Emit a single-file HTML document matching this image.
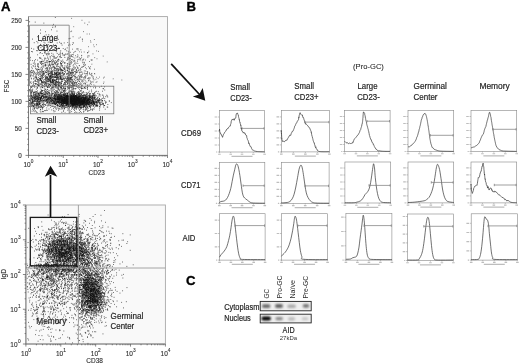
<!DOCTYPE html>
<html><head><meta charset="utf-8"><style>
html,body{margin:0;padding:0;background:#fff;width:520px;height:364px;overflow:hidden}
svg{display:block;filter:blur(0.3px)}
text{font-family:"Liberation Sans",sans-serif}
</style></head><body>
<svg width="520" height="364" viewBox="0 0 520 364">
<defs><filter id="sb" x="0" y="0" width="100%" height="100%"><feGaussianBlur stdDeviation="0.3"/></filter></defs>
<rect x="28.5" y="16.6" width="139.0" height="138.8" fill="#f9f9f9" stroke="#a8a8a8" stroke-width="0.9"/>
<g filter="url(#sb)">
<path stroke="#111" stroke-opacity="1.0" stroke-width="0.75" fill="none" d="M75.0 96.0h.75M78.6 96.1h.75M71.7 102.0h.75M64.3 108.5h.75M69.5 97.0h.75M63.1 103.1h.75M75.7 101.5h.75M91.1 97.8h.75M69.1 99.4h.75M67.6 99.5h.75M80.9 98.6h.75M79.3 107.2h.75M76.3 94.4h.75M63.8 101.3h.75M74.6 101.7h.75M83.3 99.1h.75M58.9 100.3h.75M69.5 103.2h.75M52.2 100.0h.75M59.5 101.2h.75M52.9 101.8h.75M72.2 93.8h.75M59.8 104.7h.75M78.3 108.3h.75M76.9 103.9h.75M72.8 103.8h.75M44.8 94.4h.75M68.5 99.9h.75M74.4 97.9h.75M76.4 98.7h.75M56.6 102.9h.75M69.3 97.7h.75M63.3 99.6h.75M65.3 93.8h.75M87.7 100.7h.75M65.3 100.4h.75M74.6 98.3h.75M85.6 98.8h.75M68.0 106.5h.75M73.7 96.5h.75M76.3 97.2h.75M75.8 98.0h.75M60.3 103.8h.75M75.9 107.6h.75M91.3 102.5h.75M56.4 97.3h.75M85.3 99.7h.75M76.4 104.2h.75M67.3 97.2h.75M99.0 106.6h.75M84.1 105.7h.75M60.6 100.1h.75M75.9 102.8h.75M81.9 103.4h.75M72.7 105.6h.75M83.2 97.5h.75M74.2 104.5h.75M83.0 99.8h.75M92.3 98.9h.75M66.9 100.5h.75M77.4 100.0h.75M69.4 97.1h.75M76.5 95.4h.75M60.8 96.8h.75M68.0 105.0h.75M72.6 107.0h.75M85.8 103.3h.75M88.7 105.2h.75M59.1 98.1h.75M65.5 99.9h.75M82.8 101.9h.75M51.1 95.8h.75M69.4 97.1h.75M73.8 100.9h.75M90.1 100.3h.75M83.3 97.5h.75M71.1 101.7h.75M70.6 99.5h.75M72.0 103.8h.75M93.3 101.5h.75M69.9 99.4h.75M71.4 100.8h.75M79.2 100.2h.75M73.6 98.3h.75M72.6 99.2h.75M61.6 102.4h.75M74.9 102.7h.75M69.7 104.6h.75M89.0 95.7h.75M82.8 99.7h.75M74.7 99.2h.75M83.0 101.6h.75M70.9 98.9h.75M87.6 99.5h.75M74.9 103.2h.75M82.0 101.5h.75M59.5 96.0h.75M79.2 105.2h.75M54.7 102.9h.75M50.6 97.5h.75M71.3 103.2h.75M64.2 97.6h.75M77.0 104.4h.75M101.9 101.2h.75M65.0 97.5h.75M67.5 99.0h.75M77.5 98.2h.75M80.9 101.5h.75M72.9 101.1h.75M72.5 100.6h.75M83.4 99.2h.75M81.2 88.8h.75M62.6 100.3h.75M74.0 94.3h.75M75.4 101.4h.75M62.3 103.7h.75M78.1 101.7h.75M64.7 98.8h.75M86.7 100.6h.75M77.3 100.3h.75M76.1 98.8h.75M67.9 98.3h.75M73.6 97.5h.75M51.0 103.3h.75M61.4 99.9h.75M79.4 104.0h.75M49.5 98.5h.75M85.2 101.3h.75M54.0 99.0h.75M84.1 102.6h.75M64.9 102.8h.75M84.3 101.9h.75M76.6 98.5h.75M56.6 97.1h.75M90.0 106.8h.75M92.3 100.5h.75M74.2 99.6h.75M71.7 105.3h.75M73.1 104.1h.75M63.3 101.8h.75M88.2 99.9h.75M68.5 108.0h.75M74.4 101.9h.75M65.5 101.9h.75M67.5 99.7h.75M59.7 95.2h.75M90.1 96.9h.75M73.2 101.9h.75M86.6 102.5h.75M75.2 99.8h.75M66.7 96.3h.75M71.1 95.6h.75M68.3 99.2h.75M75.1 95.8h.75M70.5 103.3h.75M71.4 104.2h.75M58.5 109.1h.75M65.3 103.0h.75M94.8 99.6h.75M66.9 97.3h.75M62.4 88.6h.75M79.0 98.8h.75M91.9 100.9h.75M57.6 102.9h.75M72.5 102.5h.75M67.4 102.2h.75M53.9 100.2h.75M83.8 103.2h.75M74.7 105.4h.75M75.9 97.1h.75M66.0 98.6h.75M80.5 96.3h.75M68.5 105.6h.75M73.3 104.8h.75M61.7 102.4h.75M60.4 95.9h.75M91.0 102.0h.75M68.9 99.5h.75M78.5 101.0h.75M74.6 100.0h.75M69.7 102.1h.75M68.9 99.0h.75M82.6 103.8h.75M71.4 101.2h.75M73.2 99.5h.75M75.3 100.2h.75M89.1 99.9h.75M83.2 103.7h.75M79.6 99.9h.75M68.2 101.2h.75M58.4 98.5h.75M86.4 96.3h.75M86.6 104.2h.75M73.3 97.0h.75M81.5 103.2h.75M84.4 102.5h.75M85.0 95.6h.75M86.1 98.0h.75M69.5 98.6h.75M93.2 98.8h.75M60.0 96.0h.75M85.3 103.6h.75M80.9 100.1h.75M85.5 102.4h.75M97.5 100.3h.75M92.8 102.5h.75M61.3 97.4h.75M54.7 99.5h.75M84.8 103.0h.75M62.8 100.1h.75M74.9 99.1h.75M85.1 97.5h.75M55.3 100.2h.75M49.7 100.5h.75M78.1 99.9h.75M75.5 98.1h.75M72.1 102.2h.75M75.5 108.8h.75M64.7 99.1h.75M56.8 100.8h.75M73.0 101.7h.75M63.3 91.5h.75M55.3 100.0h.75M81.1 98.6h.75M74.3 105.1h.75M79.9 100.0h.75M63.1 97.4h.75M67.1 99.5h.75M63.0 100.6h.75M64.4 98.2h.75M77.3 100.5h.75M65.6 95.7h.75M79.3 100.1h.75M79.1 103.4h.75M99.3 108.3h.75M58.3 102.1h.75M85.7 102.0h.75M73.9 104.5h.75M74.8 104.0h.75M57.6 105.2h.75M69.5 103.9h.75M83.9 100.7h.75M74.0 101.4h.75M76.0 101.2h.75M71.5 101.4h.75M88.9 102.0h.75M74.7 98.0h.75M48.6 92.3h.75M66.7 98.0h.75M51.4 92.7h.75M36.0 98.9h.75M68.6 100.3h.75M91.0 95.9h.75M75.6 102.9h.75M60.9 102.8h.75M63.7 100.4h.75M88.6 106.8h.75M76.9 106.9h.75M75.6 96.6h.75M74.4 104.0h.75M75.5 102.1h.75M84.7 102.5h.75M81.6 104.0h.75M77.6 98.4h.75M62.5 98.0h.75M81.1 98.2h.75M66.8 97.7h.75M88.1 100.9h.75M59.7 95.0h.75M73.3 97.1h.75M74.9 102.5h.75M59.1 99.6h.75M95.7 102.9h.75M92.5 95.2h.75M69.4 97.7h.75M84.3 99.2h.75M79.5 100.9h.75M43.6 97.1h.75M78.0 103.8h.75M74.3 100.4h.75M76.0 100.7h.75M62.1 100.0h.75M71.8 102.8h.75M72.9 98.9h.75M89.3 105.0h.75M79.0 102.3h.75M74.9 101.1h.75M93.3 101.7h.75M68.3 102.0h.75M70.3 103.7h.75M53.2 102.6h.75M93.8 102.8h.75M86.6 104.1h.75M86.0 101.5h.75M83.0 105.1h.75M76.3 100.6h.75M77.6 93.9h.75M72.0 104.9h.75M72.6 100.8h.75M75.7 96.8h.75M93.1 100.9h.75M81.7 98.0h.75M74.3 107.5h.75M68.0 101.9h.75M67.4 95.0h.75M94.2 103.4h.75M81.1 99.6h.75M75.8 107.0h.75M70.8 96.9h.75M61.7 92.5h.75M74.2 100.8h.75M85.5 100.0h.75M70.3 99.0h.75M72.3 93.4h.75M72.3 101.9h.75M76.3 106.2h.75M55.9 93.3h.75M72.2 104.3h.75M64.7 98.2h.75M85.6 108.9h.75M65.8 101.6h.75M81.9 100.3h.75M93.3 105.2h.75M71.2 102.1h.75M67.8 98.3h.75M77.3 103.1h.75M75.0 98.9h.75M63.1 94.1h.75M80.5 107.6h.75M99.2 100.7h.75M71.9 98.4h.75M72.6 101.6h.75M62.5 94.8h.75M78.8 96.3h.75M60.0 98.2h.75M61.7 98.2h.75M90.4 101.6h.75M64.1 103.8h.75M88.0 99.7h.75M93.3 103.1h.75M78.1 102.7h.75M81.6 97.4h.75M98.4 102.5h.75M72.6 97.4h.75M67.9 103.8h.75M58.8 101.3h.75M75.5 100.7h.75M92.7 97.1h.75M86.5 101.6h.75M63.7 97.5h.75M64.7 102.4h.75M68.9 99.9h.75M78.5 98.1h.75M72.5 103.5h.75M77.6 103.1h.75M78.6 98.8h.75M71.4 104.3h.75M74.5 99.6h.75M77.5 99.7h.75M74.0 101.0h.75M81.0 98.4h.75M97.5 100.3h.75M82.1 100.4h.75M75.7 105.7h.75M54.8 104.5h.75M79.7 100.0h.75M51.6 104.7h.75M58.1 99.6h.75M85.3 102.4h.75M83.5 103.9h.75M73.2 101.5h.75M54.5 107.5h.75M70.5 101.2h.75M66.9 96.2h.75M82.6 105.3h.75M102.1 100.6h.75M77.6 99.7h.75M65.6 90.3h.75M61.0 103.2h.75M74.3 103.3h.75M72.9 103.1h.75M61.2 103.1h.75M76.4 106.3h.75M61.2 99.8h.75M88.3 104.4h.75M87.8 98.8h.75M88.0 100.1h.75M69.3 103.8h.75M81.2 102.2h.75M73.4 96.1h.75M70.3 101.6h.75M70.9 99.8h.75M59.4 97.1h.75M57.7 101.2h.75M84.5 99.7h.75M72.7 95.3h.75M77.6 97.1h.75M87.0 107.0h.75M54.2 94.6h.75M65.6 100.9h.75M77.1 102.7h.75M79.7 102.9h.75M70.5 96.3h.75M87.4 100.2h.75M77.5 101.2h.75M60.4 102.5h.75M63.8 97.9h.75M84.7 97.2h.75M80.6 104.2h.75M52.2 103.1h.75M91.2 102.6h.75M82.2 98.9h.75M91.1 102.7h.75M70.4 100.7h.75M71.5 103.2h.75M61.5 95.8h.75M105.4 102.5h.75M72.9 100.0h.75M94.1 97.9h.75M67.2 100.9h.75M77.0 100.8h.75M54.9 98.2h.75M70.4 101.7h.75M86.8 96.5h.75M60.0 99.7h.75M87.9 102.7h.75M79.0 101.7h.75M62.5 103.5h.75M69.0 96.3h.75M69.5 95.3h.75M74.4 101.4h.75M68.6 101.8h.75M65.1 107.1h.75M71.3 102.5h.75M62.7 97.1h.75M59.5 102.5h.75M74.4 97.8h.75M85.6 96.2h.75M56.6 108.3h.75M75.0 101.7h.75M67.2 102.6h.75M63.3 101.9h.75M85.2 107.1h.75M68.8 101.2h.75M93.0 105.5h.75M65.6 96.7h.75M79.6 96.2h.75M72.3 105.2h.75M66.0 105.0h.75M82.1 102.6h.75M73.1 101.3h.75M82.2 101.5h.75M74.4 98.3h.75M62.0 105.0h.75M73.8 102.7h.75M75.6 102.3h.75M86.5 102.4h.75M64.1 103.5h.75M74.5 102.2h.75M54.3 102.0h.75M82.8 97.1h.75M62.0 101.6h.75M53.3 106.7h.75M74.3 98.9h.75M88.3 100.8h.75M56.7 102.6h.75M61.9 103.1h.75M66.1 102.2h.75M61.4 94.6h.75M79.6 102.5h.75M65.3 96.2h.75M66.3 97.4h.75M82.0 102.8h.75M65.9 99.2h.75M80.2 103.5h.75M63.3 110.4h.75M60.5 102.4h.75M53.0 101.9h.75M97.3 98.8h.75M71.2 98.3h.75M77.9 97.2h.75M74.6 98.8h.75M76.9 97.1h.75M75.6 98.5h.75M97.9 101.1h.75M62.5 96.7h.75M56.3 95.0h.75M62.9 95.5h.75M59.0 101.3h.75M84.0 101.2h.75M84.8 104.5h.75M63.5 103.5h.75M58.3 98.6h.75M70.7 102.6h.75M91.7 96.7h.75M41.2 106.4h.75M81.3 104.9h.75M62.1 99.2h.75M87.5 97.4h.75M62.1 101.2h.75M71.6 94.3h.75M56.9 97.1h.75M63.3 102.5h.75M91.6 101.7h.75M84.8 99.5h.75M70.2 103.5h.75M64.6 96.7h.75M52.3 100.4h.75M70.3 98.7h.75M74.6 97.8h.75M74.0 102.1h.75M73.9 97.3h.75M61.5 106.2h.75M74.2 98.6h.75M74.5 107.1h.75M90.5 97.8h.75M97.4 103.7h.75M73.4 96.6h.75M65.8 95.7h.75M74.2 101.1h.75M67.7 102.5h.75M66.1 95.9h.75M74.3 104.5h.75M62.5 97.3h.75M82.3 101.4h.75M73.8 101.8h.75M78.0 102.7h.75M72.8 94.6h.75M66.3 105.5h.75M63.6 101.9h.75M72.2 99.1h.75M68.4 96.9h.75M77.8 95.1h.75M74.9 96.1h.75M58.7 101.6h.75M75.8 99.5h.75M58.9 96.1h.75M67.6 98.5h.75M71.5 105.6h.75M50.1 98.3h.75M76.1 98.7h.75M76.8 105.1h.75M73.1 102.0h.75M69.9 100.5h.75M70.5 98.4h.75M63.3 94.9h.75M71.8 96.6h.75M68.4 98.7h.75M76.1 99.9h.75M60.6 101.1h.75M77.8 102.6h.75M76.7 101.4h.75M73.3 101.2h.75M69.7 97.0h.75M81.6 93.8h.75M55.0 97.9h.75M80.5 97.7h.75M77.9 98.6h.75M78.4 99.9h.75M79.6 96.7h.75M67.2 96.5h.75M71.9 100.1h.75M82.6 101.4h.75M80.2 98.7h.75M77.5 102.4h.75M56.8 99.0h.75M81.5 97.6h.75M89.0 101.4h.75M87.1 107.4h.75M77.8 98.5h.75M56.3 103.5h.75M86.3 105.7h.75M73.2 105.5h.75M44.6 96.4h.75M79.5 107.5h.75M57.1 100.1h.75M59.4 99.0h.75M67.4 99.5h.75M90.3 103.3h.75M70.5 100.5h.75M78.3 100.2h.75M96.0 105.9h.75M94.1 99.2h.75M73.8 97.1h.75M72.1 103.1h.75M59.9 102.2h.75M66.7 103.8h.75M80.1 97.3h.75M79.7 104.4h.75M76.3 102.3h.75M86.9 107.0h.75M65.7 96.0h.75M74.3 101.3h.75M83.8 100.1h.75M82.0 95.7h.75M87.9 98.9h.75M79.8 104.6h.75M71.3 98.9h.75M79.3 98.4h.75M63.0 102.9h.75M55.3 102.9h.75M82.0 104.2h.75M74.3 98.0h.75M78.7 100.6h.75M54.6 103.0h.75M70.6 98.2h.75M67.8 97.8h.75M64.6 102.8h.75M47.9 104.4h.75M71.0 96.6h.75M85.8 92.6h.75M79.6 96.0h.75M67.8 96.9h.75M74.8 100.1h.75M84.1 103.1h.75M41.9 98.5h.75M73.5 98.2h.75M81.5 101.4h.75M83.2 97.8h.75M95.4 101.5h.75M88.6 99.2h.75M78.8 109.6h.75M78.6 103.5h.75M84.4 98.3h.75M68.5 97.0h.75M74.5 99.1h.75M85.9 95.7h.75M98.5 99.4h.75M73.1 98.1h.75M74.4 103.5h.75M77.4 99.3h.75M91.1 98.8h.75M74.6 96.2h.75M92.6 97.6h.75M63.4 99.8h.75M72.8 99.8h.75M72.6 104.2h.75M84.4 99.0h.75M87.5 104.7h.75M56.9 100.5h.75M64.0 100.0h.75M79.0 94.2h.75M67.1 95.9h.75M56.7 102.1h.75M87.5 105.8h.75M80.9 101.6h.75M80.9 103.4h.75M69.3 99.0h.75M87.3 100.0h.75M72.1 98.3h.75M88.2 104.5h.75M64.1 101.2h.75M64.8 99.3h.75M77.5 99.6h.75M66.6 102.0h.75M83.1 102.1h.75M78.1 98.0h.75M63.9 105.7h.75M75.9 101.5h.75M70.8 100.4h.75M86.0 106.0h.75M67.4 103.6h.75M69.7 100.0h.75M89.5 103.1h.75M101.9 98.4h.75M99.0 99.7h.75M75.8 93.2h.75M77.6 104.8h.75M93.4 95.3h.75M73.5 102.8h.75M63.3 97.3h.75M76.4 97.4h.75M80.4 100.2h.75M65.1 101.0h.75M55.2 101.6h.75M57.8 105.6h.75M83.0 102.2h.75M65.9 103.1h.75M73.3 98.5h.75M77.6 103.1h.75M82.4 101.5h.75M71.0 98.9h.75M81.0 100.6h.75M64.3 99.9h.75M70.7 101.0h.75M62.7 101.3h.75M88.6 99.6h.75M74.7 98.1h.75M66.1 102.6h.75M70.8 94.8h.75M72.3 98.4h.75M83.4 106.1h.75M55.9 90.7h.75M62.6 97.7h.75M70.5 102.6h.75M105.4 96.7h.75M86.5 109.7h.75M73.7 92.0h.75M83.5 105.8h.75M99.7 107.0h.75M72.2 103.5h.75M70.6 99.6h.75M89.5 102.5h.75M80.9 97.9h.75M83.1 103.7h.75M68.9 96.6h.75M98.1 100.9h.75M95.5 104.9h.75M81.8 97.3h.75M83.2 99.8h.75M50.7 99.9h.75M82.7 96.6h.75M72.7 104.3h.75M80.2 102.0h.75M83.2 96.0h.75M70.9 100.2h.75M54.7 97.0h.75M79.4 98.7h.75M66.1 100.4h.75M71.0 98.1h.75M67.7 103.4h.75M70.9 98.1h.75M47.3 102.5h.75M89.6 101.2h.75M78.0 103.6h.75M88.3 99.5h.75M98.8 100.1h.75M75.3 96.8h.75M53.4 101.4h.75M64.3 103.2h.75M60.5 106.9h.75M69.0 104.6h.75M76.0 101.5h.75M51.0 98.7h.75M79.1 102.1h.75M56.9 99.6h.75M78.6 105.6h.75M73.7 103.6h.75M71.2 97.7h.75M74.1 98.3h.75M68.5 104.8h.75M67.7 101.2h.75M54.8 98.8h.75M74.6 104.5h.75M97.1 100.4h.75M98.8 100.9h.75M90.9 99.9h.75M83.5 94.5h.75M66.9 103.0h.75M92.3 97.5h.75M74.3 98.7h.75M74.2 98.1h.75M71.5 102.8h.75M76.1 100.4h.75M69.8 100.4h.75M74.0 95.0h.75M62.0 99.7h.75M70.5 95.5h.75M102.4 103.0h.75M74.2 101.8h.75M72.1 100.4h.75M81.4 107.7h.75M83.5 102.8h.75M61.6 101.9h.75M72.5 100.9h.75M86.0 100.5h.75M78.2 103.9h.75M76.5 104.3h.75M93.6 97.2h.75M66.9 103.7h.75M76.0 102.3h.75M68.8 103.5h.75M92.9 103.0h.75M51.6 95.3h.75M67.0 96.3h.75M68.7 106.3h.75M83.0 101.8h.75M82.3 96.3h.75M91.7 102.6h.75M56.1 98.5h.75M84.0 95.0h.75M71.5 92.9h.75M67.0 94.9h.75M81.5 101.8h.75M64.0 99.9h.75M50.1 98.5h.75M70.6 101.3h.75M57.0 101.7h.75M67.2 93.3h.75M79.5 99.8h.75M78.7 98.1h.75M94.0 97.5h.75M72.6 98.7h.75M56.6 99.3h.75M65.9 99.3h.75M64.0 95.2h.75M60.4 98.3h.75M80.2 107.5h.75M67.3 96.7h.75M51.3 93.8h.75M83.4 101.9h.75M73.7 102.5h.75M79.3 102.3h.75M76.3 97.0h.75M82.6 104.3h.75M75.5 98.0h.75M89.8 97.6h.75M80.1 98.8h.75M79.7 100.5h.75M79.9 103.2h.75M57.5 101.8h.75M73.0 100.4h.75M71.9 103.5h.75M77.5 101.0h.75M58.7 102.7h.75M94.6 96.9h.75M76.3 95.5h.75M60.5 102.4h.75M54.5 95.0h.75M71.6 99.4h.75M73.9 100.2h.75M66.4 98.6h.75M76.1 99.2h.75M67.3 104.8h.75M81.6 92.6h.75M66.3 103.1h.75M74.5 108.2h.75M86.7 101.3h.75M105.9 102.1h.75M62.9 102.4h.75M69.4 106.4h.75M64.9 96.2h.75M84.4 101.4h.75M61.2 99.3h.75M69.2 102.2h.75M74.6 101.1h.75M63.3 102.2h.75M63.5 98.6h.75M69.3 100.5h.75M49.8 97.1h.75M57.7 97.5h.75M70.0 99.9h.75M76.8 100.2h.75M72.8 96.6h.75M53.7 104.7h.75M69.4 99.9h.75M84.6 96.5h.75M81.7 104.6h.75M74.1 98.1h.75M64.4 101.7h.75M82.6 100.9h.75M68.1 101.1h.75M61.0 100.5h.75M65.4 98.2h.75M92.4 101.6h.75M77.6 107.4h.75M88.9 93.9h.75M69.2 100.5h.75M86.3 102.6h.75M67.8 96.8h.75M73.1 96.0h.75M104.8 109.2h.75M84.2 99.8h.75M69.0 107.2h.75M74.0 102.3h.75M78.9 101.0h.75M89.5 102.9h.75M69.1 102.4h.75M54.1 103.4h.75M71.6 101.9h.75M75.2 101.1h.75M76.3 101.2h.75M90.8 105.9h.75M78.8 103.5h.75M84.8 97.8h.75M61.8 97.8h.75M85.4 102.2h.75M100.2 99.8h.75M84.3 99.8h.75M78.0 97.6h.75M76.8 99.8h.75M96.4 103.1h.75M63.9 103.3h.75M73.7 100.6h.75M80.5 107.7h.75M83.9 100.8h.75M69.8 110.9h.75M78.7 104.1h.75M71.7 102.1h.75M76.4 99.0h.75M73.4 91.2h.75M61.3 99.4h.75M74.7 101.2h.75M85.5 107.5h.75M63.4 95.5h.75M72.1 106.7h.75M83.0 100.2h.75M62.2 102.3h.75M77.2 92.3h.75M62.3 100.4h.75M88.6 100.1h.75M102.8 104.2h.75M99.3 102.1h.75M72.4 96.7h.75M83.9 104.2h.75M76.5 103.0h.75M76.2 102.6h.75M93.6 104.9h.75M59.2 103.4h.75M87.7 101.2h.75M74.4 96.1h.75M91.9 96.9h.75M77.2 105.2h.75M66.9 102.5h.75M78.3 101.1h.75M83.8 99.6h.75M75.4 100.7h.75M80.9 101.0h.75M68.7 99.2h.75M49.4 97.0h.75M85.8 108.3h.75M83.4 101.8h.75M76.8 98.7h.75M75.8 96.3h.75M87.4 98.8h.75M69.5 102.7h.75M66.5 102.7h.75M72.7 99.8h.75M89.3 101.5h.75M58.4 98.8h.75M89.3 97.7h.75M67.3 104.5h.75M61.8 101.2h.75M90.1 109.5h.75M73.8 98.0h.75M59.4 99.4h.75M70.7 103.3h.75M86.2 100.3h.75M89.3 96.7h.75M69.9 97.2h.75M79.9 101.2h.75M83.6 102.2h.75M67.3 99.9h.75M79.3 104.1h.75M74.6 103.9h.75M68.6 101.3h.75M69.1 100.4h.75M75.8 99.8h.75M75.4 102.4h.75M68.2 103.3h.75M69.9 100.5h.75M88.4 102.8h.75M77.6 99.7h.75M85.6 96.5h.75M89.4 98.0h.75M82.1 103.5h.75M102.3 103.4h.75M65.1 105.4h.75M84.7 101.3h.75M71.2 103.3h.75M97.3 106.1h.75M95.4 104.9h.75M51.5 97.4h.75M63.4 99.4h.75M83.0 101.4h.75M84.5 97.8h.75M83.8 102.6h.75M74.1 103.9h.75M80.5 99.3h.75M82.8 107.5h.75M74.1 99.6h.75M87.3 100.5h.75M47.9 98.5h.75M82.6 98.6h.75M62.6 101.4h.75M86.5 101.2h.75M72.3 105.9h.75M64.3 102.1h.75M79.5 102.6h.75M64.1 99.3h.75M64.0 95.4h.75M56.2 99.4h.75M74.7 97.8h.75M81.0 104.0h.75M87.3 101.1h.75M73.3 106.0h.75M87.6 103.7h.75M75.2 103.4h.75M73.9 101.3h.75M81.9 101.6h.75M87.7 103.4h.75M70.9 103.4h.75M72.1 98.1h.75M73.1 102.1h.75M76.0 109.3h.75M64.2 99.8h.75M87.3 100.4h.75M70.2 98.1h.75M80.5 96.1h.75M65.1 104.0h.75M79.3 101.0h.75M79.7 101.8h.75M70.0 106.4h.75M99.3 110.1h.75M79.5 97.9h.75M96.3 105.1h.75M86.5 103.2h.75M67.1 101.5h.75M70.4 102.0h.75M80.2 100.8h.75M75.7 105.9h.75M75.6 102.7h.75M71.6 101.6h.75M53.3 103.6h.75M72.3 103.4h.75M48.4 100.8h.75M79.5 101.9h.75M66.3 106.0h.75M66.4 101.9h.75M72.4 100.2h.75M78.3 97.9h.75M57.8 98.6h.75M54.0 96.1h.75M62.2 100.3h.75M50.5 100.2h.75M63.4 93.3h.75M94.1 101.6h.75M62.3 102.1h.75M82.8 101.5h.75M58.5 96.6h.75M78.6 105.0h.75M71.2 98.1h.75M74.3 96.5h.75M81.8 97.4h.75M96.1 101.6h.75M77.3 104.0h.75M76.5 104.5h.75M63.3 100.7h.75M82.0 97.0h.75M72.0 98.3h.75M85.0 98.1h.75M74.5 100.0h.75M95.9 95.8h.75M51.2 99.8h.75M71.4 102.6h.75M85.6 100.6h.75M70.8 101.9h.75M65.5 97.0h.75M71.8 95.6h.75M58.4 97.7h.75M76.4 104.5h.75M104.3 105.5h.75M88.7 99.8h.75M61.7 103.9h.75M64.5 99.0h.75M70.1 105.3h.75M87.1 102.8h.75M65.1 98.6h.75M66.7 102.8h.75M85.6 98.6h.75M85.4 98.0h.75M70.5 95.6h.75M61.6 100.8h.75M56.4 99.5h.75M66.6 99.9h.75M48.2 97.9h.75M84.0 105.8h.75M67.4 98.8h.75M80.8 98.5h.75M97.4 105.8h.75M89.1 106.0h.75M61.2 101.0h.75M85.4 95.4h.75M88.9 99.3h.75M66.0 102.2h.75M63.6 100.1h.75M73.7 105.7h.75M55.8 95.1h.75M92.6 103.7h.75M46.1 97.1h.75M61.7 104.3h.75M71.8 100.2h.75M72.3 103.9h.75M77.0 98.6h.75M78.3 96.1h.75M72.4 96.8h.75M88.6 99.3h.75M49.3 95.9h.75M75.0 104.6h.75M66.4 104.6h.75M76.6 101.6h.75M77.6 97.3h.75M64.1 99.7h.75M67.3 98.0h.75M84.5 105.9h.75M79.2 101.9h.75M66.8 101.8h.75M99.5 100.5h.75M102.7 95.3h.75M57.5 97.2h.75M78.6 97.1h.75M105.1 103.3h.75M84.4 101.4h.75M77.7 98.1h.75M72.5 99.2h.75M68.5 105.4h.75M72.4 97.3h.75M68.4 97.2h.75M83.9 100.3h.75M70.2 98.1h.75M69.7 98.9h.75M60.6 101.6h.75M74.4 106.3h.75M64.3 94.2h.75M72.8 100.4h.75M87.5 101.4h.75M79.4 100.5h.75M81.1 100.3h.75M79.3 99.7h.75M75.7 103.9h.75M73.5 99.0h.75M71.3 100.0h.75M84.1 101.1h.75M62.0 100.3h.75M91.1 100.8h.75M75.4 103.9h.75M66.0 100.1h.75M69.1 100.9h.75M66.9 100.0h.75M76.9 97.4h.75M66.4 97.4h.75M88.7 97.8h.75M65.6 100.8h.75M47.7 96.9h.75M66.2 96.7h.75M50.9 100.2h.75M74.5 102.3h.75M87.7 95.4h.75M82.8 106.6h.75M58.9 99.9h.75M65.9 99.8h.75M96.3 105.2h.75M78.8 101.0h.75M75.0 98.6h.75M87.7 108.5h.75M104.4 98.5h.75M90.6 101.1h.75M76.7 103.5h.75M79.3 97.3h.75M82.4 100.6h.75M67.6 101.5h.75M62.3 107.9h.75M75.6 97.7h.75M63.6 99.9h.75M74.3 102.7h.75M76.2 100.9h.75M103.1 98.0h.75M64.8 101.4h.75M73.5 100.9h.75M73.0 102.0h.75M80.2 104.6h.75M87.6 104.6h.75M69.1 101.7h.75M65.1 101.1h.75M55.3 96.0h.75M63.9 99.6h.75M81.4 101.6h.75M75.5 99.3h.75M62.8 100.3h.75M70.5 97.7h.75M75.4 105.7h.75M81.0 108.0h.75M67.9 99.0h.75M72.0 101.8h.75M53.2 98.7h.75M61.2 104.1h.75M94.4 103.0h.75M48.7 99.5h.75M70.9 99.7h.75M77.6 101.1h.75M70.5 97.1h.75M65.3 102.3h.75M74.3 98.2h.75M74.9 102.4h.75M74.0 101.0h.75M52.5 103.1h.75M73.2 100.5h.75M64.7 103.5h.75M68.4 97.2h.75M77.7 102.7h.75M82.7 100.2h.75M85.8 101.8h.75M69.0 100.5h.75M86.1 104.2h.75M89.1 94.6h.75M88.6 102.3h.75M91.7 96.5h.75M73.3 104.5h.75M72.9 94.0h.75M84.9 97.8h.75M58.6 94.3h.75M77.5 106.1h.75M68.6 96.0h.75M70.6 100.8h.75M54.1 97.8h.75M64.3 94.1h.75M74.8 99.5h.75M85.7 103.3h.75M86.9 100.6h.75M74.0 103.7h.75M72.7 99.3h.75M65.0 100.1h.75M79.8 99.6h.75M72.0 101.6h.75M82.3 107.2h.75M96.0 102.8h.75M74.6 101.2h.75M57.0 97.7h.75M64.7 97.6h.75M57.5 104.6h.75M60.6 96.2h.75M90.7 98.4h.75M77.7 100.4h.75M56.8 98.3h.75M82.8 107.4h.75M90.1 93.5h.75M70.7 101.6h.75M66.9 102.5h.75M71.0 96.7h.75M78.4 98.6h.75M82.7 102.4h.75M89.2 106.7h.75M89.5 98.3h.75M89.2 96.1h.75M91.3 104.6h.75M82.9 106.0h.75M56.6 98.6h.75M73.4 93.2h.75M78.8 105.6h.75M70.4 99.7h.75M85.9 104.9h.75M70.7 100.2h.75M63.9 98.8h.75M92.3 100.0h.75M83.0 105.9h.75M77.6 105.5h.75M86.1 94.1h.75M87.8 98.1h.75M79.1 106.7h.75M45.5 97.9h.75M66.9 95.7h.75M69.5 100.3h.75M63.2 99.7h.75M77.4 100.4h.75M89.3 99.7h.75M69.2 99.3h.75M61.4 98.4h.75M99.3 102.9h.75M69.6 97.6h.75M60.2 98.9h.75M77.9 100.3h.75M80.1 105.2h.75M66.5 101.4h.75M84.5 100.7h.75M69.2 102.1h.75M63.9 101.4h.75M77.1 104.3h.75M84.2 102.7h.75M67.4 106.1h.75M79.0 105.2h.75M73.9 100.4h.75M108.9 100.9h.75M66.5 103.1h.75M91.6 103.1h.75M74.4 100.3h.75M73.5 95.7h.75M83.7 95.0h.75M85.7 102.3h.75M90.2 103.9h.75M78.9 103.4h.75M67.8 96.0h.75M68.5 103.7h.75M81.1 99.1h.75M82.0 102.2h.75M91.8 102.8h.75M80.0 98.2h.75M87.7 99.3h.75M93.2 94.7h.75M77.0 97.7h.75M57.2 93.8h.75M60.8 101.3h.75M57.7 99.9h.75M94.1 104.6h.75M64.8 101.3h.75M89.8 99.2h.75M82.0 102.1h.75M95.6 100.3h.75M87.0 103.2h.75M73.8 101.6h.75M72.6 97.2h.75M76.0 100.7h.75M77.1 100.9h.75M68.6 99.3h.75M74.6 103.5h.75M94.3 107.2h.75M54.6 98.4h.75M78.1 99.6h.75M64.1 92.6h.75M77.2 100.3h.75M85.1 99.7h.75M74.3 93.4h.75M84.3 102.0h.75M55.9 101.6h.75M88.3 98.8h.75M67.8 99.0h.75M82.5 97.8h.75M77.2 103.2h.75M44.0 94.0h.75M65.9 99.1h.75M77.6 107.2h.75M93.6 101.7h.75M78.4 102.3h.75M78.1 100.3h.75M58.0 95.9h.75M92.2 101.4h.75M96.7 103.0h.75M75.3 97.2h.75M72.4 101.6h.75M55.6 103.7h.75M85.6 104.7h.75M107.4 97.0h.75M83.6 97.8h.75M90.2 96.0h.75M81.5 104.5h.75M63.2 102.0h.75M91.0 103.7h.75M60.2 97.0h.75M72.5 96.6h.75M78.3 101.0h.75M85.6 101.5h.75M80.0 98.0h.75M79.6 101.3h.75M65.9 102.3h.75M59.5 100.6h.75M75.7 97.2h.75M66.5 93.2h.75M59.3 99.0h.75M59.8 100.4h.75M69.1 99.4h.75M52.8 98.1h.75M58.8 97.5h.75M55.4 102.0h.75M77.2 100.5h.75M79.9 101.3h.75M99.1 98.6h.75M57.0 97.7h.75M66.8 100.7h.75M86.0 97.8h.75M72.4 96.3h.75M71.1 99.3h.75M95.5 105.6h.75M70.9 101.0h.75M61.1 104.7h.75M59.2 99.4h.75M79.0 99.8h.75M78.7 96.2h.75M58.5 97.9h.75M63.2 104.7h.75M81.4 102.0h.75M81.9 103.4h.75M67.3 102.5h.75M82.5 100.9h.75M81.9 100.3h.75M53.6 99.9h.75M71.3 102.6h.75M80.0 102.4h.75M68.1 101.9h.75M49.3 99.8h.75M71.6 97.9h.75M84.0 100.2h.75M94.0 98.4h.75M48.7 102.6h.75M106.4 95.2h.75M61.5 99.2h.75M86.5 109.1h.75M89.8 100.2h.75M86.8 97.4h.75M76.8 100.6h.75M61.1 104.2h.75M82.5 100.4h.75M66.4 102.2h.75M44.7 99.4h.75M108.9 101.1h.75M83.5 111.4h.75M96.8 101.9h.75M64.1 98.3h.75M92.6 99.9h.75M94.1 102.8h.75M93.7 102.9h.75M74.7 103.1h.75M60.6 100.3h.75M72.9 95.8h.75M48.6 101.0h.75M54.6 98.6h.75M76.1 99.7h.75M63.1 95.1h.75M73.0 98.6h.75M73.7 98.1h.75M98.2 101.6h.75M90.6 96.6h.75M74.5 100.7h.75M89.5 101.7h.75M65.6 96.4h.75M71.0 98.3h.75M85.9 98.3h.75M60.1 102.9h.75M71.7 92.1h.75M59.1 98.7h.75M76.4 95.2h.75M94.6 100.2h.75M66.0 102.9h.75M77.7 98.7h.75M64.2 100.5h.75M61.2 97.1h.75M60.2 106.3h.75M92.5 104.5h.75M103.3 105.7h.75M80.8 96.5h.75M66.4 96.5h.75M83.5 104.6h.75M71.0 99.8h.75M84.6 100.2h.75M78.5 101.9h.75M78.4 96.6h.75M82.3 103.5h.75M68.0 100.3h.75M70.1 101.9h.75M54.3 97.4h.75M69.7 102.0h.75M57.9 97.4h.75M73.3 103.7h.75M63.5 103.8h.75M76.2 103.7h.75M80.4 102.6h.75M58.0 101.8h.75M65.2 91.2h.75M63.7 102.8h.75M84.0 100.1h.75M95.5 101.9h.75M85.2 100.2h.75M70.8 95.8h.75M92.6 99.7h.75M56.8 101.9h.75M93.0 106.2h.75M67.1 98.2h.75M41.6 95.9h.75M106.8 107.0h.75M93.9 98.6h.75M62.6 106.8h.75M77.0 100.9h.75M72.4 97.6h.75M76.2 103.9h.75M57.2 105.3h.75M66.8 95.5h.75M80.6 106.0h.75M77.7 99.8h.75M89.4 106.2h.75M76.0 99.4h.75M103.2 96.8h.75M66.4 101.8h.75M78.1 103.8h.75M52.0 106.4h.75M60.0 105.5h.75M90.9 103.7h.75M63.7 99.2h.75M81.4 99.2h.75M74.3 99.6h.75M62.5 97.2h.75M70.8 99.5h.75M68.8 91.9h.75M69.2 100.9h.75M84.0 101.0h.75M82.8 109.5h.75M68.1 102.8h.75M64.1 98.5h.75M78.4 102.6h.75M73.8 96.5h.75M87.3 99.2h.75M106.9 96.0h.75M85.1 105.8h.75M74.6 102.5h.75M72.9 96.6h.75M64.7 99.9h.75M64.1 103.2h.75M63.0 101.6h.75M70.3 101.6h.75M69.9 97.5h.75M83.9 98.9h.75M70.2 100.7h.75M72.6 103.5h.75M60.4 97.1h.75M94.7 97.9h.75M81.1 104.7h.75M96.5 98.6h.75M84.6 104.6h.75M92.9 102.3h.75M72.0 103.4h.75M83.6 106.8h.75M107.5 104.5h.75M60.3 102.4h.75M89.1 98.3h.75M95.4 99.3h.75M80.1 103.0h.75M84.2 106.1h.75M90.4 106.0h.75M67.0 107.8h.75M80.0 101.9h.75M64.3 100.7h.75M66.7 103.5h.75M67.4 100.3h.75M73.2 100.3h.75M76.8 97.2h.75M80.6 104.1h.75M57.6 96.2h.75M99.3 103.5h.75M89.2 96.6h.75M83.9 104.7h.75M70.6 97.0h.75M73.9 103.3h.75M81.7 95.7h.75M80.1 99.4h.75M54.3 103.5h.75M84.1 98.4h.75M110.9 102.6h.75M52.3 97.9h.75M87.2 93.6h.75M79.5 101.8h.75M73.6 102.0h.75M91.9 97.8h.75M60.4 101.8h.75M77.0 98.1h.75M93.0 98.2h.75M72.6 100.5h.75M69.8 98.1h.75M76.4 108.2h.75M69.5 95.2h.75M94.1 104.0h.75M63.8 103.3h.75M85.8 94.6h.75M59.6 94.1h.75M83.3 102.9h.75M73.7 98.9h.75M43.1 100.3h.75M74.9 104.4h.75M61.8 98.7h.75M69.5 96.8h.75M94.0 92.5h.75M61.2 100.6h.75M61.9 96.9h.75M92.8 102.5h.75M76.4 101.4h.75M94.0 97.0h.75M79.0 106.5h.75M64.1 103.6h.75M74.2 103.4h.75M90.2 97.4h.75M86.6 99.8h.75M75.0 98.8h.75M75.6 99.3h.75M73.6 96.8h.75M67.9 101.7h.75M98.8 102.5h.75M75.1 101.8h.75M61.0 98.2h.75M69.1 104.6h.75M84.0 101.7h.75M82.9 92.0h.75M73.3 98.4h.75M66.8 100.0h.75M75.3 103.8h.75M54.4 98.6h.75M58.9 99.0h.75M84.9 98.9h.75M69.1 102.5h.75M79.6 99.4h.75M90.0 99.4h.75M83.0 98.6h.75M75.3 102.4h.75M101.3 100.2h.75M83.2 95.5h.75M70.6 102.4h.75M84.0 98.7h.75M80.0 102.0h.75M64.4 101.3h.75M75.9 104.6h.75M73.0 103.9h.75M50.7 97.5h.75M72.9 99.9h.75M71.5 96.2h.75M69.6 105.9h.75M54.7 101.0h.75M70.6 105.0h.75M74.5 99.5h.75M76.3 93.9h.75M61.0 105.0h.75M82.8 101.3h.75M60.0 100.3h.75M72.2 100.6h.75M91.1 103.5h.75M66.5 101.9h.75M68.7 95.0h.75M88.2 104.8h.75M70.3 98.6h.75M71.3 98.9h.75M77.7 106.4h.75M87.9 104.3h.75M47.8 98.1h.75M64.8 94.0h.75M62.6 100.5h.75M61.6 101.7h.75M64.5 99.8h.75M64.7 96.0h.75M78.7 98.2h.75M64.1 95.9h.75M76.5 101.4h.75M79.9 103.6h.75M66.0 103.5h.75M76.6 98.3h.75M95.1 102.4h.75M79.0 102.6h.75M67.2 98.5h.75M74.2 100.1h.75M63.7 107.0h.75M78.3 101.4h.75M85.6 104.0h.75M64.9 98.7h.75M72.4 100.6h.75M88.6 95.6h.75M68.9 100.2h.75M77.3 104.6h.75M62.4 106.9h.75M65.0 104.0h.75M68.7 102.6h.75M101.1 102.1h.75M70.1 98.4h.75M68.6 99.8h.75M68.2 102.3h.75M73.0 97.9h.75M82.9 104.1h.75M77.3 97.5h.75M99.7 96.0h.75M77.6 97.4h.75M92.4 96.0h.75M78.3 96.2h.75M82.3 104.7h.75M57.7 99.1h.75M73.5 101.2h.75M74.2 104.4h.75M72.1 104.6h.75M49.2 97.6h.75M85.6 105.5h.75M70.4 101.6h.75M69.7 100.3h.75M71.9 101.9h.75M72.3 95.8h.75M79.9 98.3h.75M59.7 99.5h.75M63.8 102.1h.75M78.5 99.5h.75M76.7 100.3h.75M70.5 103.6h.75M68.1 104.9h.75M65.0 102.6h.75M74.3 104.8h.75M89.2 100.0h.75M62.3 99.0h.75M93.3 102.6h.75M85.1 100.1h.75M69.6 98.7h.75M84.4 106.5h.75M57.4 99.1h.75M54.2 96.4h.75M59.5 101.4h.75M70.1 106.4h.75M71.1 100.7h.75M68.8 104.4h.75M76.2 99.2h.75M49.4 97.7h.75M80.9 98.6h.75M58.0 99.3h.75M67.1 106.3h.75M70.0 96.5h.75M61.1 105.3h.75M58.5 96.4h.75M62.9 99.2h.75M74.9 103.4h.75M82.1 103.0h.75M81.8 101.9h.75M63.1 94.6h.75M65.5 101.3h.75M64.0 96.7h.75M80.4 109.3h.75M50.6 98.7h.75M89.9 102.0h.75M69.2 96.5h.75M65.6 98.5h.75M79.1 96.5h.75M87.4 104.5h.75M79.1 99.9h.75M87.6 103.1h.75M76.6 98.4h.75M89.8 99.7h.75M89.9 105.6h.75M73.8 97.3h.75M92.3 95.5h.75M77.0 102.0h.75M76.0 96.9h.75M63.9 98.6h.75M71.5 103.4h.75M84.3 98.4h.75M59.2 102.7h.75M82.8 98.7h.75M79.2 105.7h.75M78.3 105.1h.75M48.5 97.7h.75M73.8 99.8h.75M82.8 98.2h.75M65.8 100.8h.75M76.1 104.4h.75M46.5 94.4h.75M83.1 104.0h.75M67.1 95.8h.75M85.5 98.3h.75M52.9 93.6h.75M83.3 108.0h.75M72.2 100.7h.75M84.7 101.9h.75M63.9 97.8h.75M67.6 103.7h.75M101.9 95.0h.75M65.0 100.2h.75M66.5 107.5h.75M71.7 99.2h.75M62.7 100.0h.75M89.3 103.5h.75M95.7 99.0h.75M66.6 100.3h.75M54.3 102.7h.75M89.1 101.9h.75M88.3 102.5h.75M84.9 99.9h.75M88.9 102.3h.75M64.6 100.3h.75M73.0 105.3h.75M58.4 102.2h.75M58.0 98.9h.75M86.8 93.1h.75M66.9 102.6h.75M102.4 104.5h.75M75.9 97.6h.75M67.3 93.6h.75M84.6 97.3h.75M96.6 104.7h.75M80.8 97.4h.75M60.4 98.4h.75M79.5 101.5h.75M91.5 105.5h.75M69.1 100.2h.75M65.7 99.8h.75M87.2 99.4h.75M76.7 106.1h.75M61.8 103.5h.75M70.4 100.1h.75M65.9 95.5h.75M78.6 98.2h.75M76.3 102.6h.75M88.8 98.9h.75M83.5 104.0h.75M56.2 100.9h.75M79.9 101.8h.75M85.8 103.3h.75M80.5 102.5h.75M87.4 98.4h.75M68.4 99.2h.75M63.6 107.8h.75M86.2 97.2h.75M62.2 98.4h.75M49.1 102.8h.75M87.3 100.7h.75M66.3 97.5h.75M71.3 96.0h.75M58.2 101.5h.75M59.1 103.2h.75M61.1 104.5h.75M70.7 100.6h.75M79.4 104.3h.75M47.4 95.8h.75M84.0 101.6h.75M60.8 97.7h.75M62.2 100.5h.75M83.1 103.5h.75M74.1 104.1h.75M56.6 96.4h.75M97.1 105.9h.75M64.7 98.5h.75M78.0 97.4h.75M77.4 100.2h.75M91.9 96.6h.75M69.5 100.3h.75M87.1 102.2h.75M66.1 99.5h.75M88.5 103.0h.75M65.8 99.1h.75M70.7 100.4h.75M97.8 97.0h.75M78.8 100.9h.75M76.3 97.9h.75M101.9 100.5h.75M79.3 100.5h.75M65.2 100.7h.75M83.8 95.6h.75M60.8 94.7h.75M88.5 100.3h.75M89.5 102.9h.75M68.1 101.4h.75M67.5 103.2h.75M77.1 105.0h.75M75.2 102.2h.75M63.3 99.9h.75M81.8 97.5h.75M50.5 96.3h.75M69.8 98.8h.75M70.2 101.2h.75M71.7 101.2h.75M78.7 100.8h.75M60.3 99.4h.75M82.1 103.0h.75M72.8 101.2h.75M67.2 101.2h.75M58.6 100.8h.75M60.8 98.1h.75M79.3 97.4h.75M63.4 101.6h.75M75.8 102.0h.75M87.7 100.5h.75M87.4 99.8h.75M93.7 109.1h.75M71.4 97.9h.75M62.0 99.2h.75M87.2 102.1h.75M78.7 97.0h.75M88.5 101.7h.75M75.1 106.5h.75M89.3 104.4h.75M85.2 103.2h.75M83.6 103.0h.75M81.0 101.3h.75M79.8 104.0h.75M77.8 100.2h.75M77.7 99.3h.75M86.9 101.5h.75M68.9 103.3h.75M95.8 102.7h.75M73.7 102.8h.75M86.8 94.5h.75M73.9 104.5h.75M72.0 108.2h.75M99.4 106.2h.75M71.3 99.4h.75M59.7 97.0h.75M66.4 101.1h.75M71.2 97.2h.75M100.9 104.3h.75M77.5 99.0h.75M86.2 104.3h.75M63.0 104.5h.75M79.2 94.1h.75M83.1 102.0h.75M96.6 99.4h.75M66.6 95.5h.75M82.2 98.9h.75M78.6 100.1h.75M62.7 103.4h.75M74.8 95.6h.75M71.8 103.9h.75M47.1 105.9h.75M82.2 102.9h.75M81.5 102.7h.75M69.7 100.3h.75M58.9 95.9h.75M92.8 103.3h.75M78.2 102.0h.75M87.2 103.6h.75M91.9 109.9h.75M68.7 102.7h.75M84.7 102.5h.75M72.1 105.6h.75M74.2 96.1h.75M74.0 96.8h.75M75.0 99.4h.75M88.4 99.1h.75M76.5 103.0h.75M73.2 99.5h.75M71.7 106.2h.75M79.1 105.8h.75M64.3 102.6h.75M69.0 99.0h.75M74.4 102.6h.75M68.2 102.9h.75M73.6 97.0h.75M67.7 101.4h.75M99.0 104.1h.75M90.9 102.1h.75M80.4 106.1h.75M74.4 104.6h.75M101.3 99.2h.75M78.9 101.2h.75M74.0 97.8h.75M78.6 102.7h.75M78.7 97.9h.75M91.9 104.5h.75M74.8 101.9h.75M100.2 105.1h.75M64.4 99.6h.75M83.3 96.2h.75M63.0 105.8h.75M96.8 101.1h.75M71.0 104.9h.75M74.3 102.0h.75M86.1 103.4h.75M90.1 107.4h.75M61.7 101.1h.75M70.8 105.0h.75M58.3 94.9h.75M76.6 103.6h.75M73.8 99.7h.75M70.8 99.9h.75M66.8 100.2h.75M70.4 101.5h.75M66.0 105.6h.75M81.3 94.8h.75M93.2 101.7h.75M51.8 97.1h.75M73.6 104.4h.75M70.0 99.0h.75M80.9 102.4h.75M63.6 98.7h.75M73.2 102.7h.75M62.5 103.3h.75M83.4 99.7h.75M76.2 100.8h.75M73.1 95.8h.75M79.4 101.8h.75M72.0 103.3h.75M56.4 97.8h.75M82.1 104.7h.75M78.5 93.9h.75M73.2 94.4h.75M86.8 96.6h.75M89.6 99.7h.75M61.9 100.0h.75M65.6 99.9h.75M93.6 101.3h.75M92.0 103.8h.75M66.1 98.6h.75M60.8 95.7h.75M67.3 96.1h.75M69.0 107.3h.75M56.0 91.9h.75M75.4 100.0h.75M59.6 104.6h.75M60.5 101.5h.75M86.0 98.4h.75M66.8 100.2h.75M74.1 103.4h.75M82.5 105.0h.75M84.8 98.1h.75M71.0 102.9h.75M75.5 101.5h.75M65.1 103.7h.75M96.0 106.2h.75M82.8 99.9h.75M61.8 95.2h.75M75.0 101.9h.75M83.6 106.9h.75M80.8 103.2h.75M97.0 102.5h.75M91.5 109.3h.75M68.5 96.8h.75M73.9 103.5h.75M59.6 97.9h.75M78.0 100.9h.75M76.8 101.0h.75M107.4 107.2h.75M76.2 97.6h.75M49.9 97.6h.75M66.9 94.9h.75M76.3 102.3h.75M59.9 98.3h.75M64.6 101.5h.75M70.6 96.8h.75M79.1 99.6h.75M73.0 103.9h.75M64.3 99.5h.75M84.5 103.1h.75M68.5 102.0h.75M69.0 99.1h.75M58.4 94.6h.75M65.6 103.4h.75M82.8 101.6h.75M55.6 102.9h.75M74.1 93.9h.75M83.6 95.6h.75M70.5 93.3h.75M77.9 97.9h.75M61.6 103.4h.75M90.7 103.3h.75M88.2 101.1h.75M77.8 101.2h.75M53.9 102.1h.75M62.4 99.0h.75M86.7 102.5h.75M95.6 102.1h.75M78.6 93.6h.75M90.0 100.1h.75M67.7 104.7h.75M72.7 99.2h.75M75.0 100.1h.75M80.1 98.9h.75M56.7 98.1h.75M86.3 104.9h.75M90.9 100.5h.75M61.2 96.5h.75M58.7 89.5h.75M79.2 98.9h.75M67.1 93.7h.75M46.6 93.2h.75M84.7 103.7h.75M76.9 103.0h.75M69.3 94.0h.75M100.4 104.7h.75M76.7 102.2h.75M66.0 97.6h.75M76.2 103.1h.75M62.5 94.6h.75M65.9 96.2h.75M79.6 96.1h.75M68.3 96.6h.75M69.6 103.2h.75M95.0 97.2h.75M85.3 97.3h.75M84.6 97.9h.75M81.3 101.6h.75M80.8 99.8h.75M92.5 104.3h.75M74.8 98.2h.75M97.3 97.5h.75M63.6 98.4h.75M71.9 100.6h.75M58.5 96.7h.75M70.9 101.3h.75M81.2 106.9h.75M92.4 99.5h.75M67.0 100.3h.75M75.1 105.0h.75M70.7 98.2h.75M66.1 97.3h.75M60.7 96.2h.75M75.7 101.9h.75M54.2 101.2h.75M76.3 100.1h.75M75.3 100.7h.75M67.1 104.4h.75M62.9 102.8h.75M58.4 95.1h.75M97.5 101.6h.75M58.9 100.1h.75M93.7 103.8h.75M82.2 100.1h.75M70.6 98.2h.75M61.1 98.3h.75M87.5 95.3h.75M95.8 101.5h.75M63.8 98.0h.75M71.4 101.9h.75M87.6 97.7h.75M79.0 99.3h.75M99.0 98.5h.75M68.2 96.6h.75M81.5 103.1h.75M60.0 98.2h.75M100.2 103.2h.75M66.2 96.4h.75M48.5 99.5h.75M73.5 94.8h.75M73.3 98.8h.75M98.0 100.0h.75M70.9 102.2h.75M74.8 101.1h.75M82.1 100.2h.75M94.0 104.2h.75M74.2 101.1h.75M87.5 102.9h.75M81.2 103.3h.75M71.4 100.1h.75M75.9 99.5h.75M75.3 101.6h.75M64.0 98.5h.75M89.6 102.5h.75M58.4 103.3h.75M89.1 104.0h.75M86.5 99.8h.75M73.9 96.2h.75M65.8 99.8h.75M72.3 99.9h.75M80.7 104.4h.75M83.9 99.6h.75M78.4 99.9h.75M86.9 103.5h.75M68.3 98.5h.75M77.8 100.1h.75M56.2 105.2h.75M84.2 105.8h.75M76.8 102.6h.75M70.0 101.1h.75M88.9 97.9h.75M83.3 102.7h.75M41.2 98.9h.75M75.5 101.2h.75M57.5 97.9h.75M87.8 101.0h.75M104.9 101.3h.75M68.8 101.2h.75M75.9 105.2h.75M72.0 101.5h.75M79.2 95.2h.75M82.7 97.6h.75M90.4 96.0h.75M63.2 97.2h.75M93.9 103.2h.75M63.8 101.2h.75M78.3 98.6h.75M88.9 102.0h.75M83.6 98.4h.75M63.7 95.2h.75M66.6 95.4h.75M69.5 97.3h.75M74.4 105.1h.75M88.8 96.7h.75M59.5 103.8h.75M80.6 105.1h.75M82.3 100.2h.75M81.7 100.6h.75M80.6 98.7h.75M93.2 101.3h.75M80.9 102.9h.75M85.3 101.0h.75M81.8 104.1h.75M96.5 105.4h.75M52.2 100.4h.75M90.4 102.3h.75M71.9 100.1h.75M71.6 101.4h.75M63.4 96.2h.75M52.6 100.6h.75M70.4 100.9h.75M66.8 97.2h.75M80.9 107.8h.75M57.3 96.3h.75M92.2 98.4h.75M78.3 101.5h.75M72.0 93.9h.75M66.5 97.4h.75M65.6 94.9h.75M61.4 96.6h.75M68.5 99.7h.75M75.1 101.5h.75M72.9 104.0h.75M58.0 102.2h.75M71.8 104.2h.75M64.3 101.8h.75M76.9 99.0h.75M97.4 105.2h.75M82.5 99.2h.75M71.2 98.2h.75M55.5 104.5h.75M58.0 102.2h.75M54.8 100.1h.75M83.7 103.3h.75M65.8 102.9h.75M75.8 96.0h.75M67.5 99.7h.75M76.1 96.6h.75M91.8 101.7h.75M66.8 97.8h.75M70.9 104.7h.75M65.3 101.6h.75M85.5 98.3h.75M62.7 99.7h.75M61.4 95.7h.75"/>
<path stroke="#111" stroke-opacity="1.0" stroke-width="0.75" fill="none" d="M61.7 92.5h.75M70.8 100.2h.75M65.7 96.5h.75M55.0 104.5h.75M70.1 101.7h.75M66.5 104.2h.75M81.8 88.3h.75M37.9 102.1h.75M70.4 94.7h.75M49.3 93.2h.75M64.5 93.0h.75M68.3 106.4h.75M73.3 103.9h.75M50.6 93.8h.75M64.3 91.1h.75M40.0 98.6h.75M35.6 95.5h.75M71.0 109.3h.75M60.0 89.0h.75M31.8 86.6h.75M45.7 96.8h.75M61.3 98.6h.75M88.9 99.4h.75M79.8 103.4h.75M75.3 112.0h.75M59.2 95.0h.75M69.5 87.1h.75M68.0 100.1h.75M68.4 104.0h.75M56.8 96.8h.75M92.6 106.2h.75M87.5 98.7h.75M59.3 108.3h.75M43.3 100.7h.75M97.9 91.6h.75M51.0 94.4h.75M82.5 88.5h.75M95.3 87.2h.75M44.0 100.2h.75M66.2 104.2h.75M54.7 111.2h.75M70.2 98.1h.75M66.7 97.0h.75M96.0 91.3h.75M71.6 104.9h.75M60.8 101.0h.75M81.2 94.6h.75M56.1 103.0h.75M54.4 102.1h.75M101.2 86.3h.75M46.2 103.3h.75M52.1 99.4h.75M61.7 96.0h.75M41.9 95.8h.75M79.9 108.5h.75M46.8 110.4h.75M51.2 91.0h.75M54.2 94.2h.75M43.3 104.4h.75M41.6 90.6h.75M63.8 93.8h.75M104.1 86.8h.75M74.2 110.5h.75M74.4 105.4h.75M33.8 101.5h.75M60.5 99.9h.75M39.6 95.8h.75M74.8 95.9h.75M56.8 102.5h.75M61.6 93.9h.75M59.3 106.5h.75M50.4 95.3h.75M33.6 92.8h.75M71.4 106.9h.75M36.0 97.6h.75M39.7 102.1h.75M55.6 95.8h.75M48.2 83.9h.75M65.6 102.1h.75M79.1 89.7h.75M65.4 105.5h.75M64.5 88.4h.75M61.4 86.4h.75M76.4 100.5h.75M67.5 99.2h.75M44.1 90.6h.75M38.7 104.3h.75M61.0 89.0h.75M54.0 95.5h.75M71.4 93.4h.75M80.8 96.0h.75M59.6 94.4h.75M96.2 102.2h.75M76.6 103.0h.75M87.0 87.4h.75M62.8 90.9h.75M35.1 96.0h.75M40.7 94.7h.75M73.7 100.5h.75M78.2 85.9h.75M47.8 103.2h.75M56.1 103.3h.75M65.6 97.4h.75M29.4 89.5h.75M54.6 98.5h.75M90.1 95.0h.75M100.3 102.2h.75M59.0 97.9h.75M93.9 103.2h.75M51.5 95.7h.75M46.4 107.9h.75M78.2 91.9h.75M54.2 101.7h.75M103.1 88.7h.75M66.9 103.3h.75M64.3 90.6h.75M88.0 92.6h.75M54.4 95.6h.75M58.1 99.6h.75M77.6 96.0h.75M78.8 112.5h.75M50.1 98.6h.75M62.6 92.2h.75M68.0 104.5h.75M78.3 103.8h.75M62.9 106.4h.75M92.0 110.1h.75M56.6 92.4h.75M50.1 105.4h.75M52.6 105.9h.75M46.5 100.1h.75M79.1 79.0h.75M65.8 94.8h.75M46.3 110.1h.75M67.3 86.9h.75M55.9 100.4h.75M70.5 102.2h.75M73.6 109.1h.75M47.1 87.0h.75M77.4 98.8h.75M94.7 104.1h.75M53.3 90.0h.75M74.4 98.2h.75M33.0 110.8h.75M72.1 102.0h.75M61.8 81.5h.75M64.6 97.7h.75M50.5 101.0h.75M55.8 96.5h.75M75.6 98.1h.75M57.2 97.1h.75M31.3 92.2h.75M84.0 100.1h.75M71.9 96.4h.75M73.3 96.5h.75M64.3 97.9h.75M102.9 103.5h.75M62.4 100.0h.75M70.3 90.7h.75M50.6 101.6h.75M48.7 95.5h.75M60.5 106.0h.75M67.3 103.6h.75M47.6 92.1h.75M92.2 100.6h.75M41.9 111.4h.75M53.0 108.6h.75M65.4 98.1h.75M38.5 104.3h.75M71.4 94.1h.75M72.5 89.1h.75M55.8 102.1h.75M95.5 100.1h.75M62.6 101.8h.75M66.1 98.3h.75M43.8 100.6h.75M30.9 95.2h.75M49.7 101.6h.75M55.3 103.9h.75M52.9 98.1h.75M74.9 103.8h.75M40.7 93.4h.75M85.2 110.0h.75M50.9 100.1h.75M51.8 97.8h.75M41.2 90.3h.75M77.3 100.9h.75M53.7 103.6h.75M65.1 88.9h.75M82.2 101.7h.75M68.2 101.4h.75M71.0 91.2h.75M83.4 102.0h.75M57.6 88.8h.75M58.1 108.2h.75M74.0 99.4h.75M68.8 90.9h.75M56.7 107.2h.75M61.9 106.0h.75M52.0 94.3h.75M74.0 112.8h.75M77.9 92.0h.75M61.2 100.5h.75M95.0 106.2h.75M33.4 83.7h.75M56.9 105.0h.75M92.0 98.1h.75M53.5 98.4h.75M32.3 91.5h.75M86.3 100.7h.75M71.0 91.3h.75M39.6 92.2h.75M75.1 95.6h.75M42.7 90.5h.75M37.0 108.7h.75M58.4 89.9h.75M52.5 93.6h.75M41.3 96.4h.75M54.5 98.5h.75M43.0 103.7h.75M62.2 103.8h.75M60.7 96.5h.75M74.6 96.0h.75M52.9 98.7h.75M37.1 103.8h.75M37.3 103.0h.75M56.7 95.1h.75M88.9 85.1h.75M76.5 112.4h.75M49.6 104.7h.75M78.1 100.2h.75M40.2 100.7h.75M79.4 95.1h.75M54.2 92.0h.75M75.0 96.3h.75M72.4 97.1h.75M56.1 94.4h.75M67.1 89.0h.75M41.9 96.5h.75M59.8 102.2h.75M80.7 95.3h.75M73.8 85.0h.75M62.7 97.2h.75M42.9 97.7h.75M80.3 90.5h.75M31.3 87.3h.75M46.7 101.2h.75M67.6 93.2h.75M39.4 101.7h.75M89.0 95.8h.75M80.9 102.6h.75M50.9 96.3h.75M51.1 88.7h.75M37.4 97.9h.75M35.9 96.4h.75M69.2 102.8h.75M72.4 95.6h.75M67.5 95.9h.75M66.0 104.1h.75M51.1 106.1h.75M67.7 103.4h.75M34.6 105.2h.75M61.3 101.5h.75M87.8 103.5h.75M85.1 104.2h.75M52.8 101.1h.75M55.1 98.9h.75M86.1 99.4h.75M34.1 98.6h.75M53.5 97.0h.75M65.4 96.1h.75M83.2 98.3h.75M46.0 100.1h.75M72.8 91.1h.75M55.7 85.6h.75M104.1 100.4h.75M68.9 88.1h.75M58.7 100.2h.75M55.1 99.4h.75M80.3 106.0h.75M73.5 109.4h.75M41.6 100.9h.75M65.1 94.9h.75M37.0 90.9h.75M47.5 93.4h.75M37.8 98.8h.75M37.2 85.0h.75M48.8 99.0h.75M43.5 98.4h.75M70.7 102.7h.75M75.6 96.3h.75M56.9 99.2h.75M41.0 93.7h.75M75.7 95.5h.75M74.3 108.6h.75M73.1 99.6h.75M78.8 100.9h.75M57.3 92.1h.75M38.4 107.8h.75M52.0 93.5h.75M71.4 103.7h.75M47.3 99.2h.75M48.5 92.3h.75M36.0 105.2h.75M40.2 98.6h.75M76.4 99.7h.75M69.4 101.4h.75M40.2 98.4h.75M41.7 96.0h.75M51.0 101.5h.75M71.1 95.9h.75M40.1 98.9h.75M58.1 94.2h.75M38.5 94.1h.75M68.8 95.3h.75M77.4 98.6h.75M40.3 106.2h.75M47.2 87.5h.75M75.6 99.3h.75M54.1 84.1h.75M51.4 91.7h.75M70.6 95.2h.75M64.7 83.9h.75M81.3 86.4h.75M75.6 99.5h.75M50.8 99.0h.75M59.1 97.8h.75M60.1 93.3h.75M36.7 112.5h.75M43.6 97.5h.75M78.8 92.9h.75M32.5 109.4h.75M79.2 102.5h.75M66.4 96.1h.75M58.7 106.3h.75M71.0 99.5h.75M69.8 102.7h.75M83.1 100.0h.75M54.0 91.8h.75M57.1 104.8h.75M56.8 99.5h.75M95.2 91.9h.75M78.3 93.5h.75M44.5 104.7h.75M55.2 96.1h.75M48.5 98.8h.75M61.5 102.8h.75M65.1 99.3h.75M102.7 88.6h.75M79.8 104.6h.75M69.2 104.1h.75M48.6 109.0h.75M58.6 100.9h.75M52.3 103.6h.75M62.2 108.8h.75M79.5 96.6h.75M33.9 109.8h.75M85.0 109.8h.75M54.6 103.6h.75M88.4 110.5h.75M68.7 104.0h.75M83.6 92.8h.75M71.5 105.9h.75M80.9 100.6h.75M62.4 101.2h.75M46.3 99.5h.75M73.5 107.3h.75M74.2 102.1h.75M99.2 94.0h.75M57.8 103.2h.75M80.5 93.8h.75M38.8 95.7h.75M57.3 96.0h.75M99.6 94.6h.75M86.9 100.8h.75M45.5 105.1h.75M87.1 110.8h.75M82.8 106.3h.75M75.4 105.1h.75M68.3 105.9h.75M65.7 107.2h.75M45.7 96.1h.75M52.1 103.0h.75M74.7 100.6h.75M64.0 97.7h.75M94.8 95.5h.75M55.4 95.2h.75M55.4 90.5h.75M66.5 101.9h.75M68.4 98.4h.75M62.7 99.2h.75M46.6 100.7h.75M88.4 103.2h.75M49.5 94.7h.75M74.3 97.8h.75M56.3 88.0h.75M39.9 84.1h.75M87.0 85.9h.75M46.2 86.6h.75M69.3 101.6h.75M55.1 108.1h.75M75.1 95.5h.75M59.7 109.1h.75M53.4 110.5h.75M100.5 104.6h.75M58.7 102.5h.75M42.1 93.8h.75M48.1 101.9h.75M73.3 95.6h.75M71.7 90.1h.75M61.6 90.2h.75M74.0 95.0h.75M30.9 98.4h.75M55.5 94.2h.75M57.1 99.4h.75M46.4 97.0h.75M64.4 95.9h.75M49.6 90.7h.75M47.2 89.4h.75M94.1 93.7h.75M75.0 100.5h.75M83.3 112.1h.75M62.6 105.4h.75M79.1 110.4h.75M75.8 101.7h.75M83.6 98.0h.75M104.4 90.0h.75M57.7 98.6h.75M66.5 84.7h.75M60.9 96.7h.75M36.7 100.8h.75M62.2 106.0h.75M73.2 96.1h.75M51.5 89.7h.75M82.3 95.5h.75M85.0 96.1h.75M54.4 106.5h.75M87.5 111.5h.75M93.4 93.8h.75M70.3 96.3h.75M44.2 97.7h.75M88.4 96.4h.75M59.0 90.6h.75M55.1 99.3h.75M64.0 101.0h.75M52.3 101.2h.75M81.3 90.8h.75M76.0 97.9h.75M83.9 87.4h.75M72.4 104.6h.75M47.7 92.0h.75M59.1 96.9h.75M77.8 95.8h.75M54.7 94.9h.75M57.6 87.2h.75M51.4 109.9h.75M82.7 100.3h.75M75.5 100.4h.75M61.5 112.3h.75M57.9 98.0h.75M69.7 102.3h.75M77.0 98.8h.75M75.7 106.4h.75M56.6 102.0h.75M69.8 100.7h.75M77.2 97.0h.75M75.8 100.5h.75M46.0 85.2h.75M48.0 97.9h.75M57.9 96.0h.75M65.2 96.8h.75M78.6 85.9h.75M73.1 103.5h.75M59.7 93.2h.75M62.4 97.2h.75M93.7 95.4h.75M51.0 87.9h.75M67.5 95.8h.75M90.2 86.7h.75M68.2 92.6h.75M68.7 98.7h.75M55.0 99.1h.75M60.0 97.8h.75M80.9 112.6h.75M70.5 101.5h.75M57.2 90.8h.75M78.1 94.7h.75M69.8 94.4h.75M63.9 97.6h.75M67.4 94.8h.75M66.6 93.2h.75M55.9 109.4h.75M53.7 99.0h.75M62.5 96.5h.75M44.8 97.1h.75M39.3 97.3h.75M85.4 107.8h.75M57.7 101.8h.75M61.6 106.0h.75M59.6 78.5h.75M62.4 100.8h.75M62.4 105.6h.75M63.2 111.6h.75M47.5 98.9h.75M78.8 87.6h.75M49.5 102.6h.75M80.6 94.8h.75M42.9 94.7h.75M79.9 105.6h.75M59.3 106.5h.75M49.9 103.4h.75M68.8 91.9h.75M63.4 91.1h.75M53.9 89.3h.75M50.3 107.3h.75M71.7 101.6h.75M77.8 104.5h.75M46.6 99.3h.75M91.0 98.3h.75M51.3 99.9h.75M89.7 104.7h.75M60.4 96.2h.75M50.3 98.7h.75M48.5 100.7h.75M42.3 109.0h.75M86.3 101.6h.75M60.5 99.0h.75M94.2 95.5h.75M58.4 89.0h.75M77.2 99.2h.75M55.4 97.1h.75M57.7 99.3h.75M90.2 103.6h.75M57.3 101.6h.75M82.9 100.6h.75M61.9 103.1h.75M48.5 100.0h.75M71.1 98.6h.75M51.2 101.8h.75M84.1 87.6h.75M79.3 106.9h.75M63.1 90.4h.75M73.0 104.2h.75M72.2 98.9h.75M57.0 106.0h.75M78.1 99.0h.75M57.9 92.7h.75M73.1 105.8h.75M44.9 100.0h.75M63.8 99.6h.75M69.5 99.3h.75M47.8 105.3h.75M54.5 104.1h.75M52.4 100.3h.75M75.2 88.7h.75M49.1 96.2h.75M70.0 99.5h.75M89.5 110.5h.75M68.5 101.3h.75M33.1 98.2h.75M64.4 106.6h.75M80.8 98.1h.75M57.0 98.7h.75M82.1 99.9h.75M73.2 89.1h.75M69.7 105.1h.75M57.4 101.6h.75M52.9 97.0h.75M57.5 91.4h.75M63.3 100.2h.75M71.6 108.0h.75M69.7 94.7h.75M56.8 92.0h.75M63.4 101.6h.75M69.2 88.5h.75M32.9 84.4h.75M48.4 96.0h.75M47.8 94.4h.75M58.5 97.1h.75M57.3 95.3h.75M57.6 101.0h.75M46.5 97.4h.75M74.3 95.0h.75M67.2 95.9h.75M32.7 103.0h.75M62.5 105.1h.75M42.0 104.8h.75M92.9 103.4h.75M54.1 77.4h.75M55.2 92.4h.75M63.8 96.8h.75M58.7 100.2h.75M61.2 88.4h.75M90.1 108.1h.75M66.4 100.9h.75M77.3 94.8h.75M82.6 99.9h.75M44.8 96.6h.75M92.7 93.9h.75M74.7 102.2h.75M79.5 95.9h.75M46.8 89.7h.75M77.0 94.8h.75M69.8 98.1h.75M52.7 91.9h.75M103.4 107.1h.75M72.5 91.8h.75M58.0 110.3h.75M65.8 104.7h.75M78.7 92.8h.75M82.7 99.7h.75M72.8 106.6h.75M84.3 97.7h.75M88.8 91.2h.75M40.1 99.6h.75M53.6 111.8h.75M45.4 89.2h.75M64.1 102.5h.75M88.3 99.0h.75M74.1 98.2h.75M43.5 96.4h.75M57.1 96.9h.75M80.9 105.7h.75M52.8 102.8h.75M60.6 92.5h.75M67.8 109.1h.75M29.6 90.5h.75M76.4 103.3h.75M68.5 100.1h.75M72.6 106.7h.75M44.7 101.3h.75M48.5 105.8h.75M51.6 98.8h.75M66.9 105.3h.75M63.6 101.2h.75M64.7 112.9h.75M94.6 94.4h.75M85.9 106.7h.75M49.4 102.0h.75M50.6 100.1h.75M93.2 95.3h.75M56.7 101.9h.75M87.2 89.4h.75M91.1 90.1h.75M52.6 103.6h.75M57.5 88.9h.75M63.9 108.3h.75M46.8 97.2h.75M44.8 100.6h.75M55.1 99.5h.75M77.7 101.7h.75M54.3 97.2h.75M58.6 96.6h.75M54.0 98.2h.75M37.8 105.8h.75M89.1 106.4h.75M50.6 101.4h.75M72.4 97.7h.75M37.2 88.1h.75M73.2 103.2h.75M84.9 104.5h.75M46.9 96.4h.75M66.1 104.2h.75M42.4 107.4h.75M71.5 99.6h.75M63.9 105.9h.75M66.2 101.0h.75M86.9 87.7h.75M70.8 95.9h.75M86.6 96.3h.75M73.8 102.4h.75M40.8 93.4h.75M67.1 96.1h.75M71.2 92.7h.75M36.3 98.7h.75M86.4 99.5h.75M63.6 105.3h.75M69.0 104.2h.75M46.2 100.1h.75M63.7 100.6h.75M67.7 99.7h.75M56.5 99.7h.75M63.8 109.1h.75M86.9 97.9h.75M42.3 101.0h.75M45.1 91.9h.75M47.3 101.3h.75M72.1 104.6h.75M45.9 96.1h.75M67.5 86.6h.75M45.1 96.7h.75M102.1 91.2h.75M72.1 103.2h.75M97.5 93.5h.75M44.1 110.6h.75M74.3 99.9h.75M45.1 93.8h.75M72.7 95.7h.75M74.5 91.9h.75M33.6 101.5h.75M41.9 108.7h.75M41.3 97.6h.75M35.2 105.0h.75M49.1 92.9h.75M45.0 101.0h.75M64.0 89.9h.75M72.1 107.0h.75M38.6 106.6h.75M52.2 86.8h.75M62.4 89.7h.75M58.1 92.7h.75M49.6 105.3h.75M76.8 96.2h.75M77.5 97.9h.75M74.5 103.6h.75M58.5 99.8h.75M98.0 100.5h.75M93.5 96.9h.75M55.0 106.3h.75M60.0 93.9h.75M83.6 109.9h.75M47.8 96.8h.75M69.4 93.8h.75M63.0 103.2h.75M49.5 101.9h.75M58.0 86.1h.75M33.9 100.4h.75M52.4 90.2h.75M103.2 104.1h.75M89.3 93.4h.75M84.3 101.3h.75M67.6 96.5h.75M80.1 111.5h.75M85.1 98.4h.75M80.4 91.3h.75M78.7 91.8h.75M45.7 93.1h.75M69.8 99.8h.75M52.5 98.9h.75M40.9 105.3h.75M41.6 100.0h.75M69.8 99.8h.75M81.1 101.1h.75M37.5 98.1h.75M93.5 100.8h.75M88.5 104.0h.75M55.2 104.0h.75M53.7 95.4h.75M60.8 87.4h.75M79.7 93.7h.75M55.2 100.8h.75M42.1 82.7h.75M68.2 95.8h.75M64.6 95.2h.75M82.9 91.6h.75M67.5 110.3h.75M76.1 107.9h.75M70.9 97.2h.75M75.1 107.5h.75M64.6 107.3h.75M47.1 91.5h.75M60.7 92.8h.75M84.7 97.2h.75M91.3 91.8h.75M69.6 99.4h.75M48.5 90.3h.75M48.9 98.8h.75M58.6 105.9h.75M87.0 100.3h.75M68.0 97.1h.75M61.0 108.9h.75M48.2 93.0h.75M77.9 105.1h.75M67.2 96.9h.75M61.1 100.3h.75M63.9 99.0h.75M92.4 99.7h.75M59.1 98.5h.75M92.4 93.8h.75M84.4 95.1h.75M62.9 101.7h.75M77.9 98.1h.75M59.8 91.3h.75M47.1 94.2h.75M57.2 94.3h.75M45.7 98.4h.75M71.2 100.0h.75M62.3 99.4h.75M72.2 94.5h.75M76.9 98.9h.75M67.6 80.0h.75M29.6 98.4h.75M65.0 88.0h.75M46.2 92.6h.75M63.9 90.9h.75M86.6 102.8h.75M31.3 90.9h.75M65.4 100.5h.75M60.6 95.5h.75M73.7 88.5h.75M62.6 101.7h.75M52.8 101.2h.75M49.0 103.7h.75M54.9 100.4h.75M29.6 100.5h.75M45.2 97.9h.75M55.4 99.3h.75M55.1 96.4h.75M60.6 92.8h.75M43.2 111.6h.75M71.7 86.5h.75M53.3 100.3h.75M37.5 101.5h.75M47.3 99.6h.75M55.1 92.3h.75M77.3 97.3h.75M70.7 95.6h.75M55.9 91.6h.75M62.4 98.3h.75M65.9 95.9h.75M98.7 95.0h.75M50.9 103.0h.75M70.4 91.7h.75M75.1 101.4h.75M44.8 94.6h.75M65.4 101.3h.75M64.9 99.0h.75M53.5 100.1h.75M72.2 92.1h.75M80.5 93.5h.75M82.3 92.9h.75M58.5 99.6h.75M65.4 103.3h.75M104.3 105.5h.75M42.1 95.2h.75M66.0 99.0h.75M78.0 88.0h.75M64.7 84.1h.75M73.8 92.8h.75M65.1 94.1h.75M75.6 88.4h.75M85.1 86.9h.75M58.0 101.9h.75M65.6 93.2h.75M61.0 87.5h.75M61.6 99.5h.75M41.6 96.3h.75M75.4 102.8h.75M92.6 93.5h.75M92.7 108.7h.75M85.0 88.4h.75M44.6 89.9h.75M89.4 97.5h.75M49.1 93.4h.75M61.0 107.5h.75M95.2 88.0h.75M42.7 93.6h.75M77.1 99.9h.75M67.1 102.0h.75M59.3 104.8h.75M46.2 100.6h.75M69.6 112.6h.75M53.7 95.2h.75M80.8 99.4h.75M84.0 103.9h.75M37.2 96.3h.75M52.9 96.4h.75M56.3 95.3h.75M40.7 94.1h.75M41.9 91.0h.75M63.6 94.7h.75M58.3 88.2h.75M32.3 100.7h.75M52.3 87.9h.75M71.3 111.6h.75M40.3 109.3h.75M45.4 105.4h.75M90.6 96.9h.75M85.7 94.4h.75M32.8 106.2h.75M37.7 99.4h.75M68.8 101.8h.75M40.6 93.6h.75M57.4 105.1h.75M53.9 93.0h.75M72.1 98.9h.75M39.9 101.4h.75M80.2 95.3h.75M59.2 95.3h.75M31.3 103.3h.75M70.9 97.7h.75M74.7 106.2h.75M57.6 82.5h.75M56.1 101.9h.75M69.9 101.5h.75M83.8 88.2h.75M64.7 89.8h.75M71.6 103.9h.75M61.1 91.3h.75M55.1 94.0h.75"/>
<path stroke="#111" stroke-opacity="1.0" stroke-width="0.75" fill="none" d="M39.5 95.8h.75M33.5 95.0h.75M38.8 103.0h.75M30.0 95.7h.75M37.6 94.7h.75M42.7 95.7h.75M37.8 99.7h.75M39.9 87.8h.75M36.0 99.3h.75M29.8 98.1h.75M44.7 104.6h.75M47.8 85.9h.75M31.6 106.6h.75M45.8 93.4h.75M35.4 99.1h.75M36.3 93.4h.75M37.8 96.7h.75M39.2 104.1h.75M42.5 104.0h.75M29.8 96.1h.75M38.8 102.1h.75M40.4 97.3h.75M33.9 100.0h.75M29.6 100.2h.75M29.5 102.8h.75M40.5 96.0h.75M40.8 98.6h.75M30.3 100.6h.75M43.7 95.0h.75M36.7 96.8h.75M30.4 103.5h.75M36.4 106.0h.75M34.4 87.4h.75M45.0 110.6h.75M50.3 98.2h.75M34.4 92.6h.75M42.3 100.1h.75M42.4 111.7h.75M32.3 102.1h.75M30.0 92.6h.75M46.1 96.8h.75M33.3 106.6h.75M35.5 91.7h.75M33.8 98.4h.75M34.8 97.7h.75M31.7 111.2h.75M40.5 97.7h.75M43.8 106.5h.75M33.2 95.6h.75M36.0 104.8h.75M31.5 89.9h.75M43.6 102.8h.75M50.7 102.8h.75M38.1 96.0h.75M40.7 100.8h.75M31.1 96.1h.75M45.5 95.7h.75M40.5 97.8h.75M41.2 91.2h.75M35.3 99.7h.75M31.8 98.9h.75M38.3 93.7h.75M31.9 104.0h.75M40.9 106.6h.75M31.4 91.9h.75M29.1 106.3h.75M37.3 99.0h.75M30.4 96.1h.75M39.7 99.3h.75M33.9 106.9h.75M42.6 102.3h.75M33.1 97.1h.75M31.4 95.7h.75M40.3 109.5h.75M55.4 93.5h.75M37.8 95.2h.75M38.7 101.5h.75M31.3 102.3h.75M36.1 91.6h.75M33.7 105.8h.75M41.5 101.0h.75M46.2 102.2h.75M34.6 96.6h.75M34.0 97.2h.75M38.6 101.8h.75M42.8 96.6h.75M38.8 93.3h.75M30.8 99.3h.75M37.9 104.2h.75M41.9 93.7h.75M31.0 105.1h.75M38.9 94.6h.75M38.0 99.4h.75M41.9 99.1h.75M36.2 102.8h.75M31.5 102.9h.75M32.8 92.2h.75M29.5 104.9h.75M32.0 99.9h.75M32.5 101.6h.75M42.9 101.1h.75M35.4 92.7h.75M31.9 105.2h.75M45.3 94.9h.75M37.4 103.3h.75M33.3 106.6h.75M40.9 91.8h.75M36.1 101.5h.75M32.6 97.8h.75M45.6 97.7h.75M40.3 99.5h.75M46.9 93.6h.75M43.2 94.1h.75M40.7 102.9h.75M36.5 103.9h.75M40.3 91.4h.75M36.2 111.9h.75M40.1 105.3h.75M35.6 101.3h.75M31.2 93.7h.75M29.2 96.1h.75M40.2 100.6h.75M44.1 94.1h.75M33.8 108.0h.75M38.6 100.1h.75M44.7 101.4h.75M30.3 93.7h.75M33.5 94.4h.75M43.3 100.8h.75M37.4 97.9h.75M32.7 97.7h.75M34.6 100.5h.75M42.2 107.4h.75M33.8 98.2h.75M33.0 93.8h.75M39.9 99.2h.75M36.1 96.3h.75M39.6 99.6h.75M30.7 97.4h.75M30.4 101.5h.75M37.3 100.7h.75M35.1 94.9h.75M34.2 98.1h.75M37.1 104.4h.75M37.2 105.2h.75M29.8 104.3h.75M31.4 104.0h.75M38.6 97.5h.75M43.0 97.3h.75M44.5 104.3h.75M30.3 93.0h.75M42.8 99.0h.75M40.7 89.3h.75M35.6 97.3h.75M38.9 95.5h.75M41.1 92.8h.75M47.3 102.5h.75M39.6 97.3h.75M34.9 97.9h.75M34.4 95.3h.75M43.2 107.0h.75M41.1 96.6h.75M29.2 100.4h.75M34.0 92.3h.75M37.3 96.8h.75M41.4 97.7h.75M35.3 96.2h.75M36.8 100.1h.75M38.0 107.7h.75M47.4 98.6h.75M36.0 98.6h.75M33.5 97.2h.75M32.6 108.0h.75M32.4 102.3h.75M42.8 95.5h.75M37.6 98.5h.75M38.8 100.5h.75M36.9 100.0h.75M34.9 94.7h.75M30.8 95.1h.75M30.8 102.1h.75M38.6 101.0h.75M36.6 88.0h.75M46.3 99.8h.75M30.9 106.2h.75M32.7 95.8h.75M29.2 100.6h.75M44.7 91.5h.75M40.8 93.3h.75M45.1 92.6h.75M34.9 97.6h.75M40.5 112.1h.75M33.3 92.5h.75M36.9 100.6h.75M35.9 108.3h.75M30.9 92.5h.75M41.9 90.7h.75M38.1 97.6h.75M32.5 101.4h.75M32.5 101.3h.75M34.6 91.3h.75M49.4 94.9h.75M31.3 98.6h.75M38.5 103.9h.75M32.3 101.9h.75M41.0 97.1h.75M38.7 93.8h.75M34.3 104.1h.75M43.5 98.4h.75M34.3 108.1h.75M39.9 92.8h.75M32.7 96.4h.75M38.6 96.8h.75M37.9 94.6h.75M32.1 96.4h.75M33.5 99.0h.75M37.7 96.9h.75M32.0 102.9h.75M38.1 98.9h.75M34.5 99.3h.75M34.9 101.0h.75M32.0 100.2h.75M30.5 99.2h.75M38.4 99.7h.75M32.7 102.4h.75M39.3 95.0h.75M42.9 105.5h.75M36.8 107.8h.75M31.2 96.7h.75M41.7 90.8h.75M34.2 97.0h.75M30.7 100.2h.75M35.3 103.8h.75M39.1 98.4h.75M37.5 97.7h.75M40.0 107.5h.75M30.6 95.7h.75M34.1 105.1h.75M34.2 104.2h.75M35.7 92.2h.75M34.3 96.3h.75M44.8 89.4h.75M45.9 90.9h.75M46.7 101.6h.75M41.1 97.2h.75M32.8 100.8h.75M42.0 93.6h.75M34.6 97.6h.75M39.8 97.9h.75M30.1 91.0h.75M32.1 90.4h.75M38.9 101.7h.75M47.3 100.1h.75M35.7 94.3h.75M50.4 98.8h.75M53.6 102.9h.75M35.7 94.6h.75M29.8 102.7h.75M35.0 110.8h.75M32.5 99.7h.75M35.5 107.2h.75M42.1 85.4h.75M41.9 107.1h.75M37.6 99.3h.75M35.9 89.2h.75M36.7 103.5h.75M36.7 105.0h.75M39.6 105.9h.75M35.9 105.8h.75M39.1 99.2h.75M41.0 96.9h.75M47.1 99.2h.75M37.1 101.5h.75M44.6 99.6h.75M33.8 104.1h.75M34.5 111.7h.75M39.8 111.0h.75M38.4 93.1h.75M43.9 96.3h.75M39.9 92.3h.75M36.7 93.1h.75M37.1 93.7h.75M40.3 97.9h.75M29.3 103.7h.75M32.0 97.4h.75M38.9 97.4h.75M34.4 101.8h.75M37.5 104.5h.75M32.8 93.9h.75M36.1 95.9h.75M40.1 103.7h.75M35.3 93.7h.75M37.6 106.6h.75M40.0 93.0h.75M32.5 105.7h.75M41.2 100.4h.75M43.9 94.6h.75M38.5 93.3h.75M44.5 97.7h.75M31.9 99.2h.75M41.8 95.5h.75M37.7 102.4h.75M29.6 91.8h.75M35.4 99.3h.75M32.5 99.3h.75M32.4 89.2h.75M36.5 101.0h.75M42.8 92.5h.75M33.9 85.8h.75M36.7 96.0h.75M36.6 104.2h.75M43.3 96.7h.75M41.1 107.3h.75M39.0 107.1h.75M32.5 105.3h.75M29.7 106.5h.75M35.3 101.2h.75M42.0 104.6h.75M30.0 100.6h.75M47.5 98.0h.75M38.7 103.0h.75M37.0 92.3h.75M29.2 99.9h.75M36.2 103.3h.75M34.9 98.7h.75M33.0 103.6h.75M39.2 103.4h.75M45.6 91.3h.75M32.1 97.7h.75M41.6 102.0h.75M36.5 104.3h.75M35.7 107.0h.75M50.0 88.9h.75M31.5 103.2h.75M33.9 108.5h.75M34.4 94.3h.75M60.5 97.3h.75M38.2 93.6h.75M47.5 103.8h.75M44.3 92.1h.75M33.1 105.8h.75M39.0 104.4h.75M46.7 102.0h.75M37.0 87.5h.75M37.3 95.7h.75M39.2 103.4h.75M30.7 98.0h.75M38.1 98.8h.75M39.4 104.2h.75M30.0 100.9h.75M33.8 100.8h.75M35.1 96.9h.75M34.9 99.4h.75M40.4 98.6h.75M36.6 103.3h.75M37.0 98.4h.75M29.1 90.1h.75M38.0 105.9h.75M37.6 105.5h.75"/>
<path stroke="#111" stroke-opacity="1.0" stroke-width="0.75" fill="none" d="M56.4 79.1h.75M62.9 74.2h.75M68.3 77.8h.75M51.1 60.7h.75M56.4 78.0h.75M54.3 62.5h.75M57.5 69.8h.75M42.1 50.4h.75M54.3 68.2h.75M53.6 57.4h.75M49.1 65.0h.75M54.1 74.8h.75M42.8 61.1h.75M67.5 83.7h.75M59.5 72.9h.75M71.5 72.5h.75M48.4 61.9h.75M45.9 85.4h.75M58.1 75.0h.75M41.7 66.8h.75M57.6 64.0h.75M49.8 80.1h.75M52.9 84.6h.75M57.8 70.3h.75M56.1 85.2h.75M71.4 74.0h.75M61.0 75.4h.75M44.9 72.4h.75M63.9 55.7h.75M44.5 62.3h.75M56.4 69.2h.75M45.2 65.7h.75M48.8 76.2h.75M66.7 70.4h.75M51.0 71.4h.75M50.3 79.8h.75M51.0 73.1h.75M53.1 44.8h.75M67.8 75.4h.75M45.8 72.6h.75M45.3 82.7h.75M60.6 82.1h.75M42.3 84.2h.75M52.6 81.3h.75M65.2 54.1h.75M55.7 74.3h.75M51.6 87.6h.75M49.7 56.8h.75M48.0 80.2h.75M50.7 83.0h.75M56.8 53.4h.75M66.1 73.8h.75M63.8 42.9h.75M50.9 72.0h.75M49.5 80.9h.75M61.5 80.8h.75M40.4 73.9h.75M51.9 80.1h.75M52.9 67.3h.75M46.3 76.4h.75M47.2 45.5h.75M58.5 79.8h.75M41.7 70.3h.75M47.9 44.7h.75M50.1 65.1h.75M56.3 50.4h.75M44.0 52.0h.75M64.7 76.3h.75M53.0 79.0h.75M53.4 88.0h.75M52.5 74.6h.75M49.9 75.9h.75M47.3 71.0h.75M65.1 49.1h.75M57.2 76.8h.75M54.6 77.6h.75M63.8 68.4h.75M49.5 76.6h.75M60.8 79.1h.75M55.7 81.5h.75M48.0 74.9h.75M61.8 70.6h.75M42.9 82.8h.75M60.9 79.7h.75M48.0 74.1h.75M58.9 82.4h.75M67.0 63.9h.75M60.2 63.1h.75M50.4 77.8h.75M55.2 26.1h.75M52.3 61.7h.75M45.6 68.3h.75M46.1 70.5h.75M55.7 58.1h.75M59.9 52.2h.75M40.6 69.6h.75M54.8 27.0h.75M59.6 74.2h.75M56.3 79.7h.75M46.9 81.9h.75M64.0 78.9h.75M45.1 76.6h.75M60.7 78.1h.75M68.7 79.9h.75M38.2 67.4h.75M57.4 84.2h.75M57.9 84.7h.75M57.2 74.9h.75M48.9 78.1h.75M52.7 82.2h.75M43.6 42.2h.75M56.4 77.4h.75M59.7 70.7h.75M49.7 84.4h.75M51.3 78.1h.75M55.2 62.7h.75M55.7 72.3h.75M54.4 67.4h.75M55.8 80.1h.75M44.3 88.1h.75M32.4 85.5h.75M60.4 50.8h.75M67.1 68.2h.75M43.4 67.1h.75M49.6 79.9h.75M57.7 77.9h.75M63.2 78.4h.75M60.6 83.8h.75M65.9 66.1h.75M54.7 80.9h.75M58.6 86.2h.75M58.6 74.3h.75M51.6 75.9h.75M65.2 80.7h.75M60.4 72.1h.75M63.3 67.9h.75M51.9 59.6h.75M63.8 80.0h.75M46.4 80.9h.75M58.5 66.4h.75M33.4 74.1h.75M46.8 78.6h.75M61.3 64.1h.75M51.4 55.6h.75M56.6 66.4h.75M41.7 82.8h.75M68.0 88.4h.75M60.1 63.1h.75M54.9 77.5h.75M58.6 75.8h.75M57.9 39.4h.75M66.9 63.7h.75M56.9 72.7h.75M42.9 74.7h.75M53.0 86.0h.75M65.8 67.7h.75M59.9 76.4h.75M51.7 70.5h.75M60.2 55.0h.75M56.1 81.4h.75M60.2 68.9h.75M42.0 87.5h.75M47.7 86.7h.75M60.7 70.4h.75M53.3 64.5h.75M58.1 80.9h.75M71.4 59.5h.75M52.6 75.1h.75M57.2 60.2h.75M50.5 81.5h.75M50.0 82.3h.75M54.5 58.2h.75M43.1 55.6h.75M37.7 82.5h.75M66.5 54.2h.75M54.3 70.2h.75M64.5 83.1h.75M56.2 81.9h.75M56.4 75.6h.75M60.7 77.0h.75M61.1 63.7h.75M45.2 77.6h.75M65.2 86.1h.75M47.1 62.8h.75M56.8 42.9h.75M76.4 86.6h.75M55.8 62.2h.75M69.0 86.0h.75M52.3 67.0h.75M60.3 78.6h.75M55.6 84.1h.75M58.6 74.0h.75M48.1 81.1h.75M47.5 49.5h.75M57.9 76.8h.75M42.2 71.4h.75M48.2 74.5h.75M60.5 64.2h.75M50.1 81.0h.75M47.8 42.2h.75M46.0 72.4h.75M56.4 72.2h.75M52.1 74.1h.75M56.4 72.6h.75M53.6 77.6h.75M70.5 78.8h.75M51.5 77.9h.75M38.9 71.4h.75M56.1 61.4h.75M55.2 70.8h.75M56.5 76.5h.75M41.8 69.4h.75M64.6 62.6h.75M54.9 68.2h.75M54.8 48.3h.75M42.0 74.1h.75M59.1 73.9h.75M54.6 79.9h.75M66.4 81.4h.75M51.7 71.8h.75M44.9 77.9h.75M56.2 66.1h.75M47.6 76.8h.75M58.6 73.4h.75M46.2 44.5h.75M54.1 63.5h.75M53.3 60.7h.75M54.9 80.9h.75M50.9 82.2h.75M48.5 78.7h.75M54.7 58.0h.75M50.4 82.6h.75M56.4 73.6h.75M52.9 50.6h.75M36.6 78.1h.75M54.7 74.3h.75M66.6 67.0h.75M57.7 85.5h.75M60.1 56.3h.75M58.9 77.2h.75M51.3 77.3h.75M44.2 86.3h.75M61.8 81.2h.75M63.9 88.3h.75M59.8 57.6h.75M58.7 54.4h.75M58.4 81.7h.75M54.9 60.6h.75M57.4 68.9h.75M55.3 82.1h.75M57.9 83.0h.75M47.4 86.3h.75M50.0 85.5h.75M59.8 68.0h.75M52.4 40.2h.75M35.3 68.6h.75M56.2 86.8h.75M36.4 78.7h.75M70.9 76.0h.75M61.1 85.2h.75M60.7 82.4h.75M49.7 71.0h.75M45.9 78.2h.75M53.4 81.4h.75M55.4 86.5h.75M48.9 63.7h.75M56.5 70.4h.75M60.8 43.6h.75M60.1 84.9h.75M46.7 67.3h.75M37.5 66.5h.75M55.2 73.7h.75M49.8 81.5h.75M58.9 79.2h.75M68.6 74.7h.75M68.6 87.2h.75M57.6 66.7h.75M64.3 74.2h.75M68.6 78.4h.75M55.6 73.8h.75M57.5 73.8h.75M62.2 70.0h.75M55.0 73.1h.75M51.2 82.1h.75M49.1 80.7h.75M55.3 74.0h.75M50.2 75.8h.75M61.8 53.5h.75M52.6 80.7h.75M67.2 78.8h.75M65.1 78.1h.75M45.2 85.2h.75M64.1 73.7h.75M52.0 82.9h.75M66.4 79.3h.75M59.5 82.3h.75M54.9 76.9h.75M60.8 73.6h.75M50.8 76.2h.75M58.0 72.0h.75M58.5 83.9h.75M54.2 79.7h.75M58.5 48.0h.75M47.2 79.6h.75M59.9 69.5h.75M45.5 62.5h.75M60.4 86.8h.75M59.2 73.6h.75M61.1 79.0h.75M50.9 73.7h.75M80.0 76.0h.75M53.6 69.4h.75M56.6 84.2h.75M49.3 85.0h.75M67.0 70.8h.75M51.6 73.8h.75M63.5 87.8h.75M47.8 52.0h.75M58.0 77.6h.75M52.5 76.6h.75M63.0 86.3h.75M53.1 74.6h.75M48.5 71.3h.75M59.2 67.8h.75M45.9 83.5h.75M61.7 65.9h.75M40.4 63.5h.75M61.7 45.1h.75M52.3 76.8h.75M48.2 72.9h.75M57.5 87.7h.75M60.7 86.7h.75M50.9 76.9h.75M54.2 74.2h.75M62.0 77.0h.75M61.7 79.5h.75M55.2 68.3h.75M49.4 67.7h.75M48.0 78.8h.75M50.8 74.9h.75M61.1 70.3h.75M60.3 73.1h.75M58.1 85.6h.75M66.8 78.8h.75M53.2 79.9h.75M52.6 56.5h.75M52.6 82.6h.75M71.0 77.3h.75M39.1 78.4h.75M58.0 79.4h.75M59.3 86.1h.75M56.2 48.4h.75M74.5 76.6h.75M65.1 70.1h.75M61.9 72.5h.75M48.5 79.5h.75M59.7 76.7h.75M52.8 59.0h.75M56.1 85.3h.75M57.4 76.4h.75M51.9 72.8h.75M60.8 79.2h.75M68.8 79.3h.75M64.1 69.0h.75M57.5 77.7h.75M40.3 44.4h.75M64.5 68.7h.75M64.4 54.9h.75M54.3 67.8h.75M52.0 82.9h.75M61.1 77.0h.75M49.4 75.7h.75M62.2 75.7h.75M47.2 69.0h.75M48.5 70.2h.75M56.0 75.2h.75M44.2 84.8h.75M55.9 51.7h.75M60.1 79.1h.75M45.4 80.3h.75M63.3 87.7h.75M51.4 68.0h.75M60.3 62.9h.75M57.6 63.4h.75M52.3 87.8h.75M51.7 61.1h.75M42.3 78.9h.75M50.4 78.5h.75M49.8 81.7h.75M69.0 69.4h.75M64.0 62.9h.75M45.0 75.5h.75M62.3 78.9h.75M57.7 60.9h.75M52.9 76.8h.75M59.6 73.4h.75M62.2 79.6h.75M51.4 72.3h.75M53.8 70.4h.75M57.3 82.1h.75M48.1 85.2h.75M57.4 77.6h.75M55.3 85.0h.75M50.5 77.1h.75M49.3 62.2h.75M58.4 78.4h.75M62.9 88.3h.75M58.6 83.2h.75M49.2 73.5h.75M61.9 73.8h.75M57.3 82.2h.75M60.7 69.5h.75M65.2 82.0h.75M48.8 53.6h.75M54.9 64.6h.75M51.2 29.8h.75M49.0 69.1h.75M71.9 73.1h.75M63.4 84.5h.75M41.9 74.9h.75M59.4 84.1h.75M51.6 62.4h.75M65.1 81.9h.75M56.6 31.1h.75M54.6 76.7h.75M57.1 36.0h.75M59.0 85.8h.75M56.2 79.7h.75M54.2 84.9h.75M54.9 84.2h.75M60.0 75.6h.75M47.0 86.8h.75M56.0 68.3h.75M55.0 76.7h.75M52.1 80.5h.75M61.8 79.2h.75M45.7 80.0h.75M53.1 24.4h.75M49.2 77.9h.75M60.3 77.2h.75M52.3 79.8h.75M56.4 62.6h.75M59.0 72.7h.75M43.3 73.7h.75M59.6 86.9h.75M50.1 76.7h.75M54.0 61.8h.75M55.1 82.6h.75M62.4 60.1h.75M61.9 72.3h.75M70.0 72.5h.75M57.4 68.4h.75M52.2 80.2h.75M52.0 77.1h.75M61.2 61.4h.75M68.7 55.2h.75M58.7 59.9h.75M51.4 53.3h.75M58.2 59.3h.75M58.0 86.0h.75M56.3 69.9h.75M50.1 85.9h.75M35.8 83.5h.75M51.7 84.7h.75M64.4 82.5h.75M57.7 74.4h.75M38.5 83.0h.75M56.0 73.4h.75M41.3 61.5h.75M71.8 71.0h.75M57.5 86.9h.75M46.4 77.9h.75M62.3 67.3h.75M49.8 78.5h.75M60.5 70.9h.75M56.2 82.7h.75M46.6 78.4h.75M61.3 65.9h.75M45.4 84.1h.75M66.6 76.3h.75M56.5 77.3h.75M47.8 79.4h.75M41.6 71.4h.75M68.8 58.5h.75M67.5 78.0h.75M46.0 81.2h.75M69.1 78.2h.75M57.3 56.8h.75M54.2 82.7h.75M55.3 83.7h.75M53.9 80.6h.75M67.4 67.2h.75M57.2 75.7h.75M41.4 67.6h.75M72.6 84.2h.75M63.0 77.9h.75M47.4 83.7h.75M53.2 83.4h.75M48.8 71.9h.75M56.4 77.8h.75M59.1 42.2h.75M57.9 59.6h.75M51.3 75.3h.75M49.6 78.1h.75M62.7 85.6h.75M55.2 86.6h.75M73.9 61.0h.75M49.6 80.8h.75M62.3 73.0h.75M56.4 74.8h.75M50.0 66.8h.75M66.8 47.9h.75M57.0 65.0h.75M48.9 77.2h.75M53.5 56.0h.75M64.1 69.6h.75M46.3 77.0h.75M66.9 73.8h.75M61.4 63.6h.75M53.8 56.5h.75M66.8 80.8h.75M69.9 78.5h.75M60.8 85.3h.75M57.4 64.3h.75M70.7 77.6h.75M67.9 51.4h.75M48.6 54.7h.75M54.4 73.3h.75M54.3 72.6h.75M52.7 81.7h.75M44.1 81.5h.75M63.2 75.0h.75M56.7 77.8h.75M56.8 48.9h.75M67.2 81.1h.75M51.5 67.9h.75M55.5 77.4h.75M58.2 74.2h.75M52.6 70.8h.75M55.1 84.1h.75M62.1 65.9h.75M55.9 57.7h.75M66.6 60.4h.75M50.0 77.1h.75M57.6 82.4h.75M44.6 64.1h.75M55.1 80.1h.75M50.4 72.9h.75M66.9 86.8h.75M61.9 85.8h.75M60.1 77.3h.75M70.7 77.6h.75M67.5 83.3h.75M61.7 86.6h.75M50.5 71.6h.75M44.4 86.4h.75M55.8 81.7h.75M53.2 66.5h.75M50.8 76.0h.75M53.7 71.7h.75M42.8 74.2h.75M67.9 73.8h.75M46.9 77.4h.75M50.6 83.3h.75M60.6 60.9h.75M43.0 73.6h.75M63.4 74.3h.75M53.5 83.5h.75M47.4 60.7h.75M52.2 73.2h.75M41.2 84.8h.75M67.1 80.6h.75M56.4 79.2h.75M50.1 85.6h.75M48.7 80.0h.75M60.6 65.3h.75M68.1 57.3h.75M45.8 72.1h.75M51.4 74.2h.75M41.9 77.0h.75M61.4 81.7h.75M57.3 79.1h.75M74.1 71.5h.75M55.0 85.4h.75M52.5 77.7h.75M50.3 74.2h.75M62.9 73.0h.75M42.9 85.7h.75M62.0 53.2h.75M58.0 69.0h.75M51.9 82.6h.75M48.7 79.6h.75M64.5 65.9h.75M71.0 63.1h.75M52.4 81.8h.75M60.3 83.2h.75M70.0 58.1h.75M51.0 69.7h.75M54.0 76.2h.75M46.2 79.9h.75M54.8 77.0h.75M55.3 83.1h.75M52.6 63.2h.75M50.0 73.2h.75M43.2 71.7h.75M45.2 31.7h.75M48.1 71.1h.75M61.2 83.6h.75M51.9 80.7h.75M49.1 61.5h.75M61.3 57.5h.75M60.5 73.0h.75M49.9 78.4h.75M50.9 64.0h.75M61.3 83.5h.75M58.9 82.8h.75M49.2 76.9h.75M57.9 70.3h.75M55.8 73.4h.75M65.0 72.2h.75M49.0 84.6h.75M63.1 79.1h.75M59.5 76.2h.75M47.8 79.0h.75M64.5 80.6h.75M63.4 68.8h.75M45.3 78.3h.75M72.1 82.5h.75M46.7 61.1h.75M48.6 74.2h.75M53.4 86.3h.75M62.2 70.5h.75M60.7 43.2h.75M55.2 63.5h.75M67.1 59.4h.75M59.3 56.6h.75M67.3 70.6h.75M78.9 81.3h.75M57.6 61.4h.75M35.1 84.2h.75M52.3 74.3h.75M47.2 68.0h.75M56.8 71.9h.75M56.8 78.9h.75M46.0 84.1h.75M46.6 44.5h.75M53.8 66.3h.75M54.4 80.5h.75M34.7 83.6h.75M63.9 73.8h.75M56.3 74.3h.75M55.9 73.3h.75M58.4 54.8h.75M47.6 81.5h.75M55.6 70.1h.75M64.5 86.1h.75M64.8 77.8h.75M59.8 53.6h.75M53.7 84.7h.75M49.3 64.9h.75M66.8 78.9h.75M60.3 77.0h.75M52.5 80.2h.75M38.1 69.4h.75M48.8 68.3h.75M40.1 62.8h.75M66.3 78.7h.75M57.6 81.5h.75M49.9 58.9h.75M53.7 80.6h.75M77.5 68.4h.75M66.1 81.1h.75M44.9 68.8h.75M54.9 17.5h.75M45.8 65.1h.75M41.7 81.4h.75M57.4 74.5h.75M76.0 72.4h.75M69.0 75.8h.75M56.4 64.8h.75M52.9 64.9h.75M57.7 72.2h.75M64.6 49.6h.75M43.8 82.4h.75M40.4 80.6h.75M71.7 87.8h.75M58.3 72.9h.75M69.4 78.0h.75M58.0 70.2h.75M68.3 81.6h.75M50.9 82.3h.75M60.2 74.5h.75M69.0 80.8h.75M64.5 71.5h.75M52.1 71.7h.75M63.5 76.0h.75M50.4 65.7h.75M44.0 73.8h.75M60.4 78.7h.75M67.7 82.6h.75M63.1 70.6h.75M45.4 81.7h.75M63.3 61.9h.75M61.7 71.0h.75M52.1 79.8h.75M35.1 83.6h.75M64.5 84.4h.75M63.5 55.0h.75M60.2 87.6h.75M41.4 81.8h.75M43.5 23.1h.75M64.5 63.2h.75M62.8 48.5h.75M60.2 68.0h.75M53.9 73.4h.75M59.3 69.3h.75M51.4 84.7h.75M53.4 81.5h.75M48.7 83.2h.75M58.2 84.1h.75M52.5 25.8h.75M64.0 82.4h.75M62.1 62.1h.75M49.1 87.2h.75M71.5 87.6h.75M46.5 74.4h.75M59.8 66.9h.75M65.2 84.2h.75M66.8 77.5h.75M37.3 54.8h.75M64.5 57.5h.75M66.3 82.5h.75M68.2 45.2h.75M37.2 50.7h.75M50.3 61.5h.75M55.2 85.6h.75M52.2 81.4h.75M67.4 69.8h.75M50.2 75.8h.75M66.4 74.2h.75M60.8 69.2h.75M43.7 72.2h.75M47.6 65.0h.75M52.0 49.7h.75M56.8 72.0h.75M64.4 78.4h.75M54.4 74.9h.75M63.7 84.1h.75M42.6 73.4h.75M30.1 57.4h.75M53.1 87.3h.75M59.9 86.9h.75M52.9 61.2h.75M47.4 80.8h.75M59.6 76.0h.75M72.4 69.4h.75M55.1 45.2h.75M49.8 61.6h.75M48.8 61.3h.75M72.7 65.8h.75M55.7 82.1h.75M61.2 69.4h.75M66.4 50.8h.75M65.2 88.5h.75M48.2 87.3h.75M64.1 67.4h.75M63.2 84.2h.75M60.2 77.9h.75M64.6 71.4h.75M51.2 47.1h.75M55.4 75.1h.75M51.5 72.2h.75M62.4 54.9h.75M50.4 81.3h.75M59.3 85.2h.75M46.7 55.1h.75M55.0 87.7h.75"/>
<path stroke="#111" stroke-opacity="1.0" stroke-width="0.75" fill="none" d="M41.7 59.8h.75M30.6 81.9h.75M44.9 83.3h.75M44.9 83.1h.75M40.6 80.3h.75M45.2 64.3h.75M39.8 68.1h.75M43.4 44.7h.75M52.2 64.9h.75M47.1 53.7h.75M34.8 74.0h.75M33.8 77.1h.75M37.8 79.5h.75M37.8 83.2h.75M40.0 33.2h.75M35.2 81.0h.75M44.0 52.8h.75M39.7 76.5h.75M42.0 63.5h.75M39.5 62.0h.75M43.8 47.4h.75M31.1 78.8h.75M50.5 68.6h.75M41.9 76.4h.75M42.6 61.7h.75M43.8 50.3h.75M47.1 81.0h.75M44.6 57.9h.75M41.2 75.8h.75M38.2 85.3h.75M41.0 64.6h.75M37.3 69.1h.75M37.3 79.9h.75M56.3 75.9h.75M39.9 58.1h.75M48.0 81.6h.75M46.2 82.4h.75M48.2 53.9h.75M30.7 74.9h.75M32.8 82.3h.75M43.9 50.7h.75M37.5 65.9h.75M51.5 79.0h.75M41.1 72.8h.75M40.9 70.8h.75M42.6 82.1h.75M37.6 80.8h.75M40.4 44.9h.75M34.8 66.9h.75M39.3 69.8h.75M36.2 69.7h.75M41.4 75.2h.75M29.7 71.5h.75M29.1 54.8h.75M42.8 75.5h.75M41.2 61.7h.75M32.8 86.0h.75M38.0 72.5h.75M32.2 60.6h.75M53.9 68.1h.75M51.6 64.2h.75M33.8 42.7h.75M42.5 87.7h.75M37.8 69.4h.75M36.9 70.2h.75M46.2 68.9h.75M45.3 82.3h.75M37.6 47.9h.75M33.2 81.9h.75M54.1 72.4h.75M49.4 61.6h.75M40.6 58.3h.75M37.5 42.8h.75M41.7 82.0h.75M40.2 79.4h.75M48.0 59.3h.75M32.9 63.2h.75M39.8 72.7h.75M34.1 72.4h.75M48.8 73.6h.75M52.2 74.8h.75M39.0 85.3h.75M43.4 49.1h.75M49.5 84.5h.75M37.5 65.1h.75M33.1 78.9h.75M46.9 50.6h.75M43.2 80.1h.75M38.2 80.0h.75M49.9 57.0h.75M41.3 82.0h.75M42.1 77.2h.75M39.2 73.0h.75M52.8 54.2h.75M39.5 58.0h.75M38.2 77.6h.75M42.7 65.0h.75M41.4 64.1h.75M29.8 60.3h.75M40.5 78.1h.75M37.3 36.7h.75M49.5 79.6h.75M56.4 83.9h.75M31.8 75.8h.75M32.9 70.5h.75M35.0 81.0h.75M34.8 73.2h.75M40.0 79.0h.75M47.3 71.1h.75M30.5 75.0h.75M47.4 79.0h.75M48.9 64.8h.75M40.6 78.2h.75M47.3 57.1h.75M46.8 77.8h.75M41.0 80.3h.75M44.4 58.7h.75M41.9 68.5h.75M35.8 69.0h.75M53.0 82.6h.75M39.6 78.6h.75M31.9 68.3h.75M36.4 79.1h.75M39.8 79.3h.75M47.3 72.9h.75M30.8 83.5h.75M47.6 58.3h.75M54.3 84.4h.75M42.3 75.2h.75M31.6 70.3h.75M33.7 78.8h.75M37.3 73.3h.75M30.7 86.3h.75M30.9 78.2h.75M37.8 63.9h.75M38.4 69.6h.75M43.9 76.2h.75M31.3 67.1h.75M52.8 76.7h.75M47.1 77.2h.75M45.9 60.9h.75M35.1 77.0h.75M51.8 79.8h.75M37.3 60.1h.75M52.4 27.5h.75M47.2 86.9h.75M33.4 49.1h.75M36.5 41.5h.75M52.8 79.7h.75M46.7 84.0h.75M38.6 81.8h.75M41.1 62.8h.75M41.1 80.5h.75M34.3 85.9h.75M38.3 85.7h.75M35.0 66.0h.75M36.7 72.5h.75M42.9 72.4h.75M33.0 75.9h.75M44.8 53.1h.75M40.4 76.1h.75M45.0 71.8h.75M45.9 54.0h.75M48.4 65.4h.75M44.1 84.3h.75M44.6 43.0h.75M38.4 81.0h.75M43.7 83.3h.75M33.4 66.2h.75M37.9 84.7h.75M44.9 78.9h.75M39.3 57.7h.75M42.8 66.1h.75M32.3 72.4h.75M49.3 50.8h.75M35.6 78.0h.75M42.4 82.1h.75M39.5 53.1h.75M46.2 47.1h.75M37.0 71.3h.75M32.7 65.7h.75M37.5 74.2h.75M31.3 87.2h.75M43.4 63.5h.75M49.8 76.5h.75M30.6 73.2h.75M41.8 53.5h.75M48.3 66.7h.75M41.8 72.4h.75M41.9 87.3h.75M43.2 77.5h.75M43.7 45.0h.75M51.2 35.6h.75M44.0 60.0h.75M31.0 70.6h.75M36.3 75.0h.75M41.1 86.9h.75M34.0 81.0h.75M37.8 66.6h.75M36.0 76.8h.75M34.7 64.0h.75M44.5 65.7h.75M36.9 46.9h.75M32.0 51.8h.75M34.6 64.0h.75M39.9 61.6h.75M54.5 49.2h.75M41.5 61.6h.75M50.1 80.0h.75M43.1 71.4h.75M42.3 38.5h.75M33.7 71.7h.75M30.1 82.3h.75M32.1 39.1h.75M52.2 85.7h.75M35.3 76.0h.75M47.8 74.1h.75M44.3 36.1h.75M38.9 84.0h.75M36.0 74.1h.75M38.3 75.4h.75M44.9 65.9h.75M35.6 77.4h.75M37.4 79.5h.75M49.9 72.7h.75M37.0 81.3h.75M43.0 81.8h.75M30.9 72.6h.75M35.2 59.6h.75M30.4 71.1h.75M40.7 80.2h.75M35.3 80.0h.75M45.2 79.3h.75M46.8 77.6h.75M40.0 30.0h.75M37.0 64.0h.75M41.5 76.0h.75M40.0 84.1h.75M31.1 51.5h.75M47.2 69.2h.75M41.2 41.1h.75M45.2 51.8h.75M30.0 75.7h.75M45.8 62.6h.75M54.5 87.0h.75M44.0 73.9h.75M29.4 72.9h.75M39.9 74.8h.75M39.2 80.6h.75M41.2 77.9h.75M38.0 85.4h.75M43.1 49.5h.75M36.3 84.2h.75M41.2 81.3h.75M34.8 22.1h.75M40.3 78.4h.75M46.6 50.4h.75M36.2 50.6h.75M44.3 79.6h.75M33.4 73.9h.75M37.0 84.6h.75M37.9 64.0h.75M48.4 34.8h.75M34.2 60.7h.75M48.2 85.1h.75M29.3 21.8h.75M38.5 74.0h.75M46.1 54.1h.75M44.5 70.8h.75M32.5 72.8h.75M31.0 48.4h.75M45.8 34.9h.75M30.7 64.3h.75M43.7 48.9h.75M35.9 81.5h.75M39.5 74.3h.75M56.0 75.4h.75M50.6 80.3h.75M45.5 58.7h.75M29.9 76.7h.75M41.9 78.7h.75M40.0 71.5h.75M38.9 79.0h.75M49.0 86.8h.75M41.8 85.9h.75M40.5 47.6h.75M34.3 62.1h.75M51.8 64.4h.75M30.6 72.4h.75M39.8 79.9h.75M40.1 52.5h.75M29.5 58.9h.75M32.7 71.5h.75M45.2 64.9h.75M46.3 67.9h.75M43.8 82.3h.75M41.3 82.3h.75M41.1 83.8h.75M35.9 77.5h.75M47.9 75.6h.75"/>
<path stroke="#333" stroke-opacity="1" stroke-width="0.75" fill="none" d="M70.3 55.9h.75M93.6 79.9h.75M69.5 79.7h.75M87.5 84.9h.75M80.9 75.7h.75M87.6 56.9h.75M67.4 57.3h.75M73.4 81.7h.75M87.7 86.1h.75M99.2 77.1h.75M74.9 76.9h.75M70.6 78.0h.75M88.7 22.1h.75M68.3 73.3h.75M71.5 70.5h.75M76.2 72.3h.75M89.2 79.0h.75M78.6 78.3h.75M72.2 49.2h.75M68.5 78.1h.75M75.6 72.7h.75M82.0 62.7h.75M86.0 68.8h.75M79.9 37.2h.75M70.2 63.0h.75M76.1 86.3h.75M121.5 80.0h.75M79.1 84.8h.75M80.5 49.7h.75M92.8 78.9h.75M81.1 85.6h.75M70.1 77.3h.75M77.1 77.8h.75M80.0 72.2h.75M77.3 67.9h.75M89.0 61.5h.75M73.1 81.4h.75M75.1 55.7h.75M89.3 73.4h.75M94.6 86.0h.75M83.4 66.2h.75M82.1 81.1h.75M74.5 83.3h.75M71.6 88.9h.75M76.3 85.1h.75M102.8 56.1h.75M81.9 39.1h.75M93.1 76.9h.75M78.4 70.1h.75M77.2 87.4h.75M69.3 75.0h.75M70.2 81.9h.75M75.9 84.1h.75M69.5 79.8h.75M68.9 84.5h.75M86.5 82.2h.75M71.1 75.1h.75M75.9 63.2h.75M73.5 83.8h.75M72.3 54.5h.75M68.8 64.3h.75M81.5 67.1h.75M79.7 87.4h.75M77.3 56.8h.75M70.9 72.0h.75M70.4 78.9h.75M83.4 83.3h.75M82.3 73.2h.75M96.0 77.3h.75M77.2 67.0h.75M73.2 67.2h.75M68.4 59.3h.75M103.9 77.1h.75M88.4 51.2h.75M75.8 83.7h.75M80.9 74.8h.75M69.1 81.5h.75M81.1 81.2h.75M75.4 77.9h.75M76.8 49.1h.75M73.3 88.3h.75M90.1 83.2h.75M89.7 80.7h.75M75.3 74.6h.75M84.1 62.4h.75M68.9 66.6h.75M82.8 79.6h.75M71.1 82.1h.75M81.2 83.9h.75M68.2 53.0h.75M70.7 56.5h.75M67.1 83.1h.75M69.7 45.0h.75M74.9 64.1h.75M86.2 73.6h.75M91.8 75.4h.75M72.2 72.8h.75M92.6 53.9h.75M99.1 87.3h.75M106.8 61.9h.75M75.3 67.5h.75M87.0 73.9h.75M90.0 81.8h.75M71.1 73.2h.75M92.9 82.0h.75M83.4 77.9h.75M72.8 86.7h.75M72.2 76.0h.75M86.9 88.7h.75M91.2 75.8h.75M82.3 85.3h.75M74.8 78.3h.75M85.5 76.6h.75M81.5 67.5h.75M91.7 81.7h.75M93.5 84.9h.75M69.2 79.2h.75M69.4 65.1h.75M70.4 64.3h.75M96.6 58.8h.75M74.5 60.8h.75M84.6 64.7h.75M71.9 85.3h.75M68.6 38.8h.75M94.1 69.2h.75M80.8 79.7h.75M77.1 84.6h.75M73.0 75.6h.75M70.8 85.5h.75M68.9 78.7h.75M83.8 63.4h.75M76.1 69.8h.75M70.0 62.0h.75M71.6 89.8h.75M68.0 68.5h.75M77.4 54.7h.75M70.1 73.7h.75M85.0 71.0h.75M76.6 80.1h.75M87.1 72.4h.75M67.0 65.4h.75M84.6 82.7h.75M73.8 74.4h.75M75.4 73.5h.75M71.4 80.0h.75M70.0 81.8h.75M68.9 38.5h.75M72.1 74.6h.75M91.2 84.3h.75M89.2 72.9h.75M76.0 69.8h.75M78.8 65.5h.75M87.4 57.1h.75M74.1 75.4h.75M88.8 55.9h.75M83.4 59.1h.75M91.5 64.2h.75M68.3 76.8h.75M96.1 44.7h.75M78.5 79.6h.75M70.7 77.7h.75M81.0 77.0h.75M69.5 72.5h.75M94.4 57.6h.75M76.0 70.2h.75M69.5 79.0h.75M70.3 60.3h.75M88.0 80.8h.75M68.1 79.3h.75M75.9 71.9h.75M80.1 68.4h.75M67.3 77.9h.75M82.9 81.1h.75M74.8 82.6h.75M81.4 77.6h.75M80.9 76.2h.75M68.5 79.3h.75M67.2 76.5h.75M97.7 78.6h.75M83.9 70.9h.75M70.5 31.6h.75M92.0 77.0h.75M70.7 85.7h.75M76.1 65.9h.75M83.8 52.0h.75M84.7 78.2h.75M79.6 74.6h.75M78.9 57.7h.75M68.2 79.0h.75M103.1 78.0h.75M67.6 87.4h.75M79.1 81.5h.75M73.7 60.1h.75M93.3 44.9h.75M90.1 40.8h.75M81.8 80.3h.75M72.2 84.3h.75M76.4 77.8h.75M75.3 80.9h.75M95.5 79.2h.75M75.3 72.0h.75M85.0 84.8h.75M95.7 82.4h.75M70.7 68.9h.75M89.0 68.5h.75M68.9 68.7h.75M73.5 85.7h.75M72.8 72.3h.75M80.0 59.0h.75M84.8 77.4h.75M69.3 83.6h.75M70.9 79.2h.75M81.3 57.7h.75M85.2 60.0h.75M79.7 83.4h.75M103.6 82.0h.75M68.7 71.6h.75M81.4 55.4h.75M70.1 52.3h.75M74.7 89.0h.75M84.1 76.8h.75M72.3 80.2h.75M67.3 73.1h.75M67.4 42.5h.75M75.3 71.6h.75M91.4 82.3h.75M88.0 46.7h.75M78.9 59.1h.75M72.8 70.5h.75M85.1 64.8h.75M72.0 77.2h.75M86.7 71.6h.75M75.3 85.0h.75M81.0 55.8h.75M71.3 70.5h.75M85.3 80.9h.75M98.0 51.4h.75M67.4 53.9h.75M77.6 56.0h.75M71.9 72.5h.75M79.0 65.7h.75M103.2 83.4h.75M72.0 79.4h.75M71.8 83.3h.75M74.3 63.7h.75M77.3 79.4h.75M79.5 72.2h.75M83.5 77.8h.75M68.6 72.0h.75M69.7 80.6h.75M71.6 80.9h.75M69.6 84.0h.75M84.6 73.7h.75M89.2 67.7h.75M73.2 85.9h.75M79.8 60.0h.75M77.8 50.1h.75M81.8 82.1h.75M70.8 77.8h.75M71.9 83.3h.75M74.5 58.1h.75M73.0 43.0h.75M68.2 71.7h.75M81.4 88.0h.75M75.3 51.4h.75M69.3 87.3h.75M73.2 69.4h.75M71.7 71.1h.75M72.4 76.6h.75M87.2 78.6h.75M73.1 82.3h.75M70.8 79.4h.75M71.0 61.4h.75M78.8 69.8h.75M88.2 78.7h.75M74.1 82.9h.75M78.2 83.6h.75M79.8 79.6h.75M82.9 66.5h.75M72.3 68.4h.75M77.0 72.3h.75M68.0 79.5h.75M74.7 80.8h.75M79.6 76.2h.75M90.2 66.7h.75M72.3 85.9h.75M80.2 84.6h.75M86.9 73.7h.75M68.1 85.5h.75M74.7 62.3h.75M91.9 60.0h.75M71.5 79.4h.75M68.6 66.9h.75M73.4 84.1h.75M70.2 84.9h.75M85.5 73.8h.75M79.3 51.8h.75M81.9 60.9h.75M71.3 18.4h.75M71.5 69.6h.75M71.6 72.7h.75M89.9 83.8h.75M72.8 73.3h.75M79.2 77.4h.75M67.4 68.4h.75M73.5 85.5h.75M68.1 78.2h.75M70.8 87.3h.75M72.2 59.9h.75M93.2 87.7h.75M78.6 38.1h.75M72.8 57.2h.75M77.4 79.6h.75M68.7 72.1h.75M69.8 38.3h.75M81.0 88.6h.75M74.9 68.7h.75M77.6 48.6h.75M88.2 66.7h.75M75.8 70.3h.75M74.3 76.8h.75M74.9 82.5h.75M81.9 76.9h.75M71.0 75.3h.75M73.8 68.0h.75M80.3 70.1h.75M83.0 64.6h.75M68.2 75.2h.75M91.5 73.4h.75M94.4 73.9h.75M78.1 80.1h.75M88.3 80.3h.75M74.7 86.0h.75M81.6 85.0h.75M70.8 85.8h.75M68.4 72.8h.75M69.8 87.4h.75M70.2 73.7h.75M69.4 86.2h.75M72.5 83.7h.75M73.0 75.7h.75M77.6 76.4h.75M73.9 66.9h.75M78.9 72.3h.75M72.4 81.1h.75M88.0 77.8h.75M69.9 66.3h.75M86.8 75.3h.75M83.4 62.3h.75M76.3 82.8h.75M74.3 82.5h.75M74.4 85.5h.75M68.7 63.2h.75M96.3 50.9h.75M68.5 80.1h.75M71.6 81.2h.75M74.5 85.0h.75M90.9 60.4h.75M79.6 78.6h.75M73.3 72.9h.75M89.6 74.5h.75M72.6 86.7h.75M73.1 87.8h.75M73.0 52.8h.75M80.4 58.6h.75M77.1 61.7h.75M70.5 77.6h.75M79.9 82.8h.75M69.8 75.4h.75M71.2 83.6h.75M81.4 71.9h.75M75.9 77.3h.75M84.4 79.9h.75M81.4 72.2h.75M68.9 78.3h.75M83.6 83.9h.75M67.4 82.8h.75M84.7 76.6h.75M112.8 78.8h.75M84.4 65.6h.75M83.9 73.1h.75M87.3 71.8h.75M76.6 85.7h.75M70.3 78.0h.75M71.9 85.9h.75M78.6 81.0h.75M73.8 69.1h.75M69.9 81.5h.75M74.3 79.5h.75M70.4 73.5h.75M69.8 79.8h.75M77.3 60.1h.75M67.8 80.6h.75M89.9 78.0h.75M87.7 55.5h.75M91.0 73.8h.75M67.7 77.2h.75M72.2 44.5h.75M73.2 72.3h.75M71.1 55.4h.75M85.1 67.7h.75M82.4 66.8h.75M67.6 54.1h.75M69.5 68.8h.75M73.6 79.0h.75M74.9 76.4h.75M85.4 75.5h.75M76.6 57.2h.75M73.3 61.2h.75M70.5 72.2h.75M69.6 74.5h.75M69.7 72.4h.75M69.5 58.7h.75M72.6 42.7h.75M69.3 71.4h.75M74.1 83.3h.75M86.6 85.1h.75M78.5 83.5h.75M90.5 42.2h.75M72.9 85.1h.75M76.7 79.1h.75M69.6 73.7h.75M70.8 82.5h.75M94.1 73.5h.75M89.9 68.9h.75M77.2 71.1h.75M77.7 59.5h.75M82.2 41.1h.75M68.4 88.0h.75M93.9 39.5h.75M90.8 59.6h.75M77.2 81.5h.75M70.9 56.4h.75M78.0 70.7h.75M85.1 83.5h.75M69.7 79.4h.75M69.4 85.6h.75M73.3 64.7h.75M70.9 77.5h.75M87.1 52.9h.75M79.9 77.1h.75M85.3 77.9h.75M84.7 83.6h.75M69.3 44.1h.75M88.9 77.8h.75M73.2 54.8h.75M81.1 52.1h.75M80.5 69.6h.75M79.2 73.0h.75M92.9 78.3h.75M81.8 74.5h.75M67.8 67.4h.75M77.5 63.5h.75M70.7 54.6h.75M71.6 62.4h.75M67.3 73.8h.75M76.3 82.7h.75M96.6 81.7h.75M68.9 77.6h.75M69.2 64.5h.75M82.7 60.0h.75M67.5 80.7h.75M69.5 78.9h.75M80.5 87.9h.75M81.1 88.0h.75M77.7 67.8h.75M81.6 20.3h.75M76.5 82.5h.75M69.2 82.7h.75M67.2 84.1h.75M90.6 74.7h.75M68.5 86.8h.75M71.3 31.1h.75M79.3 76.7h.75M69.2 56.3h.75M72.1 83.9h.75M78.4 75.5h.75M67.4 58.5h.75M69.1 88.8h.75"/>
<path stroke="#333" stroke-opacity="1" stroke-width="0.75" fill="none" d="M74.3 51.9h.75M72.7 36.7h.75M84.4 23.1h.75M83.2 31.6h.75M93.8 46.7h.75M86.7 34.0h.75M82.6 59.5h.75M89.1 34.0h.75M76.4 48.9h.75M73.4 26.7h.75M82.1 39.3h.75M87.6 52.5h.75M72.0 56.6h.75M87.3 24.7h.75M87.1 52.6h.75"/>
</g>
<g fill="none" stroke="#787878" stroke-width="0.8">
<path d="M29.5 86.2V25.2H69.2V86.2"/>
<rect x="30.5" y="86.2" width="83.3" height="27.6"/>
<path d="M69.2 86.2V113.8"/>
</g>
<path d="M28.5 16.6V155.4H167.5" fill="none" stroke="#707070" stroke-width="0.8"/>
<path d="M25.50 155.40H28.5M27.30 150.00H28.5M27.30 144.60H28.5M27.30 139.20H28.5M27.30 133.80H28.5M25.50 128.40H28.5M27.30 123.00H28.5M27.30 117.60H28.5M27.30 112.20H28.5M27.30 106.80H28.5M25.50 101.40H28.5M27.30 96.00H28.5M27.30 90.60H28.5M27.30 85.20H28.5M27.30 79.80H28.5M25.50 74.40H28.5M27.30 69.00H28.5M27.30 63.60H28.5M27.30 58.20H28.5M27.30 52.80H28.5M25.50 47.40H28.5M27.30 42.00H28.5M27.30 36.60H28.5M27.30 31.20H28.5M27.30 25.80H28.5M25.50 20.40H28.5M28.50 155.4v2.6M38.96 155.4v1.3M45.08 155.4v1.3M49.42 155.4v1.3M52.79 155.4v1.3M55.54 155.4v1.3M57.87 155.4v1.3M59.88 155.4v1.3M61.66 155.4v1.3M63.25 155.4v2.6M73.71 155.4v1.3M79.83 155.4v1.3M84.17 155.4v1.3M87.54 155.4v1.3M90.29 155.4v1.3M92.62 155.4v1.3M94.63 155.4v1.3M96.41 155.4v1.3M98.00 155.4v2.6M108.46 155.4v1.3M114.58 155.4v1.3M118.92 155.4v1.3M122.29 155.4v1.3M125.04 155.4v1.3M127.37 155.4v1.3M129.38 155.4v1.3M131.16 155.4v1.3M132.75 155.4v2.6M143.21 155.4v1.3M149.33 155.4v1.3M153.67 155.4v1.3M157.04 155.4v1.3M159.79 155.4v1.3M162.12 155.4v1.3M164.13 155.4v1.3M165.91 155.4v1.3M167.50 155.4v2.6" stroke="#555" stroke-width="0.7" fill="none"/>
<text x="21.8" y="23.00" font-size="6.3" fill="#2e2e2e" stroke="#2e2e2e" stroke-width="0.12" text-anchor="end">250</text>
<text x="21.8" y="49.90" font-size="6.3" fill="#2e2e2e" stroke="#2e2e2e" stroke-width="0.12" text-anchor="end">200</text>
<text x="21.8" y="76.80" font-size="6.3" fill="#2e2e2e" stroke="#2e2e2e" stroke-width="0.12" text-anchor="end">150</text>
<text x="21.8" y="103.70" font-size="6.3" fill="#2e2e2e" stroke="#2e2e2e" stroke-width="0.12" text-anchor="end">100</text>
<text x="21.8" y="130.60" font-size="6.3" fill="#2e2e2e" stroke="#2e2e2e" stroke-width="0.12" text-anchor="end">50</text>
<text x="21.8" y="157.50" font-size="6.3" fill="#2e2e2e" stroke="#2e2e2e" stroke-width="0.12" text-anchor="end">0</text>
<text x="23.40" y="166.9" font-size="6.5" fill="#2e2e2e" stroke="#2e2e2e" stroke-width="0.12">10</text>
<text x="30.80" y="163.4" font-size="4.8" fill="#2e2e2e" stroke="#2e2e2e" stroke-width="0.1">0</text>
<text x="58.15" y="166.9" font-size="6.5" fill="#2e2e2e" stroke="#2e2e2e" stroke-width="0.12">10</text>
<text x="65.55" y="163.4" font-size="4.8" fill="#2e2e2e" stroke="#2e2e2e" stroke-width="0.1">1</text>
<text x="92.90" y="166.9" font-size="6.5" fill="#2e2e2e" stroke="#2e2e2e" stroke-width="0.12">10</text>
<text x="100.30" y="163.4" font-size="4.8" fill="#2e2e2e" stroke="#2e2e2e" stroke-width="0.1">2</text>
<text x="127.65" y="166.9" font-size="6.5" fill="#2e2e2e" stroke="#2e2e2e" stroke-width="0.12">10</text>
<text x="135.05" y="163.4" font-size="4.8" fill="#2e2e2e" stroke="#2e2e2e" stroke-width="0.1">3</text>
<text x="162.40" y="166.9" font-size="6.5" fill="#2e2e2e" stroke="#2e2e2e" stroke-width="0.12">10</text>
<text x="169.80" y="163.4" font-size="4.8" fill="#2e2e2e" stroke="#2e2e2e" stroke-width="0.1">4</text>
<text x="88.6" y="174.8" font-size="6.3" fill="#2e2e2e" stroke="#2e2e2e" stroke-width="0.12" textLength="16.2" lengthAdjust="spacingAndGlyphs">CD23</text>
<text transform="translate(8.6 92.4) rotate(-90)" font-size="6.4" fill="#2e2e2e" stroke="#2e2e2e" stroke-width="0.12" textLength="12.6" lengthAdjust="spacingAndGlyphs">FSC</text>
<text x="37.60" y="40.70" font-size="8.4" font-weight="normal" fill="#222" stroke="#222" stroke-width="0.18" textLength="20.40" lengthAdjust="spacingAndGlyphs">Large</text>
<text x="37.40" y="51.10" font-size="8.4" font-weight="normal" fill="#222" stroke="#222" stroke-width="0.18" textLength="22.60" lengthAdjust="spacingAndGlyphs">CD23-</text>
<text x="36.40" y="123.20" font-size="8.4" font-weight="normal" fill="#222" stroke="#222" stroke-width="0.18" textLength="19.80" lengthAdjust="spacingAndGlyphs">Small</text>
<text x="36.40" y="133.50" font-size="8.4" font-weight="normal" fill="#222" stroke="#222" stroke-width="0.18" textLength="22.40" lengthAdjust="spacingAndGlyphs">CD23-</text>
<text x="83.40" y="122.90" font-size="8.4" font-weight="normal" fill="#222" stroke="#222" stroke-width="0.18" textLength="20.00" lengthAdjust="spacingAndGlyphs">Small</text>
<text x="83.40" y="133.40" font-size="8.4" font-weight="normal" fill="#222" stroke="#222" stroke-width="0.18" textLength="24.60" lengthAdjust="spacingAndGlyphs">CD23+</text>
<rect x="25.9" y="205.0" width="139.5" height="139.0" fill="#f9f9f9" stroke="#a8a8a8" stroke-width="0.9"/>
<g filter="url(#sb)">
<path stroke="#111" stroke-opacity="1.0" stroke-width="0.75" fill="none" d="M46.5 277.7h.75M57.7 243.9h.75M53.1 254.8h.75M53.8 249.0h.75M65.9 248.9h.75M48.2 248.6h.75M72.8 251.0h.75M37.0 258.2h.75M87.5 243.7h.75M46.3 255.8h.75M67.0 244.7h.75M70.5 256.0h.75M60.7 254.1h.75M68.7 244.0h.75M59.6 252.5h.75M42.0 244.4h.75M64.4 243.4h.75M73.0 261.9h.75M54.9 234.4h.75M42.6 256.3h.75M54.3 257.7h.75M64.2 245.7h.75M64.0 261.2h.75M72.6 259.5h.75M66.7 239.2h.75M66.2 256.0h.75M39.4 255.5h.75M84.6 244.4h.75M61.3 256.5h.75M70.0 258.1h.75M57.1 244.5h.75M59.1 232.8h.75M61.4 254.9h.75M77.6 244.3h.75M77.0 235.3h.75M67.4 247.6h.75M82.0 229.2h.75M56.6 248.0h.75M66.3 265.0h.75M55.9 224.9h.75M74.7 255.4h.75M61.2 242.6h.75M71.3 247.4h.75M79.3 242.8h.75M38.6 257.0h.75M84.1 251.1h.75M64.2 244.0h.75M57.4 239.1h.75M40.3 247.2h.75M57.6 261.8h.75M36.2 240.0h.75M61.8 255.0h.75M59.0 254.3h.75M80.4 232.7h.75M57.3 261.4h.75M72.4 250.8h.75M73.4 271.8h.75M83.0 267.2h.75M58.2 248.9h.75M69.0 249.7h.75M44.6 241.9h.75M49.0 238.5h.75M57.9 258.5h.75M60.6 248.8h.75M47.8 247.4h.75M56.5 249.6h.75M68.4 257.5h.75M56.0 259.9h.75M59.2 251.2h.75M51.3 249.4h.75M75.8 252.1h.75M80.0 270.4h.75M63.1 231.9h.75M59.7 240.4h.75M78.8 255.6h.75M66.1 252.5h.75M53.7 262.6h.75M46.4 263.4h.75M54.6 269.6h.75M84.5 243.8h.75M54.5 256.9h.75M92.0 249.0h.75M60.9 260.2h.75M58.6 252.9h.75M75.2 259.4h.75M58.3 244.3h.75M65.0 252.7h.75M49.7 246.4h.75M47.5 248.8h.75M53.0 247.0h.75M63.3 241.6h.75M53.8 261.6h.75M39.8 254.0h.75M66.1 261.4h.75M59.2 242.0h.75M57.9 233.0h.75M54.4 245.2h.75M36.7 249.8h.75M78.1 258.6h.75M55.8 261.1h.75M66.6 262.6h.75M76.0 265.5h.75M73.1 258.0h.75M63.1 252.3h.75M61.1 244.1h.75M64.3 257.6h.75M70.7 246.6h.75M67.2 243.7h.75M56.2 256.7h.75M65.8 253.3h.75M65.0 259.2h.75M68.5 244.6h.75M63.2 262.2h.75M75.7 254.6h.75M63.2 249.7h.75M70.6 244.2h.75M61.5 241.2h.75M54.8 238.5h.75M50.8 264.3h.75M59.3 238.0h.75M66.8 257.1h.75M74.6 248.9h.75M60.0 245.9h.75M55.4 246.8h.75M55.5 250.3h.75M74.9 259.7h.75M62.1 256.5h.75M55.6 251.2h.75M69.0 238.5h.75M46.8 234.6h.75M62.2 268.7h.75M60.5 241.8h.75M59.5 236.6h.75M48.6 261.7h.75M71.6 237.3h.75M79.1 258.2h.75M46.7 259.9h.75M62.3 253.6h.75M67.9 260.2h.75M85.3 238.3h.75M56.5 239.8h.75M50.8 249.4h.75M60.9 251.2h.75M82.7 250.4h.75M61.7 255.6h.75M63.8 244.3h.75M80.1 231.3h.75M38.0 255.0h.75M37.7 249.1h.75M70.8 258.8h.75M69.3 270.6h.75M46.1 252.0h.75M66.6 256.6h.75M61.4 242.9h.75M63.3 259.7h.75M52.3 254.4h.75M56.1 253.5h.75M51.6 259.7h.75M61.5 240.7h.75M58.5 256.5h.75M79.1 255.5h.75M67.8 266.0h.75M44.1 234.4h.75M65.5 250.4h.75M76.4 271.7h.75M64.0 247.4h.75M72.7 247.1h.75M60.6 267.8h.75M68.6 274.6h.75M50.9 252.3h.75M69.5 244.5h.75M46.2 245.7h.75M74.9 247.5h.75M44.7 243.3h.75M38.2 243.7h.75M66.7 252.8h.75M59.1 251.6h.75M62.2 255.6h.75M65.6 251.4h.75M60.7 239.9h.75M51.5 258.1h.75M63.3 253.5h.75M64.7 245.8h.75M66.3 248.7h.75M82.4 254.2h.75M53.1 251.9h.75M61.7 250.0h.75M67.0 258.3h.75M56.2 261.1h.75M48.1 248.3h.75M54.9 251.0h.75M72.5 240.8h.75M58.1 249.6h.75M67.6 255.6h.75M53.1 259.2h.75M65.8 252.7h.75M53.7 250.4h.75M51.9 244.5h.75M62.2 253.2h.75M61.6 241.0h.75M76.9 252.4h.75M43.5 251.4h.75M66.5 242.7h.75M78.4 254.2h.75M75.7 249.2h.75M56.9 256.8h.75M53.7 246.7h.75M55.7 255.7h.75M64.2 265.7h.75M63.0 252.8h.75M64.8 258.5h.75M67.4 245.2h.75M49.5 247.9h.75M48.9 233.6h.75M47.8 249.8h.75M46.5 240.6h.75M59.9 252.2h.75M64.4 232.0h.75M88.3 243.1h.75M66.7 251.9h.75M61.2 254.8h.75M76.3 235.7h.75M53.1 247.3h.75M64.7 275.0h.75M71.5 258.5h.75M69.5 252.6h.75M65.3 225.5h.75M57.2 242.6h.75M47.6 256.0h.75M59.3 253.3h.75M54.6 255.4h.75M68.4 260.1h.75M59.5 252.1h.75M67.0 259.1h.75M43.7 234.5h.75M71.5 274.4h.75M51.8 248.4h.75M44.2 245.1h.75M46.2 265.1h.75M54.2 256.8h.75M73.1 260.2h.75M68.7 245.4h.75M48.4 253.8h.75M61.9 257.7h.75M59.9 240.5h.75M44.1 249.1h.75M50.3 248.9h.75M39.1 248.4h.75M51.6 244.6h.75M32.5 239.4h.75M52.4 255.1h.75M50.9 253.4h.75M52.4 261.9h.75M52.1 250.5h.75M73.4 244.9h.75M57.3 237.6h.75M63.6 251.9h.75M69.1 248.2h.75M70.7 269.8h.75M68.3 272.4h.75M55.0 265.8h.75M49.2 242.7h.75M52.6 238.1h.75M55.9 248.9h.75M61.1 242.8h.75M60.1 264.3h.75M72.8 252.2h.75M59.9 247.3h.75M80.3 251.0h.75M72.1 262.8h.75M55.8 242.3h.75M70.2 255.6h.75M30.1 238.8h.75M75.8 249.2h.75M65.4 244.9h.75M65.3 254.0h.75M42.9 252.5h.75M88.1 262.2h.75M58.3 257.5h.75M59.5 245.5h.75M73.1 238.8h.75M58.9 243.5h.75M51.9 247.1h.75M68.1 248.9h.75M50.1 244.0h.75M69.0 261.1h.75M62.5 259.8h.75M73.1 248.6h.75M48.0 246.5h.75M74.4 248.9h.75M64.2 250.7h.75M82.2 250.9h.75M54.0 236.0h.75M80.9 247.1h.75M68.6 233.6h.75M69.5 251.4h.75M53.2 257.3h.75M67.0 241.2h.75M68.2 252.6h.75M52.1 245.4h.75M48.6 244.6h.75M52.7 269.3h.75M76.7 259.3h.75M62.7 255.6h.75M71.1 247.0h.75M64.1 254.9h.75M62.2 249.3h.75M63.4 255.3h.75M56.6 242.7h.75M74.1 250.4h.75M62.9 247.4h.75M63.4 237.9h.75M46.1 266.8h.75M64.3 258.6h.75M53.7 243.7h.75M55.6 237.4h.75M72.1 244.3h.75M49.3 243.3h.75M58.9 245.4h.75M67.7 237.0h.75M73.4 243.3h.75M55.4 251.6h.75M64.4 254.9h.75M64.1 232.6h.75M48.9 251.0h.75M38.0 241.8h.75M40.3 241.3h.75M67.4 248.1h.75M62.1 244.6h.75M46.6 257.5h.75M54.1 257.6h.75M56.7 248.2h.75M57.2 245.0h.75M60.7 267.7h.75M84.7 268.4h.75M52.6 254.6h.75M62.5 249.6h.75M52.7 260.4h.75M54.2 264.6h.75M51.5 246.1h.75M58.5 267.9h.75M55.1 249.5h.75M64.7 261.2h.75M63.3 246.2h.75M51.4 251.7h.75M81.6 246.8h.75M48.4 251.3h.75M64.8 260.5h.75M84.3 242.6h.75M53.3 248.2h.75M75.2 256.1h.75M76.2 246.7h.75M64.6 270.1h.75M41.2 237.3h.75M76.2 274.8h.75M62.0 244.9h.75M55.1 260.1h.75M74.7 266.2h.75M53.2 256.0h.75M72.4 237.8h.75M55.1 247.9h.75M66.7 251.7h.75M49.4 256.3h.75M56.7 260.2h.75M51.2 261.6h.75M53.4 264.9h.75M63.0 242.1h.75M59.2 260.3h.75M63.0 234.7h.75M74.7 252.4h.75M59.8 241.0h.75M41.0 234.3h.75M57.9 259.7h.75M61.8 250.7h.75M71.9 260.3h.75M72.1 236.1h.75M71.2 239.6h.75M58.6 250.1h.75M67.9 244.8h.75M45.5 251.7h.75M74.9 245.2h.75M65.7 247.8h.75M66.4 240.3h.75M56.9 263.1h.75M61.6 248.0h.75M53.8 239.9h.75M67.1 257.4h.75M46.7 255.6h.75M71.4 253.1h.75M66.8 253.1h.75M82.7 247.3h.75M60.6 249.8h.75M60.0 230.2h.75M63.1 236.3h.75M61.4 239.4h.75M59.8 253.7h.75M49.2 262.5h.75M49.1 249.5h.75M54.9 248.5h.75M57.9 261.6h.75M48.3 247.6h.75M48.5 257.2h.75M58.0 255.1h.75M68.9 238.5h.75M58.9 254.0h.75M68.3 252.9h.75M71.4 240.2h.75M69.2 241.2h.75M56.5 239.0h.75M56.7 264.0h.75M41.0 270.9h.75M53.7 257.7h.75M66.0 265.8h.75M49.3 238.3h.75M75.5 264.3h.75M76.4 269.6h.75M57.0 266.3h.75M70.9 242.1h.75M45.8 261.3h.75M49.8 249.9h.75M57.0 261.2h.75M61.1 245.0h.75M59.0 251.1h.75M51.8 245.6h.75M82.1 255.5h.75M64.1 250.1h.75M64.1 261.5h.75M68.3 258.8h.75M62.9 255.0h.75M58.5 250.7h.75M55.0 248.2h.75M43.4 251.1h.75M77.0 258.1h.75M51.1 252.3h.75M43.2 253.8h.75M52.3 250.7h.75M43.8 250.3h.75M82.4 244.7h.75M64.9 233.3h.75M76.1 256.4h.75M76.6 256.3h.75M67.1 241.8h.75M67.1 269.1h.75M53.3 240.0h.75M60.1 260.5h.75M54.5 253.4h.75M61.5 254.0h.75M53.5 261.8h.75M74.6 259.8h.75M69.2 251.3h.75M59.9 241.0h.75M43.1 239.5h.75M68.3 252.8h.75M70.5 266.0h.75M60.3 259.4h.75M47.5 250.7h.75M65.6 254.2h.75M72.3 257.5h.75M40.5 267.3h.75M67.1 243.8h.75M41.5 257.9h.75M61.8 253.7h.75M79.7 243.8h.75M62.0 241.4h.75M66.1 263.1h.75M57.6 254.2h.75M60.9 249.1h.75M86.2 252.0h.75M75.3 260.3h.75M57.6 251.9h.75M56.9 266.3h.75M61.2 248.6h.75M84.5 243.6h.75M63.2 250.0h.75M72.9 242.2h.75M57.1 247.7h.75M47.4 262.7h.75M75.2 267.2h.75M60.2 257.0h.75M52.6 252.9h.75M53.6 242.4h.75M53.8 241.5h.75M54.5 254.6h.75M44.5 252.6h.75M73.9 245.5h.75M65.1 246.8h.75M71.4 265.8h.75M57.3 260.4h.75M64.7 251.6h.75M62.8 253.2h.75M73.6 263.2h.75M69.7 254.5h.75M64.8 253.3h.75M54.1 236.1h.75M48.2 235.1h.75M52.5 232.9h.75M54.2 229.7h.75M55.2 250.9h.75M47.8 254.2h.75M78.7 242.8h.75M63.9 255.2h.75M39.5 255.2h.75M49.3 250.3h.75M46.7 237.1h.75M63.5 264.7h.75M72.4 264.1h.75M50.5 245.6h.75M67.6 269.5h.75M58.1 251.5h.75M73.3 243.6h.75M75.6 247.2h.75M64.3 233.4h.75M68.7 247.7h.75M61.0 235.9h.75M57.0 261.8h.75M48.6 254.1h.75M64.5 237.9h.75M60.3 256.5h.75M56.9 234.8h.75M60.2 252.5h.75M59.0 255.6h.75M49.9 251.7h.75M55.4 240.4h.75M73.2 250.0h.75M58.5 249.3h.75M75.9 251.6h.75M48.7 265.2h.75M46.6 267.1h.75M62.4 266.0h.75M69.3 245.0h.75M54.0 243.9h.75M67.7 251.2h.75M70.9 255.2h.75M72.4 231.5h.75M59.8 245.2h.75M60.5 268.0h.75M43.4 239.2h.75M61.2 244.0h.75M64.0 244.3h.75M76.0 255.7h.75M47.5 250.4h.75M52.0 248.0h.75M50.3 236.6h.75M70.6 256.8h.75M34.1 251.0h.75M49.5 244.7h.75M82.9 251.3h.75M68.0 258.5h.75M46.9 237.0h.75M60.4 236.3h.75M70.0 241.3h.75M66.9 242.7h.75M58.6 222.0h.75M52.6 245.3h.75M69.8 261.6h.75M60.9 247.9h.75M69.6 260.7h.75M65.2 223.7h.75M56.0 249.9h.75M76.3 264.2h.75M55.7 266.0h.75M65.6 246.3h.75M54.3 243.2h.75M58.6 254.7h.75M58.4 239.4h.75M54.0 247.5h.75M63.5 235.1h.75M74.9 251.8h.75M80.7 251.1h.75M76.2 266.5h.75M59.2 254.4h.75M76.5 244.7h.75M65.4 250.1h.75M80.1 238.7h.75M47.7 251.3h.75M76.7 249.0h.75M54.7 255.0h.75M73.3 259.9h.75M56.1 232.0h.75M70.7 254.1h.75M58.0 258.0h.75M41.1 239.6h.75M50.7 269.1h.75M58.4 244.1h.75M61.3 274.4h.75M37.3 258.5h.75M48.3 260.2h.75M53.3 253.6h.75M58.8 260.6h.75M63.3 241.1h.75M52.3 243.3h.75M44.9 232.3h.75M64.2 256.2h.75M57.5 244.2h.75M70.4 258.2h.75M55.4 256.7h.75M67.8 238.2h.75M51.6 257.7h.75M63.8 253.5h.75M62.0 252.9h.75M65.8 255.4h.75M51.1 250.7h.75M59.7 251.1h.75M52.0 261.0h.75M59.3 241.5h.75M67.6 239.6h.75M92.6 243.8h.75M61.4 260.9h.75M68.6 247.9h.75M62.2 269.2h.75M73.0 221.6h.75M65.9 244.2h.75M72.1 246.8h.75M64.8 253.6h.75M86.4 263.7h.75M75.6 249.2h.75M43.0 241.3h.75M64.2 259.0h.75M61.8 265.8h.75M37.7 226.7h.75M51.9 256.5h.75M56.2 253.8h.75M53.3 243.1h.75M62.4 246.5h.75M42.1 253.8h.75M68.9 251.3h.75M69.2 248.6h.75M64.8 239.9h.75M57.6 253.7h.75M61.1 244.7h.75M56.1 251.8h.75M73.1 245.4h.75M66.4 252.9h.75M82.1 258.1h.75M57.2 253.2h.75M76.4 257.3h.75M55.0 237.8h.75M59.3 255.4h.75M50.0 253.8h.75M66.6 245.0h.75M60.4 249.4h.75M67.6 224.3h.75M76.8 251.7h.75M60.5 247.1h.75M65.1 229.4h.75M70.5 255.8h.75M60.4 244.9h.75M55.3 253.6h.75M64.8 248.7h.75M66.4 255.6h.75M69.3 251.8h.75M69.8 248.2h.75M54.0 255.7h.75M65.8 258.9h.75M74.0 229.4h.75M56.2 251.2h.75M64.9 245.3h.75M54.5 240.4h.75M62.8 263.4h.75M79.4 260.1h.75M62.9 241.1h.75M50.9 240.3h.75M64.7 258.7h.75M63.3 245.0h.75M72.8 247.8h.75M46.6 232.2h.75M51.4 249.7h.75M60.3 261.7h.75M44.7 246.6h.75M73.0 249.8h.75M39.8 267.5h.75M52.3 259.3h.75M45.5 264.5h.75M54.2 256.9h.75M69.5 262.4h.75M67.4 235.1h.75M70.8 243.1h.75M67.4 235.2h.75M39.7 272.1h.75M64.3 252.7h.75M41.6 249.7h.75M55.8 243.8h.75M56.9 241.3h.75M55.4 224.3h.75M66.3 272.3h.75M52.6 250.1h.75M79.3 251.5h.75M67.4 237.6h.75M73.5 250.4h.75M69.1 254.5h.75M70.5 250.2h.75M60.6 256.8h.75M81.8 242.9h.75M50.0 254.0h.75M65.9 259.4h.75M61.1 256.3h.75M58.7 254.6h.75M64.4 249.9h.75M53.2 241.5h.75M70.2 256.2h.75M69.4 247.2h.75M62.1 241.9h.75M68.9 258.2h.75M50.2 235.6h.75M42.1 245.6h.75M55.0 258.3h.75M58.6 259.9h.75M87.3 247.4h.75M58.7 251.5h.75M72.0 256.1h.75M70.0 250.3h.75M83.3 243.6h.75M62.3 255.0h.75M68.0 252.5h.75M59.1 251.9h.75M52.0 261.5h.75M50.5 253.8h.75M52.8 246.6h.75M76.1 252.5h.75M64.1 269.4h.75M59.5 244.1h.75M61.3 248.4h.75M55.2 243.3h.75M60.7 254.3h.75M60.7 238.9h.75M68.0 255.2h.75M70.7 258.1h.75M43.9 243.6h.75M63.5 242.9h.75M75.6 236.8h.75M50.4 251.3h.75M58.5 240.3h.75M62.9 245.0h.75M72.7 246.9h.75M67.4 244.4h.75M58.8 258.9h.75M66.4 266.1h.75M72.0 230.7h.75M65.2 243.2h.75M80.6 253.3h.75M65.6 240.9h.75M50.1 245.8h.75M52.9 252.9h.75M59.7 264.2h.75M58.9 262.1h.75M67.6 248.2h.75M64.8 252.2h.75M79.1 247.5h.75M69.6 249.3h.75M76.7 239.8h.75M53.1 234.1h.75M56.6 247.4h.75M68.3 260.2h.75M62.1 258.2h.75M67.7 233.2h.75M63.8 249.1h.75M54.6 245.0h.75M79.0 253.7h.75M73.1 240.5h.75M44.8 259.6h.75M54.7 249.0h.75M61.4 256.4h.75M68.3 259.3h.75M60.4 232.5h.75M46.8 248.9h.75M69.9 265.3h.75M59.0 251.1h.75M73.8 260.9h.75M64.4 255.0h.75M71.7 246.2h.75M70.0 253.6h.75M70.5 260.9h.75M55.8 263.2h.75M72.0 264.7h.75M63.3 240.4h.75M48.1 258.8h.75M57.1 237.9h.75M57.7 249.7h.75M66.1 249.0h.75M68.4 256.9h.75M49.5 253.9h.75M68.8 262.8h.75M60.5 245.1h.75M50.1 259.0h.75M70.0 254.7h.75M53.2 251.0h.75M48.7 239.6h.75M69.2 256.4h.75M70.7 254.0h.75M54.3 258.4h.75M72.3 250.6h.75M71.8 248.5h.75M55.8 254.7h.75M82.2 255.4h.75M60.6 257.5h.75M63.6 268.9h.75M36.2 245.1h.75M67.9 270.0h.75M54.8 222.9h.75M65.9 260.1h.75M43.3 243.2h.75M73.4 270.0h.75M76.5 242.5h.75M81.1 261.0h.75M30.3 241.6h.75M67.4 240.2h.75M64.9 258.6h.75M29.6 259.2h.75M53.6 244.3h.75M60.4 273.8h.75M76.2 247.9h.75M52.6 265.8h.75M63.5 241.4h.75M60.7 241.8h.75M65.2 251.8h.75M57.2 241.4h.75M70.7 255.3h.75M71.6 230.6h.75M47.1 252.7h.75M73.1 245.6h.75M53.6 241.9h.75M58.5 253.0h.75M73.2 248.9h.75M62.4 246.7h.75M67.4 258.6h.75M69.7 253.8h.75M67.7 254.6h.75M55.8 263.6h.75M51.5 250.3h.75M68.6 258.9h.75M69.4 247.0h.75M65.2 256.7h.75M59.5 256.0h.75M70.5 245.8h.75M61.2 236.6h.75M47.1 238.9h.75M64.4 242.1h.75M66.8 256.2h.75M69.6 249.7h.75M52.2 248.2h.75M53.7 255.5h.75M65.0 257.9h.75M56.9 264.2h.75M60.8 245.3h.75M71.4 256.2h.75M65.7 257.7h.75M80.7 242.0h.75M64.6 252.2h.75M79.5 242.3h.75M72.8 248.8h.75M88.3 255.0h.75M61.8 234.9h.75M60.8 242.7h.75M75.3 243.3h.75M56.3 251.9h.75M56.9 244.0h.75M64.3 254.5h.75M65.7 242.9h.75M47.1 246.1h.75M64.4 256.7h.75M58.5 254.0h.75M61.5 252.4h.75M63.7 250.6h.75M59.8 260.5h.75M73.1 264.0h.75M66.9 247.5h.75M59.9 244.1h.75M62.7 241.1h.75M72.8 267.4h.75M70.1 242.5h.75M75.2 238.5h.75M60.5 253.5h.75M63.4 260.9h.75M83.0 239.3h.75M61.6 249.8h.75M79.5 237.4h.75M70.8 244.4h.75M57.5 266.4h.75M47.4 252.6h.75M68.7 248.5h.75M54.7 251.7h.75M54.6 253.6h.75M44.0 250.0h.75M74.4 239.8h.75M63.1 239.8h.75M62.3 270.0h.75M66.2 243.8h.75M64.6 262.3h.75M63.1 244.2h.75M67.5 263.3h.75M59.2 257.6h.75M35.2 249.0h.75M69.8 270.0h.75M66.5 242.2h.75M62.3 248.8h.75M78.7 242.9h.75M47.5 243.7h.75M31.9 247.6h.75M77.6 242.0h.75M66.4 247.9h.75M45.0 265.9h.75M57.8 234.6h.75M68.6 239.1h.75M49.4 242.0h.75M67.9 246.6h.75M84.2 260.5h.75M76.6 257.8h.75M61.8 255.5h.75M65.5 252.9h.75M52.2 273.6h.75M63.5 240.3h.75M58.6 240.1h.75M51.7 250.8h.75M48.1 252.9h.75M82.2 248.7h.75M63.0 243.0h.75M51.4 238.6h.75M57.7 248.4h.75M77.6 244.3h.75M79.0 246.4h.75M55.7 240.8h.75M64.1 263.6h.75M71.4 255.2h.75M58.5 268.5h.75M49.8 246.1h.75M51.9 251.5h.75M62.2 248.6h.75M54.0 251.2h.75M48.6 248.6h.75M59.6 249.4h.75M71.8 232.4h.75M69.2 248.4h.75M59.7 257.5h.75M82.0 232.6h.75M53.9 247.7h.75M61.3 256.4h.75M47.8 262.9h.75M70.2 250.2h.75M60.8 255.3h.75M44.5 267.5h.75M53.4 263.2h.75M80.8 246.7h.75M69.6 245.3h.75M63.2 260.6h.75M71.1 253.1h.75M45.4 245.9h.75M53.4 248.8h.75M48.2 254.0h.75M53.4 249.1h.75M58.1 248.6h.75M67.6 248.8h.75M72.5 236.9h.75M72.2 267.4h.75M90.0 262.5h.75M56.9 265.3h.75M61.8 249.7h.75M67.3 252.2h.75M53.4 256.4h.75M59.0 258.7h.75M66.3 233.7h.75M52.8 254.3h.75M66.9 241.6h.75M74.8 250.3h.75M50.4 244.7h.75M38.2 267.1h.75M62.9 256.1h.75M51.1 250.7h.75M63.8 264.1h.75M57.3 250.3h.75M65.1 244.2h.75M73.8 249.2h.75M70.5 247.5h.75M58.2 251.4h.75M49.8 258.9h.75M36.0 249.9h.75M39.3 250.4h.75M53.6 260.5h.75M62.9 253.7h.75M54.8 259.9h.75M55.6 252.3h.75M45.2 238.7h.75M44.6 240.4h.75M43.8 235.4h.75M68.2 261.7h.75M41.1 254.9h.75M68.7 246.5h.75M52.2 241.7h.75M67.2 254.4h.75M64.0 249.7h.75M69.4 254.0h.75M73.9 243.0h.75M53.3 240.5h.75M51.3 265.8h.75M56.8 242.0h.75M53.3 250.8h.75M68.2 263.6h.75M60.1 233.7h.75M61.3 257.6h.75M65.6 251.6h.75M56.3 249.6h.75M72.6 253.5h.75M42.0 239.8h.75M63.6 230.1h.75M66.3 268.8h.75M53.1 248.3h.75M53.9 259.4h.75M70.5 261.4h.75M57.8 253.7h.75M41.0 255.3h.75M47.0 257.7h.75M71.6 265.8h.75M51.9 255.6h.75M74.7 262.9h.75M75.3 248.3h.75M58.9 247.0h.75M66.7 251.8h.75M52.4 254.8h.75M56.8 256.1h.75M53.7 269.3h.75M67.2 258.9h.75M47.6 251.6h.75M59.6 269.7h.75M61.5 254.1h.75M66.4 254.4h.75M38.8 255.6h.75M42.3 247.9h.75M51.8 240.8h.75M58.6 252.3h.75M62.4 248.1h.75M62.9 242.9h.75M82.0 252.1h.75M67.8 249.2h.75M67.1 245.5h.75M55.8 234.3h.75M69.1 249.4h.75M68.1 267.5h.75M67.9 259.4h.75M59.7 261.2h.75M67.4 250.8h.75M76.8 260.9h.75M52.6 244.7h.75M38.3 246.7h.75M69.4 255.9h.75M68.5 237.6h.75M58.5 251.6h.75M56.2 253.8h.75M89.6 266.9h.75M56.0 244.5h.75M48.1 255.0h.75M55.9 244.9h.75M66.1 245.9h.75M54.5 225.7h.75M56.8 242.2h.75M64.0 261.8h.75M56.4 255.9h.75M62.2 252.5h.75M60.4 274.2h.75M49.8 256.1h.75M61.6 239.4h.75M48.7 249.1h.75M70.6 250.5h.75M51.1 266.1h.75M58.3 242.6h.75M41.9 255.0h.75M56.2 260.2h.75M47.8 243.4h.75M76.4 251.9h.75M59.5 232.2h.75M66.2 252.0h.75M42.6 230.3h.75M47.9 247.4h.75M59.0 267.2h.75M46.7 254.9h.75M72.7 251.5h.75M56.6 252.5h.75M62.3 271.3h.75M63.9 256.2h.75M59.2 260.8h.75M68.8 246.9h.75M53.8 247.0h.75M64.6 241.2h.75M73.2 249.4h.75M63.0 244.5h.75M62.1 260.3h.75M57.3 257.1h.75M61.4 249.9h.75M67.8 245.9h.75M58.2 223.9h.75M43.3 245.5h.75M62.4 253.9h.75M59.2 257.3h.75M65.6 222.1h.75M61.2 228.5h.75M77.1 252.5h.75M48.3 241.4h.75M50.7 249.0h.75M67.5 246.6h.75M50.1 256.6h.75M64.1 233.6h.75M60.6 245.7h.75M40.4 259.9h.75M67.6 253.0h.75M74.9 243.3h.75M62.9 255.3h.75M46.2 253.7h.75M68.9 242.7h.75M50.0 257.5h.75M59.5 257.4h.75M65.0 249.8h.75M52.7 259.9h.75M43.2 240.1h.75M59.2 258.2h.75M60.3 249.2h.75M51.9 242.2h.75M52.6 245.5h.75M68.3 262.0h.75M59.8 245.8h.75M55.8 247.8h.75M54.5 244.9h.75M62.4 243.6h.75M61.6 260.1h.75M58.9 271.8h.75M46.4 263.6h.75M56.8 255.8h.75M54.2 258.2h.75M61.3 247.8h.75M72.5 246.4h.75M70.4 240.0h.75M67.3 264.6h.75M61.8 247.9h.75M57.3 244.3h.75M64.1 245.1h.75M55.8 252.8h.75M57.2 245.9h.75M52.0 251.2h.75M60.1 252.6h.75M59.9 263.6h.75M79.5 239.4h.75M66.3 253.8h.75M56.8 244.5h.75M68.6 247.0h.75M55.8 266.3h.75M71.0 256.9h.75M68.6 247.4h.75M90.2 255.7h.75M49.6 250.9h.75M59.9 261.5h.75M59.5 246.5h.75M63.7 255.7h.75M67.9 249.1h.75M50.7 251.2h.75M53.2 249.6h.75M63.7 245.3h.75M70.5 252.1h.75M49.2 260.3h.75M44.8 245.4h.75M72.3 247.4h.75M69.2 254.5h.75M71.7 244.0h.75M50.8 259.2h.75M58.6 257.7h.75M62.9 229.6h.75M65.1 244.9h.75M59.4 241.0h.75M60.1 258.8h.75M70.9 259.9h.75M56.2 239.9h.75M55.1 244.7h.75M56.3 250.3h.75M55.5 247.6h.75M62.0 257.8h.75M58.5 260.3h.75M56.2 256.6h.75M75.0 261.3h.75M63.7 259.9h.75M57.2 250.4h.75M73.4 247.0h.75M55.1 244.2h.75M60.6 258.8h.75M59.7 259.4h.75M54.8 260.6h.75M56.8 248.0h.75M61.5 247.4h.75M46.2 253.6h.75M56.7 262.8h.75M63.2 254.5h.75M63.4 253.2h.75M63.6 243.4h.75M84.2 255.3h.75M67.3 256.2h.75M59.2 242.2h.75M59.4 267.6h.75M60.6 242.5h.75M65.0 259.8h.75M57.7 249.2h.75M75.8 252.6h.75M49.5 243.8h.75M67.0 245.8h.75M65.7 257.7h.75M49.2 249.3h.75M66.9 247.9h.75M66.2 259.4h.75M54.2 257.8h.75M83.8 252.7h.75M67.7 253.3h.75M57.3 267.2h.75M55.8 249.6h.75M53.2 254.8h.75M63.2 255.1h.75M61.2 238.0h.75M46.5 233.0h.75M50.2 252.3h.75M53.5 259.3h.75M56.6 253.0h.75M57.0 246.1h.75M53.9 245.0h.75M67.0 258.7h.75M70.1 248.4h.75M61.4 236.1h.75M38.7 257.5h.75M59.0 253.4h.75M66.2 254.7h.75M59.8 260.9h.75M63.3 263.5h.75M61.6 256.4h.75M45.7 249.5h.75M35.3 231.3h.75M66.8 253.9h.75M55.4 249.7h.75M64.7 263.5h.75M57.6 263.1h.75M58.9 255.6h.75M74.3 263.9h.75M48.6 250.4h.75M60.5 250.7h.75M49.7 243.2h.75M61.3 248.2h.75M65.3 253.1h.75M67.1 261.0h.75M62.1 244.3h.75M46.8 258.6h.75M63.0 273.0h.75M69.5 238.6h.75M70.5 248.7h.75M81.9 251.3h.75M66.2 260.5h.75M50.4 269.7h.75M55.4 262.7h.75M61.4 250.8h.75M71.0 243.2h.75M49.2 250.6h.75M69.7 250.8h.75M67.1 253.4h.75M51.9 242.8h.75M66.7 265.4h.75M53.0 244.4h.75M60.6 257.5h.75M57.6 253.1h.75M63.0 240.9h.75M48.8 251.7h.75M65.8 251.3h.75M39.0 249.4h.75M56.5 258.7h.75M55.0 246.7h.75M76.3 274.9h.75M65.9 261.7h.75M55.7 242.5h.75M51.7 227.8h.75M60.9 262.9h.75M54.3 253.5h.75M82.9 251.9h.75M32.9 242.0h.75M61.2 237.6h.75M36.1 233.6h.75M70.9 275.2h.75M52.6 266.1h.75M76.6 245.9h.75M55.2 268.7h.75M71.4 233.7h.75M62.6 257.6h.75M72.4 257.7h.75M60.8 243.0h.75M31.0 246.8h.75M53.4 241.3h.75M45.1 251.5h.75M70.0 263.4h.75M66.0 260.4h.75M60.7 255.0h.75M65.1 261.6h.75M62.6 234.3h.75M54.9 270.1h.75M80.1 250.6h.75M63.0 238.7h.75M58.7 247.5h.75M46.0 244.9h.75M54.4 251.9h.75M60.7 254.0h.75M58.8 229.1h.75M55.9 262.9h.75M60.1 267.3h.75M49.4 241.3h.75M60.7 265.0h.75M45.2 262.9h.75M52.0 260.6h.75M53.2 266.4h.75M69.3 237.9h.75M65.5 257.9h.75M61.4 241.5h.75M49.1 273.4h.75M56.6 241.9h.75M68.6 239.5h.75M73.1 261.6h.75M45.9 256.9h.75M56.3 251.3h.75M61.7 252.3h.75M64.1 256.8h.75M60.7 267.4h.75M67.3 244.3h.75M46.2 245.7h.75M76.2 245.6h.75M49.2 250.3h.75M61.2 251.1h.75M65.8 238.9h.75M72.3 253.9h.75M69.7 239.1h.75M69.4 248.1h.75M73.4 248.7h.75M59.1 248.7h.75M68.2 265.1h.75M76.1 266.5h.75M53.1 261.2h.75M46.7 266.0h.75M50.6 248.3h.75M74.8 264.4h.75M73.1 250.5h.75M57.1 253.2h.75M63.2 253.6h.75M65.5 238.3h.75M71.2 245.2h.75M41.9 249.5h.75M55.1 254.5h.75M58.1 249.8h.75M63.9 242.9h.75M61.5 240.0h.75M57.6 251.1h.75M63.6 239.8h.75M35.0 239.8h.75M91.5 250.0h.75M69.0 252.7h.75M69.6 243.1h.75M54.2 234.1h.75M64.9 253.7h.75M81.4 258.8h.75M79.0 247.1h.75M61.5 247.4h.75M48.4 228.9h.75M62.4 259.6h.75M57.8 240.6h.75M69.3 257.8h.75M48.0 245.4h.75M58.9 249.7h.75M63.5 249.2h.75M56.1 233.9h.75M71.4 277.1h.75M49.4 236.2h.75M48.4 252.0h.75M57.3 243.3h.75M69.1 248.8h.75M57.8 264.1h.75M54.9 233.3h.75M68.9 249.6h.75M63.1 255.7h.75M55.5 252.1h.75M62.1 254.8h.75M58.4 243.9h.75M66.9 235.4h.75M62.3 238.5h.75M52.8 247.1h.75M56.0 258.1h.75M56.7 251.8h.75M64.5 266.2h.75M64.6 252.0h.75M52.5 252.8h.75M58.9 252.9h.75M63.9 234.6h.75M71.9 256.5h.75M63.3 240.5h.75M80.4 247.4h.75M61.1 273.3h.75M68.2 239.3h.75M57.5 252.1h.75M50.8 253.8h.75M61.9 252.2h.75M65.7 251.0h.75M64.1 245.7h.75M62.3 269.9h.75M57.5 231.9h.75M52.6 241.3h.75M57.8 265.1h.75M65.5 256.2h.75M70.4 243.7h.75M27.7 242.5h.75M66.9 248.6h.75M71.7 276.1h.75M73.5 255.7h.75M64.7 241.2h.75M67.5 253.3h.75M56.3 245.1h.75M59.9 265.2h.75M66.1 253.8h.75M49.8 263.0h.75M52.9 252.5h.75M62.8 270.4h.75M47.4 254.9h.75M61.3 253.7h.75M45.9 241.3h.75M62.8 247.0h.75M61.1 254.7h.75M55.1 246.3h.75M51.3 274.6h.75M55.7 250.9h.75M38.3 243.8h.75M56.8 260.4h.75M62.0 246.0h.75M72.9 254.9h.75M55.7 250.1h.75M59.0 244.2h.75M74.8 264.2h.75M78.3 251.9h.75M55.9 261.3h.75M71.3 247.8h.75M72.6 237.4h.75M66.0 239.2h.75M50.9 246.1h.75M51.3 249.3h.75M66.6 251.5h.75M84.3 255.9h.75M59.0 239.2h.75M76.6 253.2h.75M79.9 239.4h.75M48.2 244.5h.75M54.8 275.4h.75M76.0 263.1h.75M70.6 247.6h.75M66.3 268.0h.75M60.7 264.5h.75M67.1 259.4h.75M54.4 264.9h.75M86.0 248.6h.75M49.2 249.8h.75M42.7 242.8h.75M62.3 256.5h.75M75.4 239.1h.75M55.8 246.2h.75M60.3 255.4h.75M50.5 246.2h.75M60.1 254.3h.75M50.6 268.3h.75M50.7 241.6h.75M46.0 264.3h.75M55.3 244.5h.75M79.6 242.1h.75M60.2 253.1h.75M62.7 260.8h.75M83.3 244.2h.75M54.4 244.1h.75M50.7 246.8h.75M66.1 244.2h.75M48.4 252.8h.75M64.2 244.2h.75M72.5 248.6h.75M49.9 254.4h.75M55.5 247.0h.75M77.9 262.0h.75M50.1 244.6h.75M53.9 243.7h.75M63.2 270.4h.75M57.6 265.3h.75M52.2 251.7h.75M76.9 258.9h.75M54.9 254.2h.75M64.1 246.2h.75M56.6 257.4h.75M58.5 253.9h.75M46.9 263.2h.75M70.2 233.5h.75M56.5 258.7h.75M73.7 252.6h.75M49.0 244.5h.75M55.9 246.9h.75M65.6 247.2h.75M61.9 238.4h.75M54.2 245.5h.75M59.4 258.4h.75M47.7 236.6h.75M61.3 247.4h.75M34.0 228.5h.75M62.5 245.5h.75M74.5 254.7h.75M69.8 250.5h.75M69.4 251.4h.75M56.6 240.4h.75M65.7 256.4h.75M56.7 242.4h.75M59.9 259.6h.75M59.8 253.0h.75M26.8 247.4h.75M70.1 265.1h.75M65.4 247.2h.75M69.3 260.7h.75M51.2 252.0h.75M67.8 251.0h.75M65.7 260.5h.75M38.2 255.2h.75M43.0 250.9h.75M61.3 249.9h.75M54.1 253.0h.75M60.6 251.8h.75M54.3 247.9h.75M75.9 241.2h.75M41.6 226.4h.75M47.0 249.9h.75M50.9 248.7h.75M47.0 262.5h.75M54.9 255.3h.75M60.5 261.8h.75M47.2 267.5h.75M64.5 250.0h.75M74.1 243.0h.75M71.9 258.8h.75M81.1 245.3h.75M72.3 248.6h.75M60.5 264.7h.75M78.8 256.3h.75M68.0 261.4h.75M79.8 238.2h.75M58.9 251.4h.75M39.6 261.6h.75M49.0 238.8h.75M62.7 252.9h.75M66.4 254.9h.75M58.8 229.1h.75M71.0 266.2h.75M49.2 244.2h.75M53.8 249.7h.75M70.9 267.0h.75M61.4 234.0h.75M61.9 255.4h.75M75.1 246.8h.75M72.0 251.4h.75M52.9 243.2h.75M62.9 264.0h.75M43.7 240.4h.75M60.8 254.5h.75M64.9 256.2h.75M43.4 250.2h.75M76.7 248.4h.75M81.1 248.5h.75M66.0 260.7h.75M70.3 255.3h.75M76.1 250.3h.75M59.2 240.7h.75M71.5 252.5h.75M64.9 256.1h.75M45.5 250.7h.75M51.9 264.7h.75M55.3 232.9h.75M71.8 274.7h.75M62.0 249.3h.75M71.0 240.2h.75M56.2 234.5h.75M48.1 259.3h.75M81.9 256.5h.75M88.6 249.0h.75M64.9 250.6h.75M59.0 252.6h.75M73.0 247.0h.75M49.8 262.0h.75M58.9 257.0h.75M46.5 249.9h.75M65.9 235.5h.75M63.5 264.1h.75M57.0 246.5h.75M54.4 241.2h.75M45.7 263.3h.75M52.7 255.8h.75M73.5 231.9h.75M57.5 235.2h.75M73.8 247.3h.75M52.3 239.1h.75M60.2 249.6h.75M56.4 275.9h.75M58.4 279.4h.75M68.8 250.7h.75M40.3 258.7h.75M68.5 259.5h.75M68.0 249.9h.75M61.0 237.0h.75M61.8 261.3h.75M58.8 249.4h.75M68.0 255.4h.75M61.6 257.8h.75M52.5 243.4h.75M62.6 267.1h.75M70.7 251.8h.75M64.8 253.2h.75M61.3 247.0h.75M63.1 257.8h.75M56.0 260.7h.75M56.4 245.8h.75M42.0 256.6h.75M59.2 247.0h.75M71.0 239.4h.75M57.1 248.0h.75M51.9 256.9h.75M70.1 256.3h.75M62.7 261.4h.75M62.5 244.7h.75M65.8 248.2h.75M68.1 251.8h.75M60.6 257.0h.75M52.6 250.0h.75M78.6 242.1h.75M61.6 236.4h.75M53.2 262.3h.75M62.9 261.3h.75M73.0 244.8h.75M46.8 265.2h.75M74.2 250.5h.75M59.7 255.4h.75M81.1 263.1h.75M67.7 246.5h.75M60.0 243.7h.75M73.6 234.6h.75M73.8 254.0h.75M57.5 255.4h.75M63.4 259.4h.75M55.9 256.9h.75M70.3 252.1h.75M46.9 262.1h.75M59.3 241.4h.75M39.7 254.9h.75M67.0 256.0h.75M38.7 250.0h.75M50.4 267.6h.75M63.7 255.3h.75M57.5 264.0h.75M56.6 259.7h.75M51.3 249.4h.75M56.4 269.6h.75M43.5 261.7h.75M64.3 251.3h.75M69.1 250.0h.75M68.7 241.3h.75M60.7 249.7h.75M73.3 248.9h.75M65.7 253.2h.75M70.6 247.1h.75M65.0 256.6h.75M61.4 250.4h.75M53.4 236.1h.75M34.7 246.3h.75M67.5 242.6h.75M59.9 239.0h.75M80.9 248.7h.75M41.2 259.9h.75M69.5 240.5h.75M51.6 232.0h.75M61.0 249.6h.75M52.2 279.7h.75M64.5 245.5h.75M60.7 253.8h.75M69.8 247.2h.75M62.5 259.4h.75M65.8 264.9h.75M73.8 249.7h.75M66.2 262.5h.75M59.7 240.8h.75M73.4 253.2h.75M59.9 239.1h.75M65.1 253.0h.75M57.8 245.3h.75M54.4 253.5h.75M31.1 240.5h.75M68.0 253.4h.75M49.5 252.3h.75M68.4 245.8h.75M79.1 243.5h.75M47.9 239.9h.75M69.8 247.4h.75M60.1 255.0h.75M65.6 249.9h.75M49.1 252.7h.75M61.4 263.3h.75M62.6 248.1h.75M75.4 254.0h.75M82.5 259.1h.75M64.2 256.1h.75M57.4 254.9h.75M83.2 252.0h.75M60.0 269.6h.75M60.5 250.5h.75M62.1 247.5h.75M65.8 256.9h.75M68.2 266.8h.75M55.4 264.7h.75M60.0 251.5h.75M79.9 259.2h.75M77.1 256.0h.75M65.6 252.0h.75M63.9 257.5h.75M58.8 257.1h.75M71.4 252.6h.75M56.0 267.7h.75M62.4 247.6h.75M56.6 264.5h.75M54.9 271.3h.75M61.5 271.4h.75M61.2 253.9h.75M55.4 249.5h.75M60.5 236.0h.75M61.8 250.7h.75M56.5 274.5h.75M54.6 236.3h.75M59.8 236.5h.75M68.2 259.2h.75M72.2 257.1h.75M63.0 233.9h.75M58.5 250.7h.75M60.9 254.5h.75M80.2 236.8h.75M70.3 260.4h.75M51.7 238.6h.75M60.6 262.0h.75M55.9 253.2h.75M57.5 244.6h.75M44.4 235.9h.75M61.4 248.0h.75M47.6 250.3h.75M55.3 250.0h.75M76.3 245.6h.75M71.1 249.2h.75M52.5 259.5h.75M50.9 242.6h.75M52.1 249.2h.75M42.4 255.6h.75M51.4 251.0h.75M58.5 259.5h.75M50.7 266.0h.75M68.7 247.9h.75M60.7 253.3h.75M55.9 223.2h.75M78.7 247.9h.75M68.3 257.6h.75M61.9 240.5h.75M79.7 263.9h.75M74.3 233.3h.75M54.1 264.1h.75M64.4 246.3h.75M56.8 241.5h.75M46.8 246.6h.75M80.2 248.7h.75M76.2 241.5h.75M48.5 238.0h.75M66.1 246.2h.75M44.8 260.2h.75M71.9 255.1h.75M60.7 264.0h.75M58.3 245.4h.75M73.8 247.8h.75M61.3 248.0h.75M58.6 252.5h.75M70.3 255.6h.75M58.2 267.9h.75M69.9 257.9h.75M61.2 252.7h.75M69.5 264.1h.75M67.5 243.7h.75M69.1 238.6h.75M51.1 257.5h.75M80.1 252.7h.75M59.6 252.3h.75M78.9 260.0h.75M55.2 248.0h.75M58.5 250.1h.75M58.6 254.8h.75M72.8 257.3h.75M56.9 260.5h.75M65.4 252.3h.75M45.4 253.7h.75M56.4 228.1h.75M63.5 262.8h.75M60.1 236.2h.75M42.3 250.7h.75M66.2 275.3h.75M51.5 248.0h.75M80.7 236.0h.75M59.3 266.5h.75M84.0 245.8h.75M67.9 249.6h.75M65.8 249.5h.75M56.4 258.1h.75M60.0 258.5h.75M65.8 249.9h.75M41.5 261.7h.75M71.3 242.5h.75M49.4 257.5h.75M58.6 245.2h.75M33.6 257.8h.75M65.8 244.7h.75M68.7 246.9h.75M64.1 265.1h.75M64.5 240.4h.75M57.4 239.9h.75M62.7 256.5h.75M73.4 248.5h.75M56.9 247.0h.75M66.3 249.7h.75M68.6 271.3h.75M58.8 241.2h.75M63.6 248.5h.75M63.4 252.7h.75M56.2 242.1h.75M85.8 250.7h.75M56.8 255.7h.75M78.5 242.4h.75M72.0 261.7h.75M40.6 240.2h.75M63.7 249.7h.75M71.7 254.3h.75M69.5 281.3h.75M52.0 234.4h.75M63.8 253.7h.75M49.0 275.0h.75M50.6 245.4h.75M58.8 261.4h.75M63.1 253.1h.75M77.5 237.4h.75M64.8 254.8h.75M72.0 242.6h.75M49.0 251.9h.75M49.4 236.8h.75M56.2 258.0h.75M79.0 228.1h.75M47.6 249.4h.75M45.1 263.3h.75M60.4 255.9h.75M73.3 247.7h.75M44.6 248.8h.75M58.6 247.0h.75M47.4 276.9h.75M75.9 250.5h.75M68.2 250.9h.75M64.0 244.0h.75M60.7 246.5h.75M58.8 256.8h.75M62.6 245.2h.75M54.6 243.4h.75M52.2 245.8h.75M49.8 247.7h.75M61.3 252.7h.75M53.0 246.4h.75M70.1 249.2h.75M39.7 243.9h.75M66.9 262.8h.75M66.6 251.9h.75M73.6 248.0h.75M58.6 253.8h.75M45.8 250.6h.75M51.7 236.1h.75M72.7 249.3h.75M58.0 266.7h.75M56.9 255.8h.75M55.2 262.2h.75M60.5 244.6h.75M58.8 236.9h.75M45.2 244.4h.75M55.0 263.8h.75M71.4 241.5h.75M75.9 243.5h.75M59.9 261.5h.75M55.8 248.6h.75M75.0 249.1h.75M59.3 254.6h.75M49.1 251.8h.75M59.8 248.1h.75M68.2 253.4h.75M77.0 244.2h.75M56.1 250.6h.75M66.6 257.2h.75M57.7 240.9h.75M72.8 249.0h.75M63.7 240.1h.75M63.8 258.1h.75M51.1 256.8h.75M57.8 260.0h.75M57.8 260.8h.75M69.8 257.8h.75M61.0 243.6h.75M59.0 259.9h.75M57.4 242.3h.75M61.4 273.2h.75M63.6 253.7h.75M47.7 256.6h.75M62.4 239.3h.75M62.3 261.2h.75M61.4 262.1h.75M45.9 236.1h.75M59.7 245.7h.75M48.0 246.5h.75M64.7 244.8h.75M74.5 264.1h.75M70.0 271.6h.75M57.6 240.9h.75M55.6 261.0h.75M55.3 248.5h.75M64.7 264.0h.75M54.3 227.7h.75M55.6 246.9h.75M35.5 262.5h.75M52.4 243.8h.75M53.1 262.3h.75M55.6 246.1h.75M73.5 261.8h.75M47.2 256.5h.75M47.5 247.0h.75M67.2 243.7h.75M51.0 249.4h.75M59.4 262.0h.75M62.8 250.9h.75M61.2 244.7h.75M53.1 282.5h.75M70.4 236.0h.75M76.4 248.8h.75M50.8 256.1h.75M58.3 241.0h.75M70.7 250.9h.75M58.9 247.0h.75M50.8 236.9h.75M56.7 255.3h.75M69.6 240.1h.75M50.9 243.8h.75M63.7 262.7h.75M65.0 240.3h.75M54.4 256.7h.75M66.8 262.2h.75M67.9 260.4h.75M71.2 255.4h.75M70.6 248.7h.75M45.9 237.6h.75M70.2 252.3h.75M67.0 255.2h.75M71.0 246.1h.75M52.4 241.6h.75M70.3 259.2h.75M64.9 240.9h.75M49.3 255.1h.75M74.0 246.4h.75M53.1 234.9h.75M50.7 266.3h.75M65.1 256.7h.75M54.9 256.1h.75M64.8 237.4h.75M58.6 249.7h.75M64.0 253.5h.75M69.4 243.8h.75M60.7 266.6h.75M69.9 231.6h.75M69.7 257.5h.75M52.5 232.9h.75M69.8 235.9h.75M67.4 238.6h.75M62.5 256.2h.75M72.5 244.0h.75M78.0 244.4h.75M68.8 242.1h.75M46.1 236.7h.75M65.6 242.2h.75M59.8 241.3h.75M58.4 247.6h.75M64.6 247.0h.75M57.8 227.8h.75M77.7 244.4h.75M63.9 262.1h.75M61.3 246.1h.75M69.1 249.8h.75M69.3 243.6h.75M73.2 243.9h.75M67.6 249.7h.75M60.8 237.6h.75M62.5 248.8h.75M39.2 234.5h.75M46.2 253.5h.75M71.7 235.3h.75M57.8 256.5h.75M79.6 259.9h.75M79.5 234.8h.75M48.4 256.6h.75M64.3 246.3h.75"/>
<path stroke="#111" stroke-opacity="1.0" stroke-width="0.75" fill="none" d="M90.6 250.5h.75M77.0 267.1h.75M79.0 271.8h.75M78.9 247.9h.75M91.3 260.8h.75M65.8 240.3h.75M87.4 260.9h.75M82.0 246.2h.75M77.3 254.9h.75M79.3 258.3h.75M88.7 253.9h.75M87.8 267.6h.75M94.8 248.3h.75M76.1 251.6h.75M66.1 260.0h.75M76.8 256.2h.75M79.6 259.2h.75M77.7 254.3h.75M91.0 248.0h.75M99.4 263.6h.75M84.2 257.4h.75M66.9 266.1h.75M89.5 270.7h.75M76.0 252.8h.75M81.5 248.7h.75M87.9 251.7h.75M84.1 249.7h.75M80.6 235.5h.75M83.5 274.0h.75M87.2 260.9h.75M86.2 281.3h.75M97.7 250.6h.75M57.2 262.9h.75M74.9 259.5h.75M76.5 255.9h.75M87.7 267.0h.75M82.9 256.6h.75M88.0 255.8h.75M69.7 258.3h.75M79.4 232.9h.75M86.3 249.0h.75M80.7 248.8h.75M77.9 274.1h.75M83.3 262.8h.75M94.3 264.9h.75M64.3 263.3h.75M93.8 254.6h.75M83.4 274.1h.75M74.3 254.4h.75M86.4 241.6h.75M81.5 263.3h.75M90.8 269.1h.75M74.7 257.7h.75M88.9 260.5h.75M73.9 266.8h.75M83.7 272.9h.75M86.7 262.8h.75M80.5 274.5h.75M86.3 259.7h.75M76.4 278.9h.75M89.6 242.1h.75M77.1 266.7h.75M75.5 259.7h.75M80.2 257.9h.75M80.7 243.1h.75M74.4 268.0h.75M87.5 254.6h.75M80.2 246.2h.75M86.0 250.0h.75M69.2 254.2h.75M70.6 257.8h.75M79.0 247.1h.75M73.2 246.9h.75M80.1 261.1h.75M85.6 255.9h.75M90.1 277.5h.75M92.9 252.2h.75M87.4 264.6h.75M75.5 275.1h.75M85.5 254.6h.75M77.0 267.1h.75M85.5 259.9h.75M72.7 257.2h.75M91.9 273.7h.75M84.5 246.2h.75M78.9 250.3h.75M70.3 237.9h.75M83.4 255.4h.75M77.0 267.1h.75M83.2 254.0h.75M75.5 265.4h.75M76.8 248.7h.75M86.1 268.8h.75M93.0 255.5h.75M71.1 251.6h.75M79.6 274.0h.75M84.3 256.6h.75M79.9 262.7h.75M77.7 257.9h.75M98.5 264.1h.75M74.5 258.0h.75M84.1 244.0h.75M77.3 259.7h.75M80.4 261.7h.75M62.9 260.8h.75M88.3 254.3h.75M79.5 275.8h.75M73.5 249.0h.75M94.5 258.0h.75M79.0 258.9h.75M76.3 245.2h.75M74.4 244.1h.75M89.7 263.7h.75M81.4 263.8h.75M78.7 258.1h.75M70.6 239.7h.75M74.0 253.6h.75M84.0 259.2h.75M81.0 263.2h.75M65.1 269.2h.75M74.2 261.5h.75M83.0 266.8h.75M102.7 274.2h.75M75.2 232.0h.75M63.4 267.1h.75M87.3 252.0h.75M77.4 261.7h.75M70.6 258.9h.75M85.7 245.9h.75M79.3 247.1h.75M73.5 261.2h.75M70.7 254.7h.75M80.2 264.4h.75M81.9 252.6h.75M67.0 279.3h.75M89.1 253.9h.75M71.0 278.5h.75M92.4 248.6h.75M83.8 262.5h.75M79.7 268.5h.75M83.9 242.8h.75M76.4 246.4h.75M80.7 260.9h.75M94.4 268.7h.75M76.6 271.0h.75M87.7 262.5h.75M74.0 267.7h.75M81.0 244.3h.75M88.9 252.1h.75M71.6 271.8h.75M83.9 250.8h.75M64.0 254.1h.75M72.0 238.3h.75M77.8 254.6h.75M88.3 239.8h.75M86.9 260.4h.75M73.9 272.1h.75M80.1 259.9h.75M82.7 258.3h.75M68.7 252.4h.75M84.6 262.4h.75M92.0 244.9h.75M91.1 251.7h.75M76.5 279.3h.75M77.9 242.8h.75M73.7 250.6h.75M77.2 241.8h.75M79.2 269.5h.75M86.6 254.0h.75M81.9 243.1h.75M73.8 243.3h.75M87.8 268.2h.75M88.2 263.6h.75M76.3 264.9h.75M79.2 255.8h.75M80.4 266.0h.75M68.0 270.3h.75M82.3 263.5h.75M86.6 239.6h.75M96.8 235.7h.75M82.7 241.0h.75M78.9 259.2h.75M80.0 240.6h.75M86.1 245.0h.75M87.6 256.7h.75M74.3 247.1h.75M82.8 242.9h.75M86.4 266.5h.75M65.2 261.5h.75M92.2 264.6h.75M79.5 266.0h.75M88.2 271.5h.75M80.9 255.9h.75M79.3 254.3h.75M80.6 237.7h.75M83.5 253.7h.75M88.2 249.9h.75M79.1 267.2h.75M72.3 263.3h.75M75.6 271.7h.75M73.4 267.7h.75M87.3 268.7h.75M73.6 261.7h.75M93.4 257.6h.75M82.3 252.1h.75M80.5 255.9h.75M91.7 246.0h.75M78.3 260.2h.75M78.9 255.2h.75M87.5 234.6h.75M87.2 227.5h.75M73.3 248.4h.75M100.9 251.1h.75M85.8 252.9h.75M71.3 269.7h.75M79.9 249.4h.75M88.7 242.6h.75M83.1 260.0h.75M88.2 266.6h.75M100.2 273.4h.75M88.8 245.3h.75M97.4 253.3h.75M86.8 251.5h.75M76.0 271.9h.75M93.4 263.3h.75M75.8 256.2h.75M89.0 263.6h.75M86.6 252.2h.75M74.6 253.8h.75M75.8 255.6h.75M80.0 250.7h.75M84.6 253.3h.75M92.1 259.7h.75M82.1 258.5h.75M96.7 271.5h.75M88.5 265.0h.75M76.4 255.1h.75M76.6 232.8h.75M82.2 240.3h.75M77.4 250.6h.75M80.8 251.8h.75M87.8 242.1h.75M83.7 251.9h.75M89.4 257.0h.75M76.1 249.2h.75M74.7 254.3h.75M70.4 254.8h.75M67.4 248.4h.75M78.1 246.7h.75M82.2 254.4h.75M80.1 258.6h.75M81.7 244.8h.75M98.0 234.3h.75M73.0 245.7h.75M79.5 261.1h.75M77.8 238.8h.75M74.4 265.5h.75M92.5 249.6h.75M81.5 257.0h.75M91.8 247.6h.75M72.7 261.8h.75M96.8 256.2h.75M99.9 259.6h.75M74.8 235.3h.75M81.7 263.3h.75M80.7 238.0h.75M86.2 252.2h.75M71.4 261.1h.75M85.5 253.6h.75M87.6 260.9h.75M77.0 257.4h.75M63.7 256.6h.75M76.4 247.2h.75M78.6 266.2h.75M87.9 267.4h.75M76.9 250.0h.75M72.6 246.3h.75M86.7 257.8h.75M84.8 247.7h.75M87.7 257.1h.75M82.2 264.2h.75M90.3 262.6h.75M85.9 271.1h.75M67.5 260.5h.75M83.4 244.7h.75M88.0 246.7h.75M82.1 261.2h.75M93.5 275.5h.75M78.2 251.9h.75M87.4 246.1h.75M72.0 270.2h.75M81.8 254.3h.75M77.5 262.9h.75M73.8 266.9h.75M71.4 245.4h.75M83.6 251.9h.75M85.3 249.8h.75M76.8 261.1h.75M72.0 262.4h.75M74.8 250.4h.75M87.9 261.4h.75M72.2 237.0h.75M91.0 259.2h.75M68.5 259.2h.75M84.1 255.6h.75M87.2 240.5h.75M91.6 254.5h.75M78.4 244.5h.75M75.8 270.7h.75M70.5 252.6h.75M89.1 253.4h.75M80.8 254.4h.75M78.2 261.2h.75M78.5 256.4h.75M83.9 261.1h.75M82.1 246.0h.75M91.3 267.0h.75M64.7 250.5h.75M88.6 263.4h.75M77.6 258.0h.75M81.3 266.7h.75M79.4 254.8h.75M81.2 240.3h.75M87.9 243.7h.75M83.7 253.2h.75M70.4 269.9h.75M81.4 251.2h.75M81.1 256.2h.75M84.9 268.6h.75M82.2 249.8h.75M81.3 258.8h.75M90.1 258.5h.75M73.2 249.4h.75M99.4 258.0h.75M77.4 266.4h.75M73.6 266.4h.75M88.2 252.1h.75M90.5 285.7h.75M91.9 259.2h.75M93.6 252.7h.75M85.8 248.1h.75M82.5 245.4h.75M85.0 264.0h.75M81.9 225.8h.75M77.6 254.0h.75M94.8 241.4h.75M96.5 253.8h.75M82.0 255.2h.75M80.1 242.1h.75M78.0 245.4h.75M68.5 268.7h.75M76.6 249.9h.75M77.9 255.5h.75M81.8 252.3h.75M74.0 264.2h.75M66.8 268.2h.75M87.2 265.1h.75M95.8 261.3h.75M65.0 261.4h.75M80.9 243.3h.75M88.9 269.1h.75M72.7 249.8h.75M70.5 246.4h.75M82.3 251.7h.75M80.1 247.4h.75M76.9 259.8h.75M95.2 263.0h.75M94.0 268.8h.75M87.3 254.6h.75M81.5 249.4h.75M79.4 252.7h.75M89.1 243.5h.75M80.2 248.0h.75M94.0 276.2h.75M92.1 247.6h.75M77.3 250.8h.75M88.2 262.1h.75M94.7 258.2h.75M87.4 263.5h.75M74.6 246.6h.75M80.0 244.6h.75M79.5 269.2h.75M83.2 248.6h.75M82.5 254.6h.75M79.4 257.8h.75M89.1 236.5h.75M93.1 253.6h.75M77.8 248.9h.75M70.5 261.0h.75M85.3 252.4h.75M82.4 232.3h.75M85.7 263.7h.75M76.9 229.2h.75M84.7 251.3h.75M75.1 248.4h.75M91.1 249.3h.75M95.8 255.4h.75M75.0 265.4h.75M61.6 246.6h.75M78.5 249.2h.75M78.2 263.2h.75M84.0 260.8h.75M82.6 263.0h.75M86.4 259.0h.75M104.2 253.1h.75M78.0 250.5h.75M79.5 250.7h.75M86.0 264.9h.75M67.7 271.0h.75M88.8 276.0h.75M77.6 244.8h.75M71.0 253.1h.75M75.8 255.6h.75M86.6 253.9h.75M89.3 243.9h.75M92.6 278.1h.75M86.1 271.2h.75M76.8 253.9h.75M87.1 250.9h.75M82.0 255.5h.75M101.3 243.1h.75M66.2 252.1h.75M95.5 263.6h.75M88.8 272.7h.75M85.9 264.8h.75M81.9 269.0h.75M78.2 244.7h.75M75.0 222.0h.75M70.2 269.9h.75M99.0 257.5h.75M90.2 254.7h.75M88.1 272.9h.75M85.6 245.6h.75M67.4 245.7h.75M80.5 247.9h.75M83.7 272.4h.75M92.0 265.4h.75M74.7 237.1h.75M85.0 272.8h.75M80.9 255.7h.75M83.0 260.0h.75M76.6 247.6h.75M85.7 275.1h.75M83.5 260.2h.75M67.9 269.3h.75M92.5 245.2h.75M100.4 262.9h.75M75.8 256.5h.75M92.0 253.3h.75M75.0 247.1h.75M78.6 248.3h.75M96.9 243.4h.75M84.5 248.7h.75M95.0 255.3h.75M85.2 261.7h.75M91.0 239.3h.75M81.6 244.8h.75M94.4 249.2h.75M97.2 238.5h.75M88.4 252.6h.75M78.4 252.8h.75M80.0 253.6h.75M75.4 259.9h.75M87.8 265.4h.75M87.1 264.0h.75M77.4 258.5h.75M90.3 261.8h.75M78.4 247.3h.75M97.6 245.7h.75M89.6 262.3h.75M95.7 261.5h.75M77.3 278.5h.75M75.1 253.2h.75M68.4 245.3h.75M88.2 258.6h.75M74.1 250.9h.75M93.8 246.3h.75M84.2 269.9h.75M89.2 275.7h.75M72.8 259.5h.75M78.3 248.8h.75M84.6 258.3h.75M89.0 255.0h.75M72.8 241.1h.75M85.8 264.3h.75M76.5 259.2h.75M89.6 268.7h.75M81.3 249.8h.75M80.7 255.4h.75M86.6 254.4h.75M92.4 237.6h.75M81.2 281.9h.75M92.9 233.7h.75M75.2 243.6h.75M85.4 251.9h.75M74.2 239.2h.75M84.8 260.0h.75M75.8 250.8h.75M83.4 256.4h.75M88.1 258.1h.75M75.4 256.5h.75M69.1 256.7h.75M81.7 254.1h.75M87.3 260.2h.75M85.0 264.2h.75M75.9 253.0h.75M89.8 251.0h.75M80.8 251.5h.75M89.2 259.0h.75M76.0 251.9h.75M86.6 251.7h.75M92.5 239.9h.75M77.8 276.0h.75M80.8 242.8h.75M88.0 273.4h.75M87.2 264.2h.75M85.9 266.6h.75M82.1 258.5h.75M70.6 261.0h.75M83.0 258.9h.75M72.8 262.1h.75M83.7 264.7h.75M64.4 271.9h.75M94.5 245.4h.75M98.2 261.0h.75M86.6 272.9h.75M76.3 270.6h.75M80.6 245.1h.75M90.1 259.2h.75M88.2 258.9h.75M77.5 258.6h.75M92.5 232.1h.75M88.8 265.1h.75M87.2 239.0h.75M80.2 279.1h.75M83.0 262.9h.75M77.3 255.0h.75M84.5 262.7h.75M77.7 257.5h.75M92.3 250.4h.75M83.3 255.1h.75M84.6 259.7h.75M85.6 247.5h.75M85.5 263.6h.75M71.7 267.9h.75M93.1 267.5h.75M83.7 268.6h.75M78.6 269.9h.75M75.3 263.6h.75M77.5 270.0h.75M78.1 256.8h.75M83.1 260.5h.75M76.1 271.2h.75M83.8 276.8h.75M84.1 252.4h.75M77.5 240.7h.75M100.5 279.0h.75M82.0 268.5h.75M85.6 275.6h.75M83.8 265.8h.75M81.6 258.8h.75M88.2 249.4h.75M93.8 246.0h.75M82.3 271.7h.75M76.1 266.7h.75M87.2 259.6h.75M65.8 244.3h.75M84.1 250.6h.75M81.4 249.6h.75M85.4 253.0h.75M70.9 225.4h.75M79.4 258.6h.75M74.7 272.9h.75M78.5 250.4h.75M87.4 256.5h.75M81.2 259.2h.75M78.0 245.6h.75M92.1 260.8h.75M82.8 247.5h.75M66.7 251.5h.75M74.4 258.9h.75M85.9 255.6h.75M86.1 257.3h.75M84.4 246.4h.75M84.7 264.0h.75M75.5 244.6h.75M81.8 265.3h.75M73.2 251.1h.75M75.9 243.5h.75M75.3 255.3h.75M75.9 244.9h.75M79.8 250.5h.75M80.7 254.6h.75M76.1 264.6h.75M91.0 264.8h.75M78.8 261.4h.75M94.5 253.2h.75M90.3 239.9h.75M72.8 253.8h.75M89.4 252.8h.75M71.3 254.8h.75M93.7 250.6h.75M84.9 250.6h.75M74.4 264.9h.75M65.0 241.9h.75M79.1 256.3h.75M71.5 269.7h.75M90.8 248.0h.75M72.4 245.6h.75M80.3 253.8h.75M86.0 252.5h.75M82.2 259.0h.75M84.2 270.8h.75M80.1 254.9h.75M87.8 262.2h.75M74.7 250.0h.75M86.5 251.0h.75M72.6 259.4h.75M83.4 249.0h.75M73.1 269.1h.75M80.4 251.9h.75M86.6 254.5h.75M91.8 245.0h.75M67.8 251.5h.75M75.9 245.5h.75M74.3 251.0h.75M91.5 237.1h.75M75.1 256.1h.75M87.5 275.0h.75M77.9 236.0h.75M70.6 274.9h.75M82.8 254.9h.75M73.0 265.7h.75M87.7 245.3h.75M88.5 278.0h.75M92.4 244.6h.75M73.9 255.4h.75M94.4 273.0h.75M89.6 242.4h.75M67.8 231.0h.75M99.4 255.4h.75M95.2 247.9h.75M73.7 245.7h.75M84.5 246.3h.75M71.3 240.3h.75M80.9 271.3h.75M83.4 269.4h.75M86.8 241.4h.75M75.4 255.0h.75M81.7 251.2h.75M74.6 268.1h.75M84.9 247.1h.75M87.2 273.7h.75M82.5 256.2h.75M91.0 247.6h.75M87.9 255.2h.75M84.8 249.8h.75M91.1 280.6h.75M72.1 257.8h.75M81.6 250.9h.75M67.9 257.2h.75M81.8 272.2h.75M78.2 245.7h.75M88.4 237.8h.75M78.4 270.4h.75M76.8 262.8h.75M81.2 251.2h.75M80.9 255.2h.75M86.0 268.2h.75M75.0 226.5h.75M70.0 270.0h.75M69.3 254.2h.75M91.0 263.5h.75M71.9 255.5h.75M78.2 289.8h.75M73.2 249.3h.75M88.9 268.1h.75M77.4 227.7h.75M91.6 256.5h.75M76.3 264.7h.75M84.3 239.2h.75M87.9 233.9h.75M89.6 257.1h.75M72.5 267.2h.75M79.0 269.0h.75M81.3 248.6h.75M67.4 259.9h.75M87.6 240.6h.75M85.0 275.2h.75M86.0 249.8h.75M70.9 270.0h.75M83.4 253.1h.75M85.4 252.4h.75M90.1 273.8h.75M77.8 246.5h.75M87.3 270.2h.75M97.5 252.1h.75M78.5 246.4h.75M78.7 246.9h.75M79.4 268.4h.75M70.1 255.2h.75M79.1 252.2h.75M94.8 239.5h.75M74.6 268.9h.75M80.4 267.5h.75M91.4 259.6h.75M86.4 264.6h.75M83.8 220.3h.75M79.3 250.2h.75M81.1 257.8h.75M82.1 257.2h.75M87.4 249.8h.75M82.6 258.6h.75M89.4 248.0h.75M67.2 248.8h.75M88.5 242.3h.75M77.8 257.5h.75M82.1 248.1h.75M78.6 250.5h.75M87.1 271.2h.75M81.1 255.5h.75M86.9 255.6h.75M75.6 239.1h.75M83.5 250.2h.75M91.7 266.8h.75M90.8 262.1h.75M79.2 256.6h.75M83.1 254.1h.75M79.1 256.7h.75M81.1 260.4h.75M82.1 252.4h.75M91.6 228.6h.75M86.6 277.6h.75M93.5 268.5h.75M94.1 254.3h.75M72.0 271.5h.75M84.5 241.6h.75M78.5 270.2h.75M69.3 258.1h.75M73.5 265.8h.75M78.0 252.2h.75M95.2 257.7h.75M82.7 262.4h.75M80.6 267.5h.75M81.8 261.7h.75M76.1 260.9h.75M83.4 249.5h.75M81.3 274.9h.75M69.2 258.3h.75M77.8 253.5h.75M108.5 252.4h.75M87.0 242.8h.75M81.3 247.9h.75M87.3 239.2h.75M74.4 258.2h.75M82.8 255.1h.75M88.9 258.4h.75M69.4 242.2h.75M76.3 251.3h.75M78.9 248.9h.75M79.8 266.9h.75M78.0 239.6h.75M84.2 239.3h.75M90.1 270.1h.75M84.8 260.0h.75M90.1 238.7h.75M90.3 270.8h.75M77.4 272.4h.75M84.2 268.5h.75M79.1 233.3h.75M87.2 257.3h.75M79.3 246.5h.75M80.6 253.1h.75M95.4 238.6h.75M80.7 275.1h.75M69.8 248.4h.75M83.0 259.0h.75M84.4 264.8h.75M78.1 262.7h.75M82.6 260.5h.75M90.1 251.7h.75M78.0 258.4h.75M80.6 253.6h.75M76.5 231.0h.75M84.7 267.0h.75M81.1 249.1h.75M74.9 250.2h.75M80.9 251.4h.75M96.4 240.7h.75M68.7 242.6h.75M71.3 236.1h.75M84.7 261.1h.75M71.2 269.0h.75M97.4 256.8h.75M70.4 243.4h.75M71.9 270.3h.75M78.1 252.4h.75M90.5 238.4h.75M88.4 235.3h.75M86.6 258.0h.75M84.4 271.8h.75M92.3 251.7h.75M67.9 249.0h.75M84.3 252.9h.75M93.3 246.6h.75M73.8 249.9h.75M84.6 258.7h.75M91.7 248.0h.75M91.9 266.2h.75M81.0 245.2h.75M96.7 263.7h.75M86.1 259.7h.75M90.5 251.7h.75M73.7 252.7h.75M76.2 252.4h.75M76.2 274.4h.75M95.9 247.0h.75M63.9 269.0h.75M67.8 267.0h.75M88.3 252.2h.75M83.3 273.7h.75M59.0 229.8h.75M79.0 258.6h.75M79.7 257.3h.75M91.6 256.2h.75M67.2 265.1h.75M78.0 251.5h.75M90.4 253.9h.75M88.1 268.6h.75M75.0 254.7h.75M79.9 244.6h.75M70.6 262.2h.75M92.8 255.0h.75M78.8 249.7h.75M92.0 262.0h.75M88.4 247.4h.75M75.2 245.1h.75M81.0 253.1h.75M87.2 253.8h.75M85.6 256.5h.75M94.0 242.7h.75M90.8 274.8h.75M84.7 263.4h.75M87.5 257.5h.75M76.6 258.5h.75M77.5 228.4h.75M86.9 266.1h.75M84.8 244.7h.75M73.6 261.5h.75M81.6 242.8h.75M76.0 266.8h.75M77.9 250.0h.75M92.2 253.6h.75M74.9 272.7h.75M77.1 266.8h.75M86.6 240.8h.75M82.8 248.2h.75M83.5 258.1h.75M71.0 253.4h.75M82.0 264.8h.75M79.3 248.4h.75M75.9 235.3h.75M77.9 245.9h.75M79.9 253.9h.75M88.7 262.0h.75M96.8 264.1h.75M83.1 269.6h.75M93.7 258.5h.75M83.1 253.7h.75M70.7 264.0h.75M82.7 254.8h.75M92.2 250.8h.75M93.1 250.8h.75M75.4 266.1h.75M99.6 272.3h.75M76.6 270.4h.75M76.6 238.3h.75M78.2 267.9h.75M93.5 243.6h.75M85.4 252.2h.75M89.3 262.4h.75M65.1 241.3h.75M81.9 242.4h.75M81.4 247.7h.75M87.7 274.5h.75M78.7 267.8h.75M91.5 246.0h.75M77.0 257.4h.75M71.5 257.4h.75M69.6 259.4h.75M92.1 248.1h.75M88.2 271.8h.75M76.3 251.8h.75M90.9 264.9h.75M81.0 237.4h.75M81.4 260.2h.75M71.0 257.5h.75M78.1 270.9h.75M83.2 227.4h.75M83.9 262.0h.75"/>
<path stroke="#111" stroke-opacity="1.0" stroke-width="0.75" fill="none" d="M88.4 300.9h.75M93.6 289.0h.75M90.0 306.4h.75M96.1 315.1h.75M101.9 301.6h.75M112.6 300.8h.75M99.4 306.8h.75M85.4 296.8h.75M100.0 305.5h.75M92.2 298.5h.75M92.2 284.4h.75M95.7 280.4h.75M98.4 304.9h.75M83.5 298.5h.75M82.3 284.6h.75M93.0 292.2h.75M98.5 308.1h.75M102.1 273.1h.75M93.5 282.0h.75M90.0 299.6h.75M89.4 301.0h.75M84.3 279.1h.75M80.7 281.0h.75M82.7 293.8h.75M90.0 307.4h.75M91.8 292.1h.75M81.8 266.4h.75M93.1 303.3h.75M89.2 291.7h.75M88.8 286.9h.75M86.1 279.2h.75M95.2 305.1h.75M91.7 294.9h.75M74.2 296.4h.75M93.5 295.8h.75M92.6 296.8h.75M88.5 301.2h.75M95.3 310.8h.75M84.6 280.3h.75M91.8 291.1h.75M84.4 287.0h.75M98.7 310.5h.75M92.9 288.8h.75M78.5 274.2h.75M86.4 291.7h.75M94.5 283.9h.75M92.5 283.8h.75M91.2 287.0h.75M81.2 277.6h.75M83.1 270.7h.75M95.7 313.4h.75M92.8 290.6h.75M89.3 281.6h.75M86.7 298.8h.75M92.0 306.6h.75M84.6 272.7h.75M82.5 287.0h.75M84.3 295.0h.75M84.2 282.7h.75M81.9 296.9h.75M92.0 278.3h.75M95.0 284.6h.75M96.7 290.6h.75M86.6 296.7h.75M86.1 292.4h.75M91.5 284.4h.75M87.3 287.9h.75M85.2 268.6h.75M92.8 315.4h.75M79.6 287.4h.75M98.9 288.7h.75M82.0 294.9h.75M81.6 298.2h.75M97.0 295.7h.75M82.5 284.5h.75M95.2 273.7h.75M93.0 290.0h.75M91.9 283.1h.75M87.5 285.8h.75M81.6 291.9h.75M83.6 294.6h.75M94.0 306.2h.75M90.0 290.3h.75M79.9 272.9h.75M84.5 298.4h.75M86.9 302.1h.75M87.6 273.8h.75M95.0 298.6h.75M97.3 294.0h.75M87.6 285.9h.75M100.8 293.8h.75M96.5 296.2h.75M101.9 298.4h.75M87.3 304.5h.75M94.8 291.8h.75M98.2 291.8h.75M83.6 318.5h.75M95.2 280.1h.75M93.2 288.9h.75M96.4 288.0h.75M93.5 300.4h.75M100.6 304.1h.75M85.8 277.3h.75M89.8 305.5h.75M93.6 278.8h.75M100.5 320.7h.75M80.9 284.5h.75M100.9 304.1h.75M98.3 289.0h.75M99.1 299.7h.75M84.8 283.7h.75M99.6 293.4h.75M94.5 292.2h.75M97.3 292.9h.75M92.1 300.7h.75M87.4 287.1h.75M85.8 288.3h.75M84.6 277.4h.75M96.7 290.4h.75M85.0 286.5h.75M88.5 301.7h.75M94.4 299.3h.75M88.0 283.9h.75M78.3 296.8h.75M89.0 306.4h.75M88.2 289.6h.75M99.5 279.0h.75M99.8 319.0h.75M85.4 298.0h.75M85.0 299.7h.75M92.5 319.5h.75M91.0 283.1h.75M86.4 295.3h.75M90.4 271.1h.75M82.6 297.4h.75M93.9 296.3h.75M97.4 283.3h.75M71.9 282.5h.75M90.5 290.0h.75M92.2 289.4h.75M96.8 309.4h.75M91.2 289.2h.75M90.3 290.2h.75M92.5 290.0h.75M88.8 274.3h.75M90.7 286.6h.75M98.9 277.0h.75M98.0 293.3h.75M93.1 267.8h.75M84.8 279.5h.75M88.3 294.7h.75M94.2 268.8h.75M81.3 274.7h.75M99.5 302.9h.75M79.7 277.2h.75M105.0 291.8h.75M99.7 295.3h.75M85.5 280.2h.75M84.9 273.3h.75M80.3 308.7h.75M89.7 285.8h.75M99.7 297.6h.75M93.6 283.5h.75M89.9 295.9h.75M102.1 277.4h.75M92.1 276.8h.75M91.8 280.4h.75M87.9 285.0h.75M93.7 285.0h.75M107.6 288.3h.75M94.7 296.7h.75M79.1 286.0h.75M94.1 302.2h.75M102.4 284.6h.75M100.0 299.2h.75M90.0 306.3h.75M96.4 311.1h.75M77.7 270.0h.75M98.3 310.9h.75M82.0 272.5h.75M90.0 307.5h.75M87.2 291.8h.75M86.9 295.8h.75M100.4 281.5h.75M102.4 302.2h.75M90.3 299.5h.75M90.6 285.8h.75M101.0 285.1h.75M90.6 301.4h.75M89.9 303.3h.75M86.8 300.4h.75M100.6 287.7h.75M92.1 292.0h.75M92.7 302.3h.75M89.7 301.1h.75M87.0 304.4h.75M97.5 293.5h.75M84.6 284.2h.75M88.1 295.1h.75M80.7 296.9h.75M82.8 286.1h.75M88.4 296.9h.75M86.2 282.7h.75M81.5 294.8h.75M85.8 285.3h.75M93.9 315.2h.75M75.9 305.0h.75M95.2 294.8h.75M86.8 277.5h.75M79.9 278.4h.75M90.4 299.6h.75M93.6 290.3h.75M91.4 295.3h.75M88.4 274.6h.75M88.3 275.4h.75M95.4 293.2h.75M81.6 289.6h.75M84.6 277.3h.75M92.0 283.1h.75M92.5 300.6h.75M83.1 287.1h.75M90.1 298.3h.75M89.3 310.1h.75M91.6 295.6h.75M80.2 293.3h.75M79.1 285.4h.75M83.6 305.3h.75M87.4 276.0h.75M105.2 279.8h.75M97.3 291.7h.75M96.3 275.7h.75M92.7 302.7h.75M100.2 285.1h.75M94.2 297.8h.75M90.8 288.5h.75M97.6 289.2h.75M82.9 292.1h.75M72.9 270.3h.75M81.1 279.9h.75M99.3 286.7h.75M100.8 316.4h.75M93.6 300.9h.75M90.6 299.9h.75M87.9 280.5h.75M95.0 301.7h.75M87.4 305.6h.75M97.3 300.2h.75M89.2 320.8h.75M97.3 277.1h.75M86.7 280.1h.75M84.3 289.0h.75M87.2 281.2h.75M84.8 292.5h.75M90.9 297.6h.75M78.9 291.8h.75M87.8 293.0h.75M92.1 296.4h.75M94.8 300.4h.75M87.1 284.6h.75M97.6 284.5h.75M81.8 305.0h.75M88.8 288.2h.75M86.1 282.7h.75M91.3 295.0h.75M88.4 288.0h.75M100.2 293.2h.75M90.7 291.2h.75M85.8 298.8h.75M108.9 302.0h.75M89.6 282.8h.75M87.6 278.5h.75M99.5 309.4h.75M85.6 284.3h.75M86.5 274.8h.75M93.1 271.0h.75M82.9 291.5h.75M86.6 284.8h.75M93.7 271.7h.75M101.0 281.4h.75M88.4 280.2h.75M91.9 302.8h.75M98.4 294.4h.75M81.0 291.7h.75M83.9 277.9h.75M85.2 289.9h.75M78.4 299.1h.75M71.9 293.6h.75M90.0 303.5h.75M96.9 292.7h.75M96.4 299.5h.75M100.0 296.9h.75M71.7 285.6h.75M92.2 306.5h.75M100.3 295.8h.75M86.5 300.9h.75M80.3 280.1h.75M91.1 279.9h.75M90.6 289.9h.75M93.6 283.0h.75M91.9 298.6h.75M99.8 296.3h.75M97.6 305.3h.75M93.6 298.3h.75M86.3 279.4h.75M97.2 302.3h.75M85.2 284.7h.75M95.8 283.8h.75M98.5 292.5h.75M97.1 291.7h.75M84.2 303.2h.75M98.8 322.9h.75M94.0 296.5h.75M99.2 307.8h.75M80.1 289.5h.75M87.5 295.5h.75M89.4 286.1h.75M99.3 287.2h.75M89.3 306.6h.75M97.6 296.8h.75M92.6 296.7h.75M102.2 283.0h.75M96.1 310.6h.75M79.8 289.9h.75M87.8 284.7h.75M92.5 291.6h.75M100.5 299.2h.75M96.6 300.1h.75M91.6 308.0h.75M80.5 280.2h.75M90.3 287.1h.75M92.9 309.0h.75M103.8 316.8h.75M95.9 284.9h.75M81.4 290.8h.75M72.7 274.9h.75M86.6 282.8h.75M91.1 282.1h.75M84.2 290.7h.75M85.3 278.8h.75M100.4 302.1h.75M95.7 291.2h.75M78.9 289.1h.75M94.8 302.0h.75M91.5 288.9h.75M87.3 278.2h.75M94.7 292.2h.75M98.7 315.7h.75M107.6 293.0h.75M93.4 297.6h.75M85.7 289.7h.75M87.2 289.5h.75M96.6 297.4h.75M99.0 262.8h.75M92.7 278.2h.75M93.4 285.3h.75M92.2 288.9h.75M90.5 307.8h.75M95.8 318.8h.75M84.0 298.8h.75M96.6 296.2h.75M95.3 299.3h.75M94.8 308.4h.75M83.4 281.1h.75M88.3 286.5h.75M87.4 293.6h.75M93.5 295.1h.75M85.6 271.0h.75M94.1 296.6h.75M94.3 274.4h.75M100.7 300.3h.75M85.6 301.1h.75M84.6 267.0h.75M84.5 297.4h.75M99.6 294.0h.75M84.2 285.1h.75M101.6 302.3h.75M91.2 313.8h.75M98.7 297.3h.75M85.4 279.9h.75M86.9 276.0h.75M89.7 279.0h.75M89.7 280.7h.75M92.0 304.2h.75M95.9 295.0h.75M98.9 291.5h.75M98.2 301.4h.75M87.8 292.0h.75M78.7 292.2h.75M90.2 282.6h.75M70.9 285.0h.75M95.5 292.2h.75M93.0 279.0h.75M85.8 310.0h.75M95.0 293.2h.75M85.6 285.8h.75M101.1 302.5h.75M84.0 280.2h.75M87.3 303.4h.75M86.7 292.8h.75M95.9 312.5h.75M83.1 285.8h.75M105.3 287.5h.75M87.0 282.6h.75M100.4 278.1h.75M89.5 294.6h.75M86.9 280.2h.75M86.8 295.3h.75M84.7 284.8h.75M95.8 303.4h.75M94.4 263.8h.75M92.4 296.4h.75M85.1 292.3h.75M92.4 291.8h.75M84.6 284.9h.75M76.2 311.0h.75M91.1 287.3h.75M80.1 296.5h.75M86.3 288.9h.75M90.7 287.9h.75M88.4 292.8h.75M90.4 299.2h.75M99.3 279.6h.75M96.5 286.6h.75M98.5 276.4h.75M93.1 296.2h.75M90.9 282.4h.75M101.4 283.6h.75M88.0 298.9h.75M93.1 291.7h.75M92.6 296.2h.75M92.6 290.2h.75M95.7 296.3h.75M91.9 292.7h.75M94.3 279.5h.75M85.7 294.1h.75M93.6 288.0h.75M83.6 289.1h.75M98.6 294.8h.75M96.5 285.7h.75M87.6 280.2h.75M89.7 304.7h.75M94.0 312.0h.75M94.0 288.0h.75M82.9 304.4h.75M84.9 296.0h.75M96.0 284.7h.75M88.0 282.6h.75M81.9 288.7h.75M75.4 287.1h.75M87.3 288.1h.75M79.0 290.4h.75M89.7 279.4h.75M91.9 301.3h.75M101.0 279.4h.75M80.6 280.0h.75M96.7 301.9h.75M84.3 300.1h.75M86.6 307.7h.75M89.7 293.3h.75M84.0 284.7h.75M104.9 304.3h.75M90.3 290.7h.75M85.6 290.4h.75M104.6 282.5h.75M86.2 296.2h.75M84.0 265.8h.75M90.3 297.5h.75M82.0 269.8h.75M96.3 301.4h.75M95.8 274.7h.75M83.4 299.2h.75M91.9 318.9h.75M87.7 288.7h.75M79.4 279.0h.75M85.5 313.1h.75M87.4 286.9h.75M82.7 279.5h.75M95.0 305.6h.75M91.0 260.5h.75M89.2 275.5h.75M90.2 277.3h.75M83.3 284.1h.75M83.0 269.5h.75M94.7 300.8h.75M96.2 303.0h.75M89.9 291.2h.75M93.5 287.2h.75M86.2 274.6h.75M83.8 296.9h.75M91.4 284.1h.75M88.9 298.5h.75M81.2 303.0h.75M96.2 292.3h.75M89.3 268.5h.75M93.7 281.5h.75M90.0 306.8h.75M100.9 294.8h.75M96.3 307.4h.75M93.0 267.2h.75M86.1 290.5h.75M88.2 289.8h.75M96.1 273.9h.75M89.3 284.7h.75M92.5 302.5h.75M101.4 297.7h.75M97.2 285.9h.75M92.7 295.4h.75M105.3 304.9h.75M78.9 279.9h.75M90.7 295.0h.75M88.9 303.3h.75M99.0 284.2h.75M103.3 306.1h.75M87.3 290.8h.75M93.6 304.0h.75M98.5 302.0h.75M94.5 294.7h.75M91.9 288.6h.75M96.0 284.6h.75M103.7 293.7h.75M91.9 294.1h.75M86.0 307.3h.75M89.8 290.9h.75M91.1 295.7h.75M91.3 310.4h.75M95.9 295.4h.75M96.3 296.9h.75M99.5 309.5h.75M94.0 292.8h.75M93.1 296.2h.75M85.4 300.1h.75M88.3 290.5h.75M83.1 279.6h.75M90.2 275.7h.75M89.6 289.6h.75M92.5 304.2h.75M95.9 302.8h.75M91.7 309.8h.75M99.3 301.8h.75M96.4 284.7h.75M82.0 275.8h.75M98.3 286.2h.75M88.1 288.9h.75M84.7 283.7h.75M90.3 302.0h.75M81.1 283.1h.75M94.0 298.2h.75M100.0 300.4h.75M77.8 272.7h.75M92.7 287.2h.75M96.8 305.6h.75M96.5 301.1h.75M95.1 293.2h.75M91.6 279.6h.75M86.4 284.1h.75M96.7 292.8h.75M95.2 305.7h.75M96.8 297.2h.75M92.6 290.9h.75M89.5 294.4h.75M91.8 300.4h.75M91.5 272.5h.75M95.7 280.9h.75M78.4 292.2h.75M84.6 305.1h.75M82.1 303.7h.75M85.9 283.2h.75M86.4 292.1h.75M90.7 283.7h.75M88.0 287.5h.75M99.6 293.4h.75M86.1 287.8h.75M85.1 285.7h.75M83.3 279.0h.75M85.9 274.4h.75M91.4 289.7h.75M87.9 293.9h.75M85.8 298.6h.75M80.4 282.8h.75M90.6 283.8h.75M89.4 305.7h.75M85.1 296.4h.75M90.5 301.5h.75M91.8 285.5h.75M102.6 283.9h.75M99.1 279.1h.75M86.7 302.7h.75M85.7 279.3h.75M74.9 272.8h.75M76.6 283.6h.75M81.0 305.7h.75M96.6 292.1h.75M90.1 294.4h.75M81.4 293.1h.75M86.2 291.3h.75M87.1 289.9h.75M83.8 276.4h.75M103.1 310.0h.75M77.9 290.1h.75M89.9 305.1h.75M89.4 274.6h.75M94.7 297.7h.75M74.4 278.8h.75M89.5 277.6h.75M82.9 294.7h.75M88.7 303.1h.75M82.8 306.8h.75M98.0 306.4h.75M110.3 288.8h.75M98.6 300.4h.75M87.6 285.2h.75M78.3 285.8h.75M96.7 294.5h.75M98.2 290.5h.75M85.0 301.1h.75M93.4 271.7h.75M81.1 304.2h.75M81.3 285.4h.75M94.2 308.0h.75M83.7 304.3h.75M93.5 279.2h.75M99.8 291.2h.75M92.3 299.2h.75M92.4 283.1h.75M99.7 283.7h.75M93.5 288.5h.75M100.5 300.0h.75M101.6 301.8h.75M83.2 287.2h.75M106.4 300.9h.75M101.1 308.0h.75M93.4 301.9h.75M94.8 283.8h.75M91.4 282.6h.75M92.8 294.9h.75M85.9 300.8h.75M89.0 296.5h.75M88.0 287.6h.75M96.2 281.7h.75M96.2 305.7h.75M93.3 290.2h.75M93.5 312.3h.75M97.0 279.3h.75M74.5 288.2h.75M83.9 284.8h.75M100.4 312.0h.75M90.4 305.4h.75M94.2 286.5h.75M97.7 270.8h.75M98.2 304.5h.75M81.6 293.3h.75M87.4 279.5h.75M80.8 275.5h.75M94.7 296.3h.75M97.3 289.6h.75M89.6 293.5h.75M94.9 296.2h.75M89.0 287.9h.75M102.9 288.9h.75M93.0 299.1h.75M92.2 290.7h.75M94.1 288.9h.75M98.9 298.9h.75M91.9 270.3h.75M93.0 305.5h.75M92.1 296.8h.75M92.9 283.6h.75M94.5 290.0h.75M90.7 305.4h.75M88.2 298.0h.75M86.3 272.5h.75M92.2 280.9h.75M88.4 293.9h.75M87.2 311.5h.75M90.2 300.3h.75M87.5 289.8h.75M95.9 298.3h.75M87.7 292.1h.75M87.8 288.7h.75M103.8 296.1h.75M90.1 268.6h.75M86.8 303.0h.75M99.7 297.8h.75M87.9 287.2h.75M84.2 282.6h.75M93.0 278.8h.75M82.4 295.0h.75M90.8 293.6h.75M95.0 293.9h.75M98.9 310.7h.75M83.7 268.0h.75M86.5 284.1h.75M89.1 283.6h.75M100.5 302.3h.75M79.0 289.3h.75M94.6 281.7h.75M93.3 294.3h.75M100.6 296.4h.75M86.7 309.6h.75M98.9 294.8h.75M84.6 287.2h.75M92.1 286.5h.75M87.0 283.1h.75M76.1 297.3h.75M92.1 300.9h.75M93.2 289.5h.75M96.4 290.5h.75M89.4 307.0h.75M83.7 293.1h.75M96.5 297.4h.75M86.8 280.2h.75M96.7 285.4h.75M96.4 268.7h.75M87.1 277.1h.75M90.6 296.0h.75M88.6 305.6h.75M77.5 289.1h.75M88.9 279.0h.75M95.9 293.0h.75M99.9 304.5h.75M90.6 290.2h.75M104.6 302.0h.75M87.6 291.3h.75M88.7 278.6h.75M85.9 282.1h.75M87.8 289.2h.75M93.4 316.9h.75M87.7 298.4h.75M87.9 289.4h.75M93.4 295.2h.75M92.2 294.3h.75M83.5 287.2h.75M94.2 290.9h.75M85.4 289.2h.75M95.4 300.1h.75M94.3 309.0h.75M81.1 306.5h.75M83.8 288.5h.75M98.2 298.1h.75M85.6 284.1h.75M84.9 280.1h.75M88.4 292.8h.75M92.9 298.7h.75M94.7 291.3h.75M90.7 301.1h.75M103.5 301.1h.75M88.8 300.3h.75M87.8 290.3h.75M87.5 277.2h.75M95.4 311.7h.75M99.7 286.8h.75M107.6 300.0h.75M89.8 297.3h.75M89.4 288.2h.75M98.5 312.0h.75M91.5 299.4h.75M96.7 291.9h.75M83.5 287.5h.75M94.9 281.5h.75M74.7 278.2h.75M95.5 298.3h.75M94.7 287.2h.75M106.4 287.1h.75M86.1 297.5h.75M95.0 288.2h.75M96.5 299.1h.75M83.8 285.1h.75M91.9 286.4h.75M87.3 302.0h.75M82.3 284.6h.75M82.4 298.7h.75M90.6 297.5h.75M84.3 292.1h.75M74.6 274.0h.75M90.6 277.8h.75M78.0 280.1h.75M93.3 278.0h.75M94.2 301.4h.75M84.1 282.5h.75M78.5 278.5h.75M84.2 286.5h.75M82.1 291.0h.75M85.6 273.9h.75M89.7 298.6h.75M108.5 299.9h.75M76.3 285.5h.75M88.6 300.8h.75M91.9 275.1h.75M96.8 286.0h.75M99.5 290.2h.75M84.7 292.8h.75M98.3 304.5h.75M71.5 288.4h.75M87.7 281.0h.75M97.0 294.3h.75M96.0 293.7h.75M82.6 296.9h.75M85.0 288.4h.75M77.1 293.9h.75M85.1 285.8h.75M82.9 298.1h.75M91.6 284.8h.75M84.9 285.3h.75M97.0 304.6h.75M88.9 283.7h.75M88.8 292.0h.75M103.6 298.1h.75M98.1 288.5h.75M83.9 301.8h.75M99.1 285.7h.75M97.8 303.0h.75M97.0 275.1h.75M91.6 277.3h.75M79.2 292.7h.75M91.0 307.5h.75M77.8 309.4h.75M80.2 282.7h.75M86.3 291.7h.75M98.5 286.7h.75M87.4 268.8h.75M93.7 299.8h.75M95.2 287.9h.75M87.4 306.8h.75M98.8 295.0h.75M91.5 286.2h.75M83.4 284.5h.75M86.8 289.9h.75M90.2 296.9h.75M94.1 286.7h.75M105.4 322.3h.75M89.3 294.2h.75M87.5 279.7h.75M103.0 292.9h.75M114.2 304.4h.75M103.7 296.6h.75M91.6 288.4h.75M87.4 284.8h.75M94.1 283.4h.75M90.9 279.2h.75M84.8 286.4h.75M100.4 294.8h.75M106.8 285.9h.75M88.2 309.6h.75M86.4 296.1h.75M86.8 287.2h.75M82.5 291.6h.75M99.0 307.8h.75M78.4 273.5h.75M95.8 294.5h.75M98.3 321.0h.75M97.7 302.8h.75M79.5 282.2h.75M92.2 293.3h.75M92.4 289.4h.75M101.8 322.1h.75M92.3 284.7h.75M86.6 289.0h.75M98.0 288.4h.75M97.7 276.6h.75M94.1 256.3h.75M85.6 289.4h.75M95.4 297.5h.75M84.1 287.3h.75M90.7 297.3h.75M97.3 300.1h.75M82.6 299.5h.75M106.5 273.6h.75M101.8 308.3h.75M87.4 301.3h.75M88.6 300.7h.75M90.5 292.1h.75M90.0 291.9h.75M81.9 286.1h.75M90.8 296.5h.75M82.3 302.0h.75M85.8 285.8h.75M104.4 300.8h.75M89.7 286.9h.75M89.4 298.4h.75M101.2 290.4h.75M94.6 301.3h.75M98.6 312.9h.75M87.5 294.4h.75M97.4 286.7h.75M88.0 287.4h.75M97.9 298.7h.75M94.4 286.6h.75M104.3 302.6h.75M98.2 295.2h.75M92.5 301.8h.75M82.9 286.0h.75M87.3 281.6h.75M85.0 283.9h.75M101.9 296.3h.75M86.6 283.5h.75M76.8 299.5h.75M89.9 269.7h.75M95.3 284.8h.75M84.5 290.2h.75M92.5 272.2h.75M81.0 285.4h.75M90.0 275.8h.75M89.8 291.2h.75M92.6 289.4h.75M95.1 300.1h.75M85.0 282.9h.75M93.5 274.4h.75M86.6 286.1h.75M92.0 293.4h.75M100.7 293.0h.75M85.1 293.8h.75M93.6 305.2h.75M101.1 288.2h.75M99.1 289.7h.75M84.9 282.9h.75M85.7 285.6h.75M96.5 303.3h.75M87.2 296.0h.75M86.8 263.7h.75M83.9 305.1h.75M91.7 270.5h.75M79.4 287.6h.75M93.6 302.6h.75M95.9 293.5h.75M87.4 298.1h.75M81.9 301.5h.75M82.9 295.3h.75M75.8 278.4h.75M103.7 296.1h.75M76.7 284.5h.75M78.0 265.9h.75M92.7 288.9h.75M92.3 298.0h.75M98.1 293.4h.75M99.9 292.2h.75M97.1 310.9h.75M91.0 295.0h.75M88.8 302.0h.75M90.3 295.6h.75M100.3 309.9h.75M94.5 288.1h.75M97.3 304.9h.75M82.8 311.8h.75M85.1 288.1h.75M88.2 303.5h.75M84.9 277.4h.75M84.4 295.5h.75M96.9 300.1h.75M96.7 283.1h.75M100.1 272.7h.75M87.5 292.7h.75M89.7 288.6h.75M91.9 294.2h.75M91.5 295.3h.75M86.8 301.2h.75M99.2 309.1h.75M78.0 296.9h.75M85.0 275.6h.75M79.3 299.5h.75M95.9 296.4h.75M81.8 293.8h.75M86.0 309.4h.75M91.4 295.1h.75M83.3 288.3h.75M93.5 297.3h.75M85.5 274.9h.75M106.0 302.6h.75M82.8 292.9h.75M88.5 310.6h.75M96.1 299.7h.75M92.5 296.3h.75M94.4 294.3h.75M86.9 279.5h.75M97.3 291.4h.75M93.9 295.5h.75M101.8 303.0h.75M82.6 297.0h.75M94.0 299.8h.75M90.7 299.8h.75M92.8 286.6h.75M85.2 295.6h.75M96.2 290.0h.75M79.7 278.8h.75M94.4 276.0h.75M96.2 301.3h.75M81.3 307.9h.75M96.3 307.8h.75M76.3 283.2h.75M97.6 308.6h.75M82.9 309.3h.75M89.2 284.2h.75M90.1 297.7h.75M83.0 310.9h.75M78.6 293.4h.75M96.6 305.2h.75M86.7 285.7h.75M97.9 288.7h.75M92.3 301.9h.75M109.5 290.6h.75M92.5 293.8h.75M103.3 293.4h.75M91.7 281.3h.75M94.3 308.6h.75M94.5 291.0h.75M85.4 288.9h.75M85.9 287.6h.75M102.5 293.1h.75M88.2 282.3h.75M84.8 301.8h.75M94.0 288.7h.75M86.8 301.0h.75M90.1 282.9h.75M97.1 281.4h.75M98.3 282.4h.75M104.0 294.9h.75M96.8 278.1h.75M97.2 301.5h.75M94.4 288.8h.75M94.8 302.1h.75M90.3 288.3h.75M108.2 301.2h.75M88.9 281.3h.75M100.7 280.5h.75M91.5 298.8h.75M98.6 286.4h.75M73.8 303.8h.75M91.1 284.8h.75M87.9 297.9h.75M100.6 283.5h.75M98.5 273.5h.75M89.6 307.9h.75M90.5 290.1h.75M99.4 302.9h.75M93.8 294.3h.75M89.0 273.7h.75M98.8 296.6h.75M84.4 304.0h.75M104.7 306.3h.75M97.4 310.1h.75M72.5 296.6h.75M85.1 291.2h.75M91.1 293.1h.75M105.0 279.7h.75M92.8 300.3h.75M82.6 300.2h.75M101.5 296.1h.75M92.9 283.9h.75M92.7 299.3h.75M97.8 286.3h.75M91.2 305.8h.75M89.8 285.7h.75M97.6 286.6h.75M94.2 288.8h.75M96.5 281.1h.75M87.6 282.5h.75M102.7 289.2h.75M77.7 265.6h.75M85.9 314.0h.75M95.9 296.3h.75M90.2 295.4h.75M91.6 282.7h.75M92.4 294.3h.75M90.7 292.1h.75M84.8 293.3h.75M91.3 276.1h.75M100.6 290.9h.75M82.8 271.7h.75M104.4 290.0h.75M101.0 282.5h.75M85.0 285.6h.75M96.8 288.6h.75M85.9 301.3h.75M93.2 305.4h.75M84.5 292.5h.75M86.3 280.5h.75M81.9 308.3h.75M88.3 276.9h.75M83.8 286.2h.75M85.4 289.8h.75M77.1 284.1h.75M94.5 306.6h.75M105.5 296.5h.75M91.3 303.9h.75M90.3 288.9h.75M85.7 301.6h.75M88.4 290.5h.75M85.8 290.5h.75M81.8 295.4h.75M86.5 296.4h.75M89.3 298.3h.75M93.6 289.8h.75M86.8 275.8h.75M93.2 288.6h.75M95.8 262.9h.75M97.6 289.0h.75M87.5 283.2h.75M81.2 301.0h.75M85.7 262.5h.75M95.9 313.9h.75M97.9 288.3h.75M89.9 274.7h.75M111.5 296.6h.75M90.4 297.3h.75M97.0 296.7h.75M89.4 315.8h.75M83.4 283.0h.75M90.2 295.2h.75M93.3 293.7h.75M95.2 284.6h.75M70.8 295.2h.75M101.6 305.7h.75M100.3 282.7h.75M101.7 296.9h.75M99.2 303.0h.75M92.0 299.1h.75M92.6 274.6h.75M100.9 295.1h.75M84.3 287.8h.75M98.4 305.4h.75M94.8 290.6h.75M94.2 313.4h.75M101.6 278.6h.75M87.8 297.5h.75M83.4 282.5h.75M94.4 311.4h.75M90.1 309.1h.75M99.0 281.9h.75M81.6 300.2h.75M82.6 291.6h.75M90.8 274.3h.75M94.8 280.6h.75M83.7 293.1h.75M101.3 297.6h.75M77.8 287.9h.75M99.1 295.2h.75M86.0 295.4h.75M88.8 295.1h.75M101.6 279.1h.75M91.3 293.5h.75M88.0 297.8h.75M90.4 275.7h.75M107.1 308.8h.75M94.5 307.9h.75M86.5 293.8h.75M96.6 314.8h.75M81.6 283.3h.75M85.1 281.7h.75M86.5 285.2h.75M94.5 284.2h.75M91.4 312.2h.75M94.8 292.6h.75M99.1 291.4h.75M102.8 296.0h.75M82.8 309.4h.75M91.3 293.9h.75M82.9 287.9h.75M96.2 295.0h.75M95.3 305.8h.75M91.0 289.8h.75M90.3 307.4h.75M85.4 295.4h.75M79.6 290.1h.75M98.8 297.4h.75M93.5 313.6h.75M91.2 289.4h.75M96.0 307.1h.75M97.7 298.2h.75M104.5 293.8h.75M90.2 292.6h.75M97.3 301.0h.75M81.4 298.8h.75M89.4 296.1h.75M87.7 299.2h.75M85.6 282.7h.75M98.1 285.0h.75M90.3 281.2h.75M91.2 288.3h.75M91.5 289.8h.75M89.2 288.0h.75M90.8 297.9h.75M85.3 281.8h.75M87.3 289.4h.75M90.0 301.5h.75M93.1 310.4h.75M78.8 292.6h.75M93.9 305.1h.75M93.5 307.0h.75M92.4 281.0h.75M84.2 294.7h.75M83.2 280.7h.75M96.1 287.8h.75M87.2 296.5h.75M92.3 278.3h.75M87.7 297.8h.75M83.0 290.5h.75M81.1 289.4h.75M88.2 297.9h.75M86.7 283.1h.75M80.1 273.7h.75M101.0 292.4h.75M90.2 284.2h.75M85.0 289.9h.75M99.5 280.1h.75M95.2 281.9h.75M84.4 280.9h.75M82.1 278.1h.75M88.6 283.2h.75M94.8 283.5h.75M81.9 292.3h.75M104.7 326.2h.75M87.6 285.3h.75M94.1 274.8h.75M91.4 298.2h.75M92.4 278.6h.75M94.1 282.3h.75M99.4 288.2h.75M86.6 292.4h.75M104.2 292.7h.75M83.2 294.6h.75M93.3 290.6h.75M97.9 303.9h.75M93.0 301.0h.75M96.4 286.0h.75M80.1 289.6h.75M88.7 277.3h.75M99.3 299.0h.75M91.1 289.7h.75M87.3 312.4h.75M91.3 284.6h.75M95.3 308.3h.75M83.1 282.0h.75M97.3 273.7h.75M86.3 282.6h.75M85.1 295.6h.75M93.9 302.8h.75M85.5 282.4h.75M91.8 302.3h.75M92.1 286.2h.75M87.7 286.3h.75M94.8 288.6h.75M96.3 309.6h.75M99.9 293.8h.75M85.2 295.1h.75M89.2 275.6h.75M93.4 293.6h.75M93.8 294.8h.75M80.2 309.4h.75M82.7 282.5h.75M92.4 284.2h.75M93.6 281.9h.75M90.5 284.8h.75M93.8 299.0h.75M98.2 283.2h.75M91.3 305.5h.75M86.4 292.2h.75M99.9 282.0h.75M94.4 284.8h.75M87.9 277.0h.75M84.1 276.2h.75M104.2 304.2h.75M91.1 301.2h.75M84.3 281.2h.75M99.1 286.9h.75M84.4 309.0h.75M89.1 283.9h.75M96.0 294.1h.75M90.4 297.2h.75M87.6 289.6h.75M94.0 289.7h.75M82.7 288.1h.75M90.2 293.0h.75M93.5 274.9h.75M84.2 292.2h.75M101.0 293.6h.75M87.7 277.4h.75M91.7 296.5h.75M86.6 281.6h.75M90.7 263.4h.75M84.8 270.8h.75M93.1 292.7h.75M100.8 297.7h.75M99.0 287.0h.75M78.7 276.0h.75M100.2 289.9h.75M89.7 301.5h.75M93.4 291.1h.75M89.5 275.8h.75M94.1 296.6h.75M87.0 289.4h.75M95.0 289.7h.75M98.3 292.2h.75M88.5 297.6h.75M91.1 290.4h.75M95.1 281.2h.75M98.4 290.4h.75M93.9 293.0h.75M95.3 304.3h.75M92.5 278.4h.75M88.9 290.1h.75M92.1 282.1h.75M90.0 294.5h.75M88.1 285.7h.75M70.2 258.4h.75M81.0 301.8h.75M92.7 284.4h.75M94.4 279.8h.75M91.7 275.3h.75M90.2 280.0h.75M87.0 277.6h.75M94.9 290.0h.75M88.9 293.1h.75M91.2 290.7h.75M102.0 295.4h.75M80.6 282.6h.75M88.4 298.0h.75M89.5 290.4h.75M79.3 296.3h.75M84.4 298.1h.75M97.8 287.6h.75M96.9 304.9h.75M91.8 300.1h.75M99.3 287.1h.75M87.8 310.5h.75M107.0 309.5h.75M88.1 275.0h.75M83.3 267.4h.75M97.5 284.9h.75M95.6 296.6h.75M94.3 301.6h.75M91.7 298.7h.75M79.1 291.4h.75M79.1 302.0h.75M92.5 299.3h.75M96.9 286.9h.75M86.3 293.6h.75M93.7 303.1h.75M79.6 284.8h.75M80.1 284.9h.75M89.4 282.7h.75M98.5 307.3h.75M97.4 298.9h.75M100.8 300.7h.75M85.2 287.7h.75M90.1 291.4h.75M98.6 304.7h.75M83.9 288.7h.75M91.2 304.4h.75M91.1 291.5h.75M91.0 291.4h.75M98.0 297.6h.75M95.5 300.9h.75M91.3 310.5h.75M75.0 288.0h.75M99.5 309.8h.75M96.5 283.6h.75M93.1 282.5h.75M89.6 267.7h.75M95.6 300.8h.75M101.9 307.6h.75M85.7 278.9h.75M90.2 288.3h.75M84.0 289.0h.75M87.0 275.1h.75M85.8 292.5h.75M86.2 295.0h.75M77.0 286.4h.75M88.7 280.8h.75M98.1 293.2h.75M72.1 298.2h.75M97.2 276.6h.75M90.7 290.7h.75M87.5 297.8h.75M88.2 261.7h.75M90.0 295.2h.75M93.6 310.2h.75M98.3 278.0h.75M94.5 305.8h.75M93.0 288.6h.75M90.3 298.3h.75M89.6 290.1h.75M83.0 279.5h.75M87.2 273.4h.75M90.0 317.4h.75M96.4 277.4h.75M89.0 288.9h.75M98.5 307.1h.75M100.2 295.1h.75M98.2 293.7h.75M82.9 270.2h.75M101.1 285.2h.75M76.0 277.5h.75M97.4 272.6h.75M74.8 295.7h.75M86.4 300.8h.75M89.2 283.6h.75M85.1 284.8h.75M77.6 296.5h.75M82.6 301.3h.75M90.8 280.5h.75M81.6 304.4h.75M96.9 301.9h.75M98.7 291.9h.75M98.1 279.9h.75M93.7 297.9h.75M91.9 299.3h.75M91.4 310.8h.75M108.4 285.4h.75M101.9 308.9h.75M94.6 288.0h.75M94.2 297.5h.75M98.1 290.6h.75M78.3 292.7h.75M99.3 307.7h.75M86.0 284.5h.75M77.0 300.8h.75M97.9 289.0h.75M85.8 291.5h.75M92.7 284.1h.75M86.4 294.0h.75M84.8 270.4h.75M101.3 289.1h.75M95.0 302.8h.75M95.1 300.9h.75M77.6 274.4h.75M95.1 279.8h.75M86.0 287.4h.75M97.5 312.1h.75M83.4 287.3h.75M93.5 291.8h.75M94.3 289.2h.75M81.8 295.2h.75M91.5 282.0h.75M85.5 294.7h.75M100.2 297.0h.75M95.3 303.1h.75M89.8 282.4h.75M113.0 301.6h.75M100.0 312.7h.75M89.9 300.4h.75M98.1 299.3h.75M88.6 265.5h.75M102.5 306.4h.75M87.7 312.6h.75M106.4 305.1h.75M88.5 297.4h.75M90.0 300.9h.75M91.5 324.4h.75M87.8 284.2h.75M103.2 287.6h.75M94.2 303.9h.75M84.3 294.7h.75M86.2 268.5h.75M93.1 294.4h.75M98.1 295.7h.75M87.3 281.8h.75M93.0 296.1h.75M111.2 294.6h.75M87.0 272.4h.75M92.8 297.5h.75M86.9 315.3h.75M100.6 310.9h.75M86.0 279.6h.75M101.1 277.6h.75M99.3 292.6h.75M97.0 295.0h.75M85.3 277.4h.75M87.5 283.9h.75M90.9 306.7h.75M92.1 294.6h.75M90.6 303.2h.75M87.4 291.6h.75M93.6 303.1h.75M90.0 286.2h.75M87.6 286.3h.75M95.5 281.6h.75M94.7 271.0h.75M86.6 287.6h.75M103.1 277.1h.75M92.8 286.8h.75M99.6 293.5h.75M104.0 293.8h.75M82.3 296.2h.75M93.8 287.6h.75M97.1 291.3h.75M101.2 304.5h.75M96.1 290.2h.75M97.9 292.2h.75M76.6 265.2h.75M82.7 279.8h.75M96.9 303.8h.75M75.8 282.4h.75M85.5 280.1h.75M91.6 302.4h.75M91.4 278.5h.75M98.9 302.7h.75M92.5 290.8h.75M84.4 285.0h.75M81.0 269.4h.75M96.2 306.3h.75M91.8 272.0h.75M91.4 278.4h.75M93.4 300.4h.75M89.6 278.2h.75M82.6 297.4h.75M90.8 291.4h.75M95.7 288.8h.75M81.6 280.2h.75M92.8 284.6h.75M96.3 294.8h.75M105.0 281.0h.75M91.8 298.7h.75M89.8 294.4h.75M83.9 297.7h.75M84.2 294.3h.75M81.2 297.9h.75M79.7 295.9h.75M97.3 300.8h.75M91.7 295.9h.75M93.7 295.3h.75M78.7 281.7h.75M74.4 272.9h.75M79.2 292.3h.75M103.7 302.3h.75M97.0 281.6h.75M79.2 274.4h.75M90.8 285.8h.75M92.9 295.7h.75M86.0 301.1h.75M86.2 288.2h.75M95.4 278.9h.75M95.8 291.1h.75M98.4 299.2h.75M93.2 291.2h.75M93.7 302.8h.75M93.6 286.2h.75M91.7 301.3h.75M105.5 309.7h.75M90.9 280.9h.75M93.2 282.2h.75M91.8 298.9h.75M92.3 325.9h.75M91.7 297.3h.75M88.9 291.5h.75M88.1 306.1h.75M96.5 290.5h.75M101.7 274.1h.75M91.4 281.3h.75M92.9 306.5h.75M83.4 273.4h.75M78.8 276.2h.75M96.8 300.7h.75M95.3 293.4h.75M88.0 305.0h.75M89.9 280.2h.75M84.2 283.7h.75M100.2 288.0h.75M89.8 278.2h.75M93.8 289.2h.75M102.4 289.9h.75M77.8 301.2h.75M93.9 290.8h.75M92.3 287.4h.75M90.2 297.2h.75M93.4 303.9h.75M101.5 303.2h.75M87.4 294.8h.75M86.3 287.6h.75M102.1 286.6h.75M95.8 277.4h.75M94.7 292.5h.75M96.7 291.5h.75M94.9 309.8h.75M89.8 294.2h.75M91.7 299.9h.75M95.8 306.1h.75M84.9 271.3h.75M79.5 284.7h.75M89.9 289.2h.75M93.5 293.1h.75M88.5 279.3h.75M97.5 301.2h.75M95.0 301.7h.75M98.8 297.3h.75M93.5 299.2h.75M88.3 279.7h.75M97.3 304.2h.75M96.3 285.1h.75M85.1 271.1h.75M85.9 293.1h.75M101.2 296.4h.75M86.7 284.3h.75M91.0 273.6h.75M86.3 279.2h.75M92.6 290.1h.75M96.2 263.9h.75M104.6 303.0h.75M84.5 302.7h.75M81.5 289.8h.75M70.9 303.4h.75M95.1 290.0h.75M99.8 279.3h.75M94.3 298.7h.75M90.5 297.9h.75M95.3 281.6h.75M82.7 276.3h.75M94.1 281.0h.75M102.5 304.6h.75M99.2 288.4h.75M101.2 322.6h.75M86.9 284.5h.75M90.3 298.4h.75M85.9 295.3h.75M103.4 289.3h.75M101.2 300.9h.75M89.5 282.4h.75M90.9 291.1h.75M90.9 278.9h.75M83.1 267.8h.75M95.0 292.5h.75M92.7 279.2h.75M92.0 277.5h.75M92.8 298.1h.75M74.4 290.0h.75M90.8 296.0h.75M85.1 310.7h.75M80.5 293.7h.75M107.2 296.7h.75M85.9 278.7h.75M91.6 301.0h.75M90.9 301.1h.75M83.8 280.2h.75M103.3 299.0h.75M79.6 295.3h.75M94.1 289.4h.75M87.5 292.7h.75M104.1 318.4h.75M95.8 284.7h.75M91.2 288.1h.75M81.5 292.9h.75M96.2 289.8h.75M94.5 271.7h.75M96.9 298.9h.75M91.0 301.9h.75M98.6 310.8h.75M85.1 285.6h.75M90.7 277.9h.75M94.9 299.0h.75M87.9 280.5h.75M84.6 291.8h.75M89.0 287.4h.75M85.7 293.9h.75M82.5 286.9h.75M99.5 299.5h.75M88.6 281.7h.75M92.1 318.0h.75M89.2 300.4h.75M93.0 284.9h.75M87.3 281.2h.75M86.2 289.7h.75M92.2 286.6h.75M90.7 282.7h.75M87.7 307.2h.75M85.8 302.5h.75M98.0 279.9h.75M90.4 298.0h.75M99.3 292.0h.75M96.6 300.3h.75M89.5 284.6h.75M93.4 315.3h.75M102.2 292.7h.75M90.5 313.8h.75M87.7 286.6h.75M88.1 306.7h.75M90.0 290.7h.75M87.9 310.2h.75M91.7 289.9h.75M80.9 280.1h.75M92.8 280.0h.75M92.3 284.9h.75M93.7 298.5h.75M87.8 296.0h.75M100.0 293.2h.75M106.5 303.6h.75M93.3 309.9h.75M84.2 280.8h.75M97.3 302.9h.75M93.9 317.3h.75M91.0 285.1h.75M94.5 285.7h.75M82.8 296.3h.75M96.5 294.4h.75M83.2 286.0h.75M82.7 291.1h.75M91.5 309.6h.75M102.6 302.0h.75M85.5 283.0h.75M91.2 273.1h.75M82.9 279.8h.75M95.7 293.9h.75M91.9 283.3h.75M97.4 282.7h.75M93.7 299.9h.75M90.7 288.8h.75M77.9 287.7h.75M93.7 294.3h.75M99.1 307.9h.75M93.1 295.3h.75M93.6 299.5h.75M95.1 292.8h.75M99.8 309.0h.75M82.9 278.4h.75M88.7 279.6h.75M93.1 286.4h.75M96.5 314.2h.75M87.5 308.9h.75M75.9 279.9h.75M92.5 286.9h.75M97.0 298.0h.75M102.5 292.7h.75M95.6 301.7h.75M84.4 286.6h.75M91.1 273.8h.75M91.5 298.8h.75M88.9 305.7h.75M78.8 275.1h.75M75.6 271.3h.75M85.7 287.0h.75M85.0 271.4h.75M92.3 296.7h.75M89.2 279.2h.75M94.0 300.1h.75M103.3 288.2h.75M90.9 293.4h.75M101.5 299.3h.75M85.5 289.8h.75M84.5 280.8h.75M89.3 302.1h.75M76.4 275.8h.75M104.8 307.5h.75M91.7 285.3h.75M95.0 286.2h.75M103.4 296.3h.75M94.9 296.6h.75M103.0 297.6h.75M72.6 275.9h.75M98.1 282.3h.75M93.8 295.8h.75M88.1 296.1h.75M98.2 291.0h.75M93.6 306.2h.75M86.1 290.1h.75M79.8 302.4h.75M105.0 303.9h.75M74.2 295.8h.75M91.3 289.9h.75M103.2 300.1h.75M96.3 296.9h.75M88.0 298.8h.75M87.8 282.5h.75M87.8 297.2h.75M95.7 309.5h.75M90.1 288.9h.75M82.7 293.6h.75M80.8 289.4h.75M100.4 301.7h.75M78.8 269.4h.75M86.3 309.6h.75M107.7 297.7h.75M85.0 289.6h.75M82.7 295.1h.75M86.5 304.4h.75M96.9 296.1h.75M87.2 299.4h.75M92.2 305.3h.75M75.7 294.0h.75M88.2 300.2h.75M93.9 308.3h.75M92.3 298.3h.75M99.8 285.3h.75M95.8 300.6h.75M75.1 314.5h.75M79.4 288.6h.75M85.8 297.1h.75M89.7 296.8h.75M92.9 301.8h.75M94.4 287.7h.75M79.5 291.9h.75M79.3 313.6h.75M97.5 299.7h.75M83.0 285.4h.75M76.3 300.8h.75M84.5 292.9h.75M90.6 309.0h.75M79.8 274.6h.75M83.1 293.3h.75M99.5 302.9h.75M81.1 278.3h.75M91.6 284.0h.75M93.1 297.4h.75M88.5 292.6h.75M106.3 288.9h.75M82.2 295.5h.75M105.9 277.0h.75M82.8 283.0h.75M92.1 311.1h.75M91.7 285.1h.75M99.2 297.0h.75M95.5 291.6h.75M90.0 301.6h.75M89.1 295.8h.75M99.6 296.6h.75M103.4 304.9h.75M87.8 295.7h.75M96.2 273.7h.75M93.6 285.0h.75M95.2 307.7h.75M85.3 303.8h.75M81.9 289.7h.75M91.0 274.9h.75M70.8 284.4h.75M91.2 314.9h.75M95.9 305.3h.75M81.8 305.5h.75M99.1 274.6h.75M99.8 277.4h.75M82.7 285.8h.75M87.8 277.4h.75M90.3 293.4h.75M85.3 280.3h.75M88.5 297.4h.75M93.8 289.8h.75M101.3 286.1h.75M92.7 299.3h.75M92.5 297.1h.75M92.1 293.6h.75M85.6 288.2h.75M95.1 291.6h.75M84.2 271.2h.75M80.8 270.9h.75M94.2 284.8h.75M78.5 293.7h.75M90.7 311.3h.75M89.0 296.5h.75M88.3 281.4h.75M79.7 286.9h.75M82.3 278.4h.75M89.9 291.7h.75M94.9 291.2h.75M90.1 291.7h.75M90.1 295.1h.75M87.2 303.4h.75M92.3 299.6h.75M70.0 279.6h.75M96.9 301.3h.75M95.7 281.1h.75M91.5 296.3h.75M84.6 293.2h.75M103.0 310.4h.75M86.2 291.1h.75M99.9 291.1h.75M88.7 289.2h.75M87.4 301.5h.75M90.1 295.5h.75M85.9 289.3h.75M91.4 301.2h.75M98.1 315.0h.75M92.1 309.8h.75M90.6 308.5h.75M89.9 286.4h.75M93.5 291.2h.75M91.3 294.0h.75M91.7 273.8h.75M98.0 310.9h.75M90.4 276.6h.75M96.6 296.6h.75M88.9 278.8h.75M98.9 293.6h.75M95.2 301.2h.75M97.6 297.9h.75M88.2 282.9h.75M80.3 285.2h.75M89.7 302.3h.75M91.2 291.6h.75M93.7 293.5h.75M92.5 302.4h.75M96.5 265.0h.75M82.8 295.0h.75M81.4 305.9h.75M93.0 311.6h.75M87.7 299.7h.75M90.0 284.3h.75M97.2 302.7h.75M112.6 312.6h.75M81.1 285.4h.75M82.6 284.5h.75M90.4 290.7h.75M80.4 287.8h.75M82.3 270.2h.75M95.5 266.7h.75M88.3 278.1h.75"/>
<path stroke="#111" stroke-opacity="1.0" stroke-width="0.75" fill="none" d="M51.6 269.9h.75M68.4 269.3h.75M26.7 271.9h.75M53.8 273.7h.75M51.3 284.0h.75M56.0 264.6h.75M37.3 313.3h.75M45.7 268.1h.75M50.5 268.3h.75M62.8 299.5h.75M41.3 269.4h.75M61.1 288.0h.75M58.3 271.7h.75M63.4 308.7h.75M38.6 296.6h.75M47.7 265.2h.75M52.0 269.8h.75M56.3 282.6h.75M69.7 284.8h.75M54.8 309.3h.75M48.7 322.6h.75M49.1 289.6h.75M56.0 289.4h.75M63.5 274.3h.75M55.8 281.7h.75M44.0 267.5h.75M47.1 293.2h.75M40.4 265.6h.75M39.3 271.8h.75M44.9 270.1h.75M43.6 271.1h.75M34.6 281.0h.75M53.0 310.3h.75M34.9 293.7h.75M63.6 304.2h.75M56.4 310.3h.75M70.5 277.8h.75M60.0 298.3h.75M37.1 291.2h.75M52.6 297.2h.75M42.8 270.0h.75M44.4 271.8h.75M37.1 274.6h.75M47.5 288.3h.75M53.4 267.1h.75M55.1 269.1h.75M88.2 301.8h.75M49.6 266.5h.75M53.3 286.5h.75M50.7 277.9h.75M48.3 267.4h.75M47.6 282.2h.75M52.8 297.8h.75M49.2 303.3h.75M62.7 264.4h.75M58.2 278.1h.75M39.2 270.7h.75M52.1 283.7h.75M56.5 265.6h.75M48.1 316.5h.75M48.7 268.7h.75M50.7 267.2h.75M60.9 314.6h.75M54.6 271.4h.75M44.2 285.2h.75M51.3 269.2h.75M69.9 292.3h.75M38.2 297.1h.75M61.5 277.1h.75M48.5 271.3h.75M105.6 317.6h.75M61.1 288.6h.75M52.8 270.4h.75M50.5 267.2h.75M30.1 289.5h.75M44.7 297.0h.75M81.0 275.5h.75M57.2 267.4h.75M47.9 283.4h.75M52.7 307.9h.75M38.4 318.4h.75M53.6 282.5h.75M59.4 329.5h.75M30.8 266.1h.75M48.6 270.5h.75M27.8 292.0h.75M64.1 278.4h.75M78.8 268.0h.75M33.5 319.6h.75M50.8 265.8h.75M47.3 295.9h.75M67.4 313.0h.75M56.7 268.9h.75M53.3 290.7h.75M60.7 276.5h.75M45.6 322.2h.75M66.0 265.9h.75M47.2 279.3h.75M67.9 277.2h.75M54.7 302.9h.75M55.4 271.7h.75M35.8 313.5h.75M30.0 287.5h.75M29.6 327.9h.75M59.1 283.1h.75M71.6 280.1h.75M47.4 290.7h.75M32.9 278.6h.75M57.0 270.9h.75M34.3 279.7h.75M52.6 268.6h.75M48.3 326.8h.75M69.2 286.1h.75M64.9 269.3h.75M65.5 283.5h.75M45.5 265.3h.75M69.9 264.3h.75M51.1 277.4h.75M53.7 317.2h.75M58.4 273.6h.75M56.0 297.7h.75M33.0 314.0h.75M61.3 281.6h.75M29.4 300.2h.75M58.8 291.1h.75M51.1 309.4h.75M53.1 278.1h.75M36.5 306.8h.75M66.3 307.1h.75M49.9 287.9h.75M64.2 265.4h.75M41.6 288.7h.75M41.8 268.0h.75M53.0 265.1h.75M66.7 264.3h.75M33.2 271.3h.75M43.8 287.3h.75M44.9 279.8h.75M48.2 283.8h.75M45.5 265.5h.75M67.4 313.2h.75M62.2 296.3h.75M52.4 278.8h.75M64.1 304.4h.75M66.7 271.4h.75M43.3 264.9h.75M41.7 279.2h.75M61.9 282.9h.75M82.3 264.6h.75M43.2 266.0h.75M63.2 288.3h.75M40.6 289.8h.75M64.5 287.6h.75M55.3 265.1h.75M34.2 273.2h.75M45.5 264.3h.75M57.4 298.2h.75M39.3 300.1h.75M60.5 284.9h.75M56.5 269.9h.75M47.7 267.7h.75M57.6 270.7h.75M46.9 279.3h.75M55.2 321.3h.75M37.8 265.0h.75M72.2 342.9h.75M48.3 266.4h.75M68.6 266.9h.75M82.7 268.4h.75M74.6 325.0h.75M51.8 265.5h.75M54.3 298.7h.75M51.5 294.1h.75M56.5 291.8h.75M40.3 290.4h.75M56.7 286.9h.75M74.0 267.4h.75M77.9 300.4h.75M32.5 306.0h.75M38.8 265.5h.75M63.2 288.9h.75M68.9 271.7h.75M53.9 285.1h.75M52.9 281.7h.75M84.8 273.4h.75M42.1 303.1h.75M60.2 304.7h.75M57.0 308.2h.75M39.3 304.2h.75M64.3 302.8h.75M73.0 276.2h.75M51.4 294.2h.75M54.2 292.7h.75M61.5 269.3h.75M66.1 272.5h.75M64.5 285.9h.75M39.4 296.0h.75M38.7 274.6h.75M44.2 289.3h.75M33.1 273.4h.75M49.3 297.2h.75M42.5 288.6h.75M40.0 283.1h.75M64.7 281.8h.75M56.9 319.5h.75M63.9 314.9h.75M49.7 318.2h.75M46.1 272.2h.75M39.7 289.1h.75M55.6 281.1h.75M39.6 267.6h.75M60.5 304.2h.75M64.2 285.7h.75M51.2 265.3h.75M35.6 310.2h.75M60.2 298.7h.75M41.5 288.9h.75M50.3 275.4h.75M38.2 272.8h.75M78.1 265.7h.75M73.4 318.8h.75M40.0 303.1h.75M35.3 267.8h.75M61.0 272.2h.75M70.0 268.1h.75M51.2 275.3h.75M34.3 268.1h.75M56.3 268.0h.75M55.8 268.8h.75M29.3 280.0h.75M48.3 266.9h.75M47.8 311.7h.75M38.0 264.2h.75M55.2 319.1h.75M67.1 272.5h.75M66.5 274.9h.75M39.3 264.2h.75M43.6 268.7h.75M61.9 280.5h.75M47.3 269.7h.75M47.0 269.7h.75M83.6 280.3h.75M42.7 281.1h.75M40.0 298.7h.75M51.3 268.6h.75M76.5 275.8h.75M50.0 290.9h.75M47.9 271.0h.75M54.3 290.5h.75M47.7 277.4h.75M57.4 281.2h.75M88.4 306.8h.75M42.2 304.3h.75M49.1 285.2h.75M51.0 295.2h.75M60.7 271.4h.75M51.1 278.9h.75M48.1 266.1h.75M54.4 264.4h.75M39.2 324.4h.75M67.6 301.3h.75M43.5 271.3h.75M30.6 293.8h.75M63.5 331.0h.75M50.0 280.0h.75M54.0 305.4h.75M28.9 266.2h.75M32.2 313.0h.75M37.5 278.9h.75M49.8 265.4h.75M50.0 329.3h.75M71.8 268.0h.75M74.0 284.3h.75M53.9 271.8h.75M50.6 322.5h.75M79.2 276.7h.75M52.8 283.7h.75M66.5 293.5h.75M45.0 268.7h.75M50.5 276.0h.75M48.0 284.6h.75M42.1 280.0h.75M57.4 269.8h.75M40.2 306.6h.75M50.4 280.6h.75M57.9 308.2h.75M82.2 316.2h.75M53.1 309.1h.75M61.4 286.7h.75M47.0 276.9h.75M64.5 302.0h.75M59.6 274.6h.75M59.0 270.6h.75M46.0 303.1h.75M48.9 316.3h.75M48.7 277.1h.75M37.8 269.2h.75M54.6 278.9h.75M36.9 309.7h.75M38.7 282.2h.75M32.1 276.9h.75M67.8 268.9h.75M43.9 310.7h.75M39.3 289.4h.75M46.0 277.4h.75M56.8 272.9h.75M49.4 299.0h.75M57.1 323.2h.75M54.7 289.7h.75M73.0 281.9h.75M66.3 270.6h.75M31.1 277.3h.75M64.7 284.1h.75M48.7 267.2h.75M53.6 280.6h.75M70.3 307.6h.75M66.2 270.0h.75M66.0 302.3h.75M80.7 272.5h.75M67.6 284.0h.75M43.4 283.2h.75M33.7 267.1h.75M64.0 278.5h.75M27.5 269.7h.75M47.0 300.9h.75M46.8 306.9h.75M41.9 296.2h.75M71.3 283.0h.75M56.6 270.8h.75M48.8 279.1h.75M64.8 270.8h.75M46.1 277.5h.75M69.1 307.8h.75M81.2 296.1h.75M50.1 312.7h.75M49.6 314.0h.75M68.4 289.4h.75M34.1 291.3h.75M37.3 273.4h.75M28.9 284.6h.75M51.9 292.3h.75M56.2 271.4h.75M51.6 303.0h.75M51.6 294.1h.75M65.0 290.2h.75M67.3 288.7h.75M69.7 268.0h.75M49.9 306.3h.75M52.2 318.3h.75M73.0 270.5h.75M57.8 283.9h.75M45.2 285.8h.75M51.3 319.9h.75M42.8 301.4h.75M51.7 281.9h.75M45.6 272.2h.75M80.0 271.0h.75M30.8 308.6h.75M64.3 280.3h.75M36.4 319.1h.75M56.2 284.5h.75M41.0 277.9h.75M53.0 279.2h.75M53.0 336.7h.75M40.5 280.7h.75M34.5 264.2h.75M41.8 285.6h.75M52.2 277.2h.75M63.5 288.5h.75M74.9 283.4h.75M27.4 282.8h.75M58.5 270.0h.75M45.2 264.3h.75M52.1 294.5h.75M56.5 288.8h.75M63.2 265.3h.75M57.7 289.9h.75M51.6 266.0h.75M74.2 274.4h.75M55.9 285.8h.75M51.9 265.5h.75M68.2 313.3h.75M35.6 296.8h.75M38.5 271.5h.75M72.6 278.0h.75M49.1 317.6h.75M26.5 267.3h.75M63.3 317.1h.75M69.1 270.5h.75M40.9 269.5h.75M33.3 309.4h.75M51.1 285.9h.75M57.0 290.6h.75M43.4 317.0h.75M38.8 269.5h.75M59.3 302.8h.75M59.4 277.1h.75M29.3 302.0h.75M35.9 297.4h.75M42.9 273.5h.75M54.8 289.9h.75M59.1 295.3h.75M78.2 264.5h.75M56.9 285.8h.75M64.9 284.9h.75M29.6 282.8h.75M41.9 266.0h.75M66.8 290.5h.75M31.1 275.4h.75M70.8 272.1h.75M59.5 276.3h.75M53.7 282.2h.75M50.0 272.0h.75M35.2 334.6h.75M36.4 281.3h.75M44.2 303.6h.75M45.6 281.7h.75M69.2 337.9h.75M37.2 268.6h.75M42.8 280.3h.75M27.0 286.9h.75M54.0 267.3h.75M51.7 289.3h.75M67.2 284.6h.75M78.9 285.3h.75M39.5 268.1h.75M54.9 312.3h.75M55.7 302.3h.75M50.9 297.0h.75M36.3 312.5h.75M56.6 291.5h.75M34.5 268.6h.75M50.5 311.5h.75M47.4 271.1h.75M60.3 275.9h.75M81.9 273.7h.75M46.5 276.4h.75M42.9 285.3h.75M64.9 285.0h.75M33.1 280.6h.75M52.0 306.9h.75M55.1 272.7h.75M43.7 309.0h.75M50.6 276.1h.75M39.7 277.9h.75M43.5 273.0h.75M61.1 266.0h.75M39.3 270.2h.75M43.6 310.3h.75M41.8 274.1h.75M58.9 264.9h.75M46.4 268.2h.75M39.6 285.0h.75M56.4 323.7h.75M55.8 264.8h.75M78.1 277.9h.75M44.7 321.1h.75M56.5 284.3h.75M32.0 290.2h.75M53.4 266.6h.75M54.5 279.3h.75M59.8 273.5h.75M41.1 269.8h.75M79.1 285.2h.75M38.1 307.5h.75M73.2 295.8h.75M36.4 267.8h.75M62.9 276.6h.75M70.7 284.3h.75M82.5 267.4h.75M50.1 309.1h.75M28.3 271.0h.75M63.7 302.6h.75M41.7 322.5h.75M36.5 307.1h.75M43.4 316.0h.75M38.8 266.2h.75M62.6 268.6h.75M61.5 270.0h.75M64.0 270.0h.75M46.3 266.9h.75M61.8 273.4h.75M69.0 322.5h.75M78.2 276.8h.75M54.2 292.3h.75M48.1 299.2h.75M38.6 266.2h.75M46.2 271.4h.75M55.4 339.6h.75M32.7 273.1h.75M46.1 264.4h.75M43.4 308.6h.75M43.2 273.0h.75M56.8 272.8h.75M38.0 273.5h.75M58.5 270.5h.75M36.6 268.9h.75M54.9 315.9h.75M36.1 282.6h.75M68.6 288.1h.75M62.4 297.0h.75M70.9 276.6h.75M39.9 291.5h.75M33.1 271.4h.75M33.1 278.2h.75M48.7 285.5h.75M61.9 276.9h.75M61.4 271.4h.75M34.3 275.9h.75M67.3 286.9h.75M62.3 318.6h.75M44.1 296.6h.75M40.5 264.4h.75M50.0 269.9h.75M74.3 272.6h.75M54.9 273.8h.75M50.9 265.9h.75M74.5 274.4h.75M74.0 314.0h.75M57.2 296.3h.75M69.7 297.7h.75M41.6 335.7h.75M57.6 270.1h.75M38.1 279.7h.75M59.0 322.3h.75M67.6 292.7h.75M78.6 287.5h.75M63.0 290.7h.75M68.1 271.6h.75M49.4 272.4h.75M30.5 310.3h.75M42.9 329.3h.75M57.6 281.0h.75M43.5 273.4h.75M79.3 287.0h.75M69.4 338.9h.75M49.1 269.3h.75M76.7 288.2h.75M61.3 285.0h.75M75.5 271.5h.75M49.4 270.5h.75M63.2 269.6h.75M48.7 292.7h.75M52.2 314.1h.75M68.5 268.2h.75M79.4 295.8h.75M53.8 285.3h.75M56.3 267.1h.75M39.4 305.5h.75M49.0 277.3h.75M59.2 264.8h.75M34.2 273.4h.75M45.9 289.3h.75M36.1 295.5h.75M54.9 283.1h.75M64.8 296.8h.75M56.9 273.9h.75M48.1 264.4h.75M37.6 317.6h.75M29.0 272.2h.75M52.3 265.0h.75M73.8 265.6h.75M51.1 264.8h.75M45.7 270.3h.75M35.9 265.2h.75M62.2 300.9h.75M31.0 281.7h.75M34.3 287.1h.75M71.3 298.0h.75M39.5 294.1h.75M37.3 273.7h.75M56.7 265.6h.75M40.8 314.1h.75M43.5 264.6h.75M36.2 292.1h.75M79.3 265.5h.75M89.3 272.6h.75M55.3 272.0h.75M61.7 274.1h.75M60.3 294.7h.75M50.8 308.3h.75M47.0 272.1h.75M63.4 264.2h.75M34.5 270.9h.75M40.1 287.8h.75M62.2 278.6h.75M32.0 265.8h.75M75.4 266.1h.75M48.2 282.7h.75M54.8 271.2h.75M71.2 279.8h.75M51.5 291.9h.75M54.0 290.2h.75M43.7 292.0h.75M59.5 277.0h.75M62.1 334.7h.75M39.5 265.6h.75M61.6 297.1h.75M66.1 293.8h.75M58.9 276.7h.75M41.3 273.7h.75M65.6 269.0h.75M71.8 294.1h.75M45.1 314.3h.75M42.0 279.1h.75M52.4 313.5h.75M70.9 286.0h.75M69.3 268.4h.75M62.0 306.0h.75M42.9 304.2h.75M63.1 264.8h.75M52.0 290.3h.75M37.4 272.7h.75M66.6 274.2h.75M28.7 298.0h.75M70.2 295.0h.75M84.6 297.4h.75M52.6 266.2h.75M40.0 267.5h.75M42.9 307.4h.75M42.4 312.3h.75M57.6 268.6h.75M66.6 274.4h.75M41.2 267.9h.75M47.3 275.5h.75M42.8 306.6h.75M68.7 269.6h.75M66.2 273.5h.75M39.9 339.5h.75M47.7 275.8h.75M54.5 291.2h.75M44.4 273.5h.75M54.1 309.3h.75M55.2 275.2h.75M52.8 312.2h.75M44.1 264.6h.75M67.1 281.7h.75M38.6 335.5h.75M48.5 279.3h.75M67.9 284.8h.75M40.8 269.8h.75M60.8 274.5h.75M61.0 301.4h.75M68.5 276.8h.75M75.4 315.7h.75M30.2 297.4h.75M51.1 284.4h.75M36.5 268.3h.75M66.2 311.4h.75M71.8 287.9h.75M47.8 285.5h.75M55.6 270.2h.75M71.0 288.7h.75M55.1 307.6h.75M50.2 266.9h.75M28.4 267.7h.75M41.9 268.8h.75M66.5 274.1h.75M31.0 304.3h.75M56.3 272.9h.75M55.3 272.0h.75M51.9 275.8h.75M63.6 275.0h.75M41.3 306.0h.75M72.1 284.3h.75M45.8 271.2h.75M66.8 272.3h.75M43.7 272.4h.75M55.9 295.7h.75M47.3 265.8h.75M76.4 274.7h.75M37.1 311.7h.75M43.0 314.1h.75M73.2 266.8h.75M63.8 267.2h.75M51.6 268.5h.75M48.4 268.3h.75M33.5 280.7h.75M48.2 265.9h.75M57.3 285.3h.75M69.5 285.7h.75M65.6 303.1h.75M73.1 269.4h.75M57.7 303.1h.75M41.8 272.8h.75M47.1 267.7h.75M74.3 268.8h.75M53.7 294.3h.75M72.5 294.8h.75M29.2 267.0h.75M45.0 273.1h.75M40.6 264.4h.75M55.9 268.8h.75M40.7 330.0h.75M32.9 275.4h.75M51.0 270.6h.75M43.6 292.7h.75M58.3 266.5h.75M35.5 275.1h.75M51.4 293.4h.75M39.3 266.8h.75M47.1 296.5h.75M55.6 276.9h.75M58.9 274.1h.75M58.4 268.2h.75M41.2 264.7h.75M74.3 275.1h.75M56.9 304.7h.75M42.7 339.8h.75M71.6 315.3h.75M46.4 274.7h.75M80.7 264.2h.75M64.5 272.1h.75M50.6 284.0h.75M45.2 284.9h.75M40.1 285.7h.75M40.8 284.7h.75M48.2 268.5h.75M71.9 274.9h.75M54.9 319.0h.75M51.1 303.1h.75M58.5 292.0h.75M47.7 277.1h.75M34.0 274.5h.75M30.6 268.7h.75M48.2 329.4h.75M75.8 280.6h.75M80.1 309.0h.75M56.5 264.7h.75M63.7 296.0h.75M47.1 264.5h.75M50.5 297.6h.75M53.6 272.2h.75M52.3 267.4h.75M74.5 291.5h.75M51.0 265.1h.75M65.6 266.9h.75M54.2 295.3h.75M61.6 273.9h.75M79.4 299.8h.75M29.7 264.3h.75M69.6 267.0h.75M43.3 274.6h.75M55.4 274.1h.75M47.4 286.3h.75M45.5 285.4h.75M32.4 276.1h.75M84.0 268.8h.75M65.3 316.3h.75M48.9 266.6h.75M62.4 299.0h.75M75.8 267.8h.75M58.9 264.6h.75M27.1 265.5h.75M44.7 265.8h.75M51.4 289.5h.75M68.9 337.9h.75M42.9 314.8h.75M69.2 317.7h.75M61.9 293.2h.75M45.9 276.8h.75M65.3 298.3h.75M31.3 292.5h.75M33.3 295.0h.75M31.1 326.5h.75M38.2 264.4h.75M36.0 285.1h.75M68.6 278.4h.75M62.9 268.0h.75M53.3 271.6h.75M43.6 265.8h.75M51.5 280.9h.75M32.3 270.3h.75M58.1 272.0h.75M38.1 286.1h.75M44.5 278.2h.75M57.2 286.3h.75M39.0 297.2h.75M67.4 301.6h.75M32.8 274.7h.75M34.5 310.1h.75M41.1 276.1h.75M49.9 265.4h.75M44.5 264.1h.75M73.1 268.7h.75M69.9 310.6h.75M65.3 343.1h.75M50.8 341.0h.75M55.3 322.9h.75M43.6 303.1h.75M26.8 278.3h.75M57.4 267.0h.75M68.2 291.0h.75M56.5 308.0h.75M51.6 280.0h.75M65.1 269.0h.75M68.9 273.2h.75M45.6 269.1h.75M59.4 274.9h.75M65.4 318.8h.75M40.2 289.9h.75M55.6 269.7h.75M62.9 292.2h.75M89.1 265.4h.75M63.8 303.9h.75M49.0 268.8h.75M34.4 272.2h.75M28.1 322.4h.75M102.6 333.9h.75M47.0 264.9h.75M62.6 270.8h.75M42.0 269.4h.75M47.1 297.0h.75M61.9 273.9h.75M37.7 341.2h.75M50.8 268.1h.75M48.9 265.1h.75M59.3 268.4h.75M65.0 283.6h.75M49.3 327.3h.75M73.2 304.9h.75M44.7 311.7h.75M46.1 281.9h.75M53.3 264.4h.75M63.8 278.7h.75M73.4 280.6h.75M64.5 299.4h.75M41.4 282.4h.75M57.9 311.8h.75M47.3 289.4h.75M74.6 309.3h.75M61.9 303.2h.75M84.6 270.1h.75M44.5 265.0h.75M69.6 279.7h.75M53.7 270.2h.75M56.9 270.5h.75M56.0 269.5h.75M63.8 271.0h.75M72.3 264.3h.75M53.0 271.6h.75M57.9 271.3h.75M50.6 278.4h.75M56.5 274.5h.75M39.8 266.1h.75M67.4 337.2h.75M62.9 269.6h.75M57.1 305.4h.75M52.0 289.4h.75M42.0 280.1h.75M37.8 300.6h.75M35.2 275.8h.75M40.1 278.5h.75M66.2 274.3h.75M58.7 273.4h.75M30.5 277.0h.75M37.4 274.8h.75M72.7 277.4h.75M77.7 295.0h.75M65.2 270.6h.75M84.6 297.0h.75M41.9 267.3h.75M59.1 288.2h.75M42.7 326.2h.75M86.3 300.8h.75M59.1 292.3h.75M59.0 295.0h.75M58.3 268.7h.75M42.2 270.7h.75M51.8 265.7h.75M45.9 268.8h.75M37.4 309.1h.75M64.8 271.0h.75M73.2 272.5h.75M57.0 305.6h.75M37.2 287.3h.75M36.1 277.1h.75M64.2 284.4h.75M48.8 278.8h.75M48.9 303.3h.75M36.5 264.4h.75M56.7 265.8h.75M56.1 265.5h.75M65.3 273.8h.75M38.7 290.6h.75M52.5 290.5h.75M31.4 285.6h.75M56.5 320.5h.75M53.2 293.6h.75M47.4 276.7h.75M66.8 268.7h.75M33.7 274.5h.75M76.9 291.1h.75M59.4 280.9h.75M57.4 297.7h.75M42.5 269.0h.75M44.6 320.7h.75M67.8 291.4h.75M53.0 269.8h.75M58.1 322.0h.75M47.9 266.7h.75M66.1 267.6h.75M63.2 291.2h.75M33.5 270.8h.75M83.1 286.7h.75M69.2 282.4h.75M65.9 264.8h.75M52.5 265.7h.75M66.4 319.8h.75M92.7 303.2h.75M51.9 266.2h.75M36.6 268.4h.75M52.8 300.4h.75M54.4 305.9h.75M67.9 275.5h.75M34.6 274.2h.75M46.6 297.6h.75M48.4 264.5h.75M68.1 276.1h.75M70.1 277.9h.75M56.3 273.2h.75M69.5 271.9h.75M54.8 268.6h.75M54.7 290.0h.75M39.5 270.8h.75M36.0 306.1h.75M59.9 272.9h.75M54.2 275.1h.75M36.6 269.8h.75M53.6 310.3h.75M51.0 287.2h.75M58.8 279.6h.75M44.4 265.6h.75M41.9 286.6h.75M71.3 270.8h.75M48.8 266.9h.75M68.2 281.3h.75M39.3 269.9h.75M49.3 278.2h.75M47.8 276.2h.75M37.9 271.6h.75M63.5 270.0h.75M32.2 284.0h.75M56.2 289.0h.75M63.1 265.1h.75M53.2 309.3h.75M69.7 294.8h.75M83.1 312.8h.75M42.2 280.7h.75M52.7 280.2h.75M33.1 289.2h.75M45.6 289.3h.75M53.4 301.0h.75M53.1 267.0h.75M64.4 291.1h.75M60.0 279.5h.75M67.3 286.0h.75M42.2 279.6h.75M54.7 266.6h.75M36.8 293.0h.75M49.9 278.9h.75M50.8 281.6h.75M53.2 276.1h.75M45.4 287.5h.75M46.3 272.4h.75M26.6 264.0h.75M42.5 314.6h.75M43.3 298.4h.75M55.6 330.0h.75M59.2 303.5h.75M45.6 284.8h.75M50.2 339.0h.75M57.6 289.4h.75M38.9 277.8h.75M82.9 267.7h.75M58.0 280.2h.75M45.0 322.0h.75M55.6 274.8h.75M69.8 309.2h.75M71.4 317.7h.75M32.1 303.0h.75M41.3 270.1h.75M45.6 266.6h.75M56.3 293.3h.75M60.3 301.1h.75M48.1 271.5h.75M39.5 281.7h.75M49.3 269.2h.75M36.8 287.2h.75M78.4 329.0h.75M28.9 283.5h.75M61.2 284.4h.75M53.9 264.6h.75M52.4 297.8h.75M36.6 275.2h.75M44.9 301.9h.75M47.1 277.6h.75M44.1 302.1h.75M48.5 276.6h.75M53.8 303.8h.75M45.5 267.6h.75M58.7 296.0h.75M63.1 296.7h.75M44.1 267.8h.75M63.1 279.5h.75M53.0 275.2h.75M43.7 291.3h.75M59.1 330.7h.75M68.7 299.5h.75M47.3 296.6h.75M63.7 269.2h.75M66.9 282.1h.75M35.4 281.3h.75M50.0 283.2h.75M58.9 303.2h.75M63.6 319.8h.75M62.8 275.6h.75M64.1 279.0h.75M74.3 275.3h.75M36.2 265.9h.75M66.1 319.9h.75M85.9 265.5h.75M46.3 275.8h.75M62.4 264.9h.75M41.0 273.7h.75M56.5 274.8h.75M54.3 281.4h.75M40.9 265.2h.75M55.4 276.3h.75M65.5 279.0h.75M66.8 291.6h.75M58.0 267.8h.75M33.2 295.4h.75M47.1 269.3h.75M35.7 275.6h.75M54.1 281.1h.75M59.8 311.1h.75M51.2 271.7h.75M51.4 276.3h.75M32.3 315.3h.75M34.3 267.8h.75M42.6 290.9h.75M84.2 264.8h.75M66.6 313.6h.75M36.1 283.2h.75M41.4 268.4h.75M43.2 313.8h.75M42.6 266.9h.75M43.6 292.7h.75M68.9 266.9h.75M61.6 269.4h.75M61.0 313.0h.75M52.9 283.9h.75M58.3 268.9h.75M45.9 277.7h.75M53.2 278.3h.75M51.7 306.2h.75M31.5 274.5h.75M68.4 281.2h.75M35.9 273.7h.75M48.2 265.5h.75M40.8 299.2h.75M76.6 307.4h.75M28.8 273.8h.75M67.1 270.2h.75M65.1 266.7h.75M43.8 283.6h.75M52.1 286.7h.75M50.1 285.7h.75M26.9 286.6h.75M56.5 296.1h.75M50.7 287.4h.75M58.4 287.7h.75M30.1 280.2h.75M39.8 267.0h.75M36.6 316.1h.75M53.0 324.0h.75M43.2 279.4h.75M36.0 304.4h.75M71.9 299.4h.75M43.1 279.8h.75M67.6 298.2h.75M63.7 275.6h.75M40.3 264.2h.75M54.2 295.2h.75M61.4 297.4h.75M68.8 269.2h.75M57.0 267.1h.75M57.7 264.0h.75M41.6 278.0h.75M40.2 271.8h.75M99.7 276.5h.75M68.4 267.1h.75M31.1 289.9h.75M55.8 268.7h.75M58.1 299.2h.75M46.9 327.6h.75M59.7 330.5h.75M76.3 268.6h.75M75.7 291.1h.75M45.9 266.2h.75M46.4 288.4h.75M44.3 311.7h.75M54.7 279.7h.75M64.3 271.3h.75M35.6 313.8h.75M48.6 307.7h.75M42.4 276.2h.75M39.6 274.9h.75M43.6 292.3h.75M79.0 271.4h.75M77.7 266.1h.75M73.5 272.3h.75M56.0 270.9h.75M87.6 272.2h.75M57.7 296.7h.75M40.6 287.9h.75M60.4 292.6h.75M47.5 273.1h.75M45.3 281.4h.75M55.2 270.5h.75M58.6 338.4h.75M48.8 291.4h.75M51.1 265.3h.75M35.9 309.2h.75M50.7 269.8h.75M62.2 278.8h.75M52.8 265.8h.75M48.7 336.3h.75M29.5 288.0h.75M68.5 274.1h.75M33.8 288.1h.75M61.7 265.7h.75M45.9 268.8h.75M63.6 267.7h.75M67.2 269.1h.75M46.6 296.5h.75M36.6 268.2h.75M37.4 282.4h.75M55.8 274.1h.75M49.4 270.5h.75M71.9 290.2h.75M48.6 317.3h.75M64.5 304.1h.75M57.1 268.1h.75M66.1 294.8h.75M78.2 293.9h.75M46.3 279.0h.75M63.1 293.1h.75M59.3 322.6h.75M47.5 283.9h.75M45.8 283.1h.75M66.6 297.4h.75M41.8 269.9h.75M43.4 289.8h.75M64.4 265.6h.75M65.6 269.0h.75M75.2 296.6h.75M42.7 296.7h.75M31.4 266.1h.75M68.1 265.2h.75M28.3 340.0h.75M45.4 269.1h.75M48.3 264.3h.75M77.6 306.0h.75M52.0 284.9h.75M33.3 307.5h.75M51.2 336.2h.75M71.7 280.5h.75M31.7 316.3h.75M67.1 279.7h.75M53.5 281.1h.75M36.3 274.5h.75M48.5 272.1h.75M52.7 280.2h.75M34.2 266.7h.75M43.0 303.7h.75M73.6 326.7h.75M56.5 264.7h.75M68.5 296.3h.75M51.1 268.5h.75M43.2 310.2h.75M56.3 265.1h.75M37.8 272.4h.75M57.2 265.4h.75M47.0 318.1h.75M47.2 277.9h.75M47.6 335.0h.75M37.3 267.3h.75M72.3 299.6h.75M28.8 326.2h.75M55.0 283.7h.75M32.5 292.5h.75M65.3 287.9h.75M48.3 267.8h.75M54.4 301.4h.75M58.7 276.5h.75M57.1 299.2h.75M57.2 278.2h.75M56.9 317.1h.75M44.7 307.2h.75M47.2 277.2h.75M48.0 269.8h.75M40.8 283.4h.75M43.5 267.3h.75M71.5 294.0h.75M30.0 285.9h.75M77.1 338.3h.75M43.7 280.4h.75M61.0 266.1h.75M51.7 280.9h.75M48.9 281.4h.75M60.1 337.9h.75M77.3 293.4h.75M49.9 274.6h.75M43.6 324.4h.75M82.2 264.2h.75M69.3 288.4h.75M68.6 277.9h.75M52.2 273.7h.75M58.9 269.2h.75M42.3 278.7h.75M66.2 285.3h.75M42.9 270.0h.75M41.4 324.9h.75M62.5 275.0h.75M57.9 322.3h.75M44.4 285.5h.75M57.1 298.0h.75M27.5 289.4h.75M37.7 271.0h.75M54.6 302.0h.75M64.9 271.7h.75M51.2 265.3h.75M33.2 285.0h.75M44.3 267.8h.75M68.4 265.6h.75M42.7 303.5h.75M55.4 264.6h.75M58.1 297.2h.75M43.4 265.9h.75M52.0 274.6h.75M43.0 266.6h.75M52.1 297.9h.75M61.1 271.8h.75M71.1 267.6h.75M44.5 267.0h.75M58.7 276.1h.75M49.7 280.1h.75M39.8 289.2h.75M39.9 266.0h.75M50.7 280.9h.75M51.7 328.9h.75M40.3 266.0h.75M92.7 269.9h.75M51.2 273.9h.75M61.5 277.1h.75M47.6 327.6h.75M93.4 280.1h.75M46.2 297.9h.75M54.3 266.8h.75M69.4 279.4h.75M50.7 273.4h.75M36.7 265.3h.75M75.1 266.9h.75M61.5 283.3h.75M47.7 295.3h.75M47.7 322.9h.75M53.9 271.2h.75M53.5 283.3h.75M42.4 291.7h.75M56.4 288.4h.75M35.7 330.3h.75M71.7 291.3h.75M62.8 271.1h.75M38.0 275.9h.75M35.7 302.0h.75M56.6 321.3h.75M38.0 324.4h.75M39.8 290.0h.75M59.2 276.1h.75M50.7 293.5h.75M50.6 307.7h.75M49.6 284.0h.75M46.6 295.0h.75M77.5 309.6h.75M66.0 278.0h.75M46.5 300.2h.75M79.6 334.2h.75M58.5 279.2h.75M56.0 280.4h.75M44.1 267.8h.75M53.2 295.8h.75M54.7 296.1h.75M70.9 286.8h.75M37.3 277.5h.75M27.1 274.3h.75M43.9 288.3h.75M56.9 286.2h.75M48.4 264.1h.75M39.3 331.0h.75M34.6 310.4h.75M53.4 337.1h.75M68.7 279.5h.75M31.1 277.4h.75M54.7 320.5h.75M48.8 278.1h.75M61.0 273.6h.75M51.4 293.3h.75M41.9 323.9h.75M64.6 278.3h.75M57.7 278.1h.75M36.0 284.0h.75M40.7 284.0h.75M54.3 289.7h.75M62.8 266.5h.75M42.7 273.2h.75M45.5 278.5h.75M44.4 326.5h.75M52.9 264.4h.75M42.4 274.2h.75M49.6 267.9h.75M36.6 309.6h.75M37.7 307.8h.75M55.2 264.5h.75M28.0 310.2h.75M51.4 279.7h.75M68.8 269.9h.75M42.6 268.0h.75M43.7 308.2h.75M38.7 322.4h.75M31.7 304.9h.75M42.4 311.3h.75M32.1 297.1h.75M47.6 298.3h.75M42.8 274.6h.75M34.1 287.5h.75M51.4 267.8h.75M65.7 264.3h.75M62.6 276.4h.75M46.7 274.3h.75M50.4 341.1h.75M35.2 289.8h.75M47.1 267.6h.75M60.5 310.2h.75M62.0 269.0h.75M70.7 270.7h.75M28.2 276.8h.75M73.9 307.7h.75M56.3 287.8h.75M73.7 274.5h.75M50.7 332.4h.75M68.9 271.2h.75M50.2 319.0h.75M34.9 276.0h.75M55.3 314.7h.75M43.1 311.5h.75M50.0 278.2h.75M58.3 287.4h.75M62.1 270.4h.75M60.2 286.6h.75M64.9 280.1h.75M27.5 338.7h.75M67.8 270.3h.75M38.2 280.0h.75M51.9 296.4h.75M44.5 286.6h.75M33.4 291.2h.75M63.7 275.3h.75M35.4 287.9h.75M42.3 304.2h.75M72.2 304.1h.75M64.7 282.3h.75M44.4 300.3h.75M62.2 303.7h.75M50.4 276.8h.75M43.4 276.8h.75M60.9 303.4h.75M40.1 290.2h.75M42.4 267.5h.75M54.0 267.9h.75M34.2 311.0h.75M29.2 276.3h.75M64.5 276.7h.75M79.2 280.3h.75M68.2 287.8h.75M41.1 281.7h.75M42.9 318.5h.75M35.8 266.3h.75"/>
<path stroke="#111" stroke-opacity="1.0" stroke-width="0.75" fill="none" d="M87.2 322.6h.75M78.4 301.7h.75M86.3 307.2h.75M88.8 333.3h.75M87.2 314.2h.75M92.6 337.7h.75M91.5 305.6h.75M85.4 333.2h.75M86.6 302.3h.75M97.8 300.6h.75M76.6 307.9h.75M93.1 308.9h.75M89.0 307.7h.75M82.3 300.6h.75M86.3 313.5h.75M90.0 303.1h.75M78.1 340.7h.75M87.4 305.2h.75M89.8 300.2h.75M87.2 309.8h.75M94.7 301.7h.75M87.6 343.4h.75M81.3 312.5h.75M77.0 302.2h.75M76.0 301.9h.75M92.3 300.4h.75M85.3 316.2h.75M85.9 306.7h.75M85.2 304.0h.75M82.1 320.3h.75M96.8 303.5h.75M90.6 323.7h.75M95.2 301.6h.75M79.3 307.4h.75M90.0 302.4h.75M90.3 301.8h.75M79.7 314.1h.75M81.3 324.7h.75M81.6 314.2h.75M92.5 302.8h.75M87.8 323.3h.75M82.2 307.9h.75M90.6 319.1h.75M82.5 326.1h.75M87.2 311.8h.75M86.0 311.6h.75M81.4 310.8h.75M92.1 301.1h.75M86.8 300.7h.75M72.9 317.7h.75M85.3 303.4h.75M95.3 312.8h.75M73.2 322.7h.75M91.8 310.5h.75M87.8 309.8h.75M79.2 326.9h.75M86.3 304.8h.75M79.7 317.7h.75M77.4 306.1h.75M88.7 306.8h.75M88.1 315.4h.75M75.8 333.2h.75M83.3 323.1h.75M86.6 311.9h.75M77.1 325.2h.75M92.8 327.9h.75M82.1 319.8h.75M88.8 301.0h.75M90.2 334.9h.75M80.9 319.9h.75M88.5 311.1h.75M87.1 337.5h.75M88.8 304.5h.75M92.2 313.1h.75M90.6 314.4h.75M95.5 302.1h.75M92.7 301.6h.75M78.4 320.0h.75M83.1 321.7h.75M89.0 322.3h.75M92.3 331.8h.75M82.3 311.3h.75M86.5 312.0h.75M88.3 322.2h.75M85.8 324.9h.75M80.6 312.0h.75M89.4 300.3h.75M81.8 314.1h.75M89.0 310.1h.75M81.0 310.9h.75M84.8 315.9h.75M91.9 318.2h.75M80.8 304.2h.75M86.9 309.6h.75M90.2 328.0h.75M85.8 312.7h.75M84.8 311.2h.75M86.5 320.7h.75M81.2 301.4h.75M90.9 309.3h.75M90.7 317.7h.75M96.6 302.3h.75M88.1 312.5h.75M92.8 307.7h.75M89.3 310.1h.75M81.0 305.2h.75M87.9 303.4h.75M84.6 308.7h.75M92.1 305.9h.75M85.4 320.0h.75M84.7 300.8h.75M90.3 317.2h.75M82.2 302.3h.75M83.9 306.3h.75M93.8 307.8h.75M82.8 341.7h.75M84.2 303.0h.75M93.1 308.6h.75M74.1 308.2h.75M88.8 301.9h.75M88.4 317.1h.75M88.0 300.2h.75M76.0 319.7h.75M78.1 321.8h.75M81.6 336.4h.75M81.4 335.2h.75M90.3 309.8h.75M83.8 321.5h.75M94.7 305.8h.75M86.3 323.6h.75M82.5 327.4h.75M82.9 300.2h.75M89.0 300.3h.75M91.6 311.2h.75M82.6 339.4h.75M94.0 300.2h.75M85.0 301.7h.75M79.2 304.0h.75M84.4 310.5h.75M90.2 322.7h.75M86.0 317.5h.75M83.1 305.5h.75M90.2 306.0h.75M92.0 310.0h.75M84.1 302.4h.75M90.9 319.0h.75M83.9 302.4h.75M81.8 301.9h.75M94.0 305.3h.75M83.1 310.4h.75M83.6 303.3h.75M90.9 306.0h.75M80.7 317.1h.75M80.9 317.0h.75M84.9 323.8h.75M87.0 336.7h.75M91.9 310.4h.75M85.3 332.7h.75M82.6 300.5h.75M78.9 313.6h.75M84.6 315.2h.75M83.7 307.8h.75M92.9 314.0h.75M77.0 329.8h.75M76.0 303.5h.75M75.5 303.1h.75M85.0 302.0h.75M88.9 312.2h.75M95.8 322.1h.75M76.9 334.6h.75M87.3 300.9h.75M82.8 309.5h.75M95.8 310.0h.75M88.4 334.5h.75M95.3 312.1h.75M86.2 322.8h.75M92.6 300.2h.75M88.5 330.9h.75M82.6 302.9h.75M91.9 304.1h.75M84.6 327.0h.75M85.7 305.0h.75M79.2 310.1h.75M89.4 313.2h.75M95.4 331.8h.75M88.1 307.5h.75M89.6 310.5h.75M79.1 340.5h.75M81.7 310.5h.75M82.9 309.9h.75M97.8 301.3h.75M83.9 303.9h.75M88.0 302.4h.75M75.6 306.5h.75M83.4 304.7h.75M87.1 304.5h.75M85.5 319.7h.75M84.6 309.3h.75M88.9 307.1h.75M89.2 308.2h.75M79.2 317.9h.75M78.5 300.3h.75M89.6 303.4h.75M91.1 312.6h.75M78.3 310.2h.75M90.3 307.0h.75M78.1 316.7h.75M85.3 314.4h.75M93.8 304.6h.75M76.7 306.6h.75M86.3 312.5h.75M85.0 309.3h.75M79.6 330.0h.75M90.8 335.2h.75M80.7 303.0h.75M82.3 312.1h.75M79.8 318.9h.75M88.8 307.6h.75M89.5 326.1h.75M94.3 322.5h.75M84.8 332.4h.75M81.3 300.4h.75M82.6 308.9h.75M90.2 307.5h.75M95.8 316.5h.75M90.9 324.6h.75M80.0 333.9h.75M81.6 317.2h.75M91.1 307.9h.75M81.6 327.4h.75M90.7 321.6h.75M87.5 330.4h.75M87.1 303.2h.75M86.0 305.3h.75M81.7 306.7h.75M94.3 331.7h.75M86.9 326.9h.75M95.1 307.0h.75M80.8 328.2h.75M94.4 309.8h.75M79.2 303.1h.75M86.8 300.6h.75M83.9 306.4h.75M85.2 313.8h.75M84.1 316.0h.75M79.6 309.3h.75M79.0 307.6h.75M87.3 322.8h.75M81.8 306.9h.75M96.2 308.0h.75M86.5 300.6h.75M94.3 320.3h.75M83.2 301.2h.75M90.8 306.7h.75M82.5 313.5h.75M80.4 313.4h.75M84.6 310.9h.75M84.8 304.4h.75M101.4 311.1h.75M78.1 301.5h.75M82.1 310.7h.75M90.2 318.4h.75M85.0 305.8h.75M86.8 319.7h.75M90.6 336.1h.75M85.1 302.4h.75M81.7 305.8h.75M77.9 304.4h.75M89.2 326.4h.75M87.2 303.6h.75M92.9 300.9h.75M83.5 309.8h.75M87.6 331.3h.75M81.0 307.3h.75M74.5 304.9h.75M89.4 305.7h.75M83.1 318.8h.75M89.7 312.3h.75M82.2 306.1h.75M76.7 325.1h.75M84.1 302.9h.75M81.8 303.0h.75M84.2 318.3h.75M89.2 325.8h.75M85.8 310.7h.75M88.7 306.5h.75"/>
<path stroke="#111" stroke-opacity="1.0" stroke-width="0.75" fill="none" d="M95.8 268.6h.75M105.1 246.2h.75M113.7 260.5h.75M98.3 245.4h.75M102.1 260.6h.75M113.0 262.4h.75M106.0 325.7h.75M105.7 245.6h.75M96.8 282.2h.75M97.3 258.2h.75M113.6 276.1h.75M104.6 260.9h.75M94.3 250.8h.75M94.9 299.2h.75M113.1 292.5h.75M99.1 230.4h.75M96.8 265.1h.75M98.3 260.5h.75M110.8 233.7h.75M98.7 271.9h.75M94.9 279.2h.75M115.6 269.3h.75M109.3 278.2h.75M101.1 306.6h.75M105.6 258.4h.75M94.6 295.4h.75M101.4 315.6h.75M104.4 263.4h.75M94.9 297.7h.75M101.0 275.7h.75M107.7 255.1h.75M95.4 299.3h.75M126.6 287.6h.75M99.1 233.5h.75M100.0 286.2h.75M113.0 264.5h.75M116.3 272.8h.75M105.2 242.9h.75M98.5 280.2h.75M103.6 272.0h.75M103.5 248.0h.75M98.9 261.1h.75M104.4 299.3h.75M125.9 301.7h.75M104.3 236.1h.75M95.8 279.4h.75M95.5 262.0h.75M101.6 257.4h.75M95.3 273.9h.75M94.2 301.5h.75M98.4 280.5h.75M115.8 247.7h.75M97.2 269.7h.75M112.4 278.3h.75M95.2 292.7h.75M106.5 267.1h.75M110.2 271.6h.75M95.8 273.7h.75M96.4 282.7h.75M94.7 227.8h.75M100.0 298.8h.75M94.1 275.6h.75M102.4 268.9h.75M106.8 245.0h.75M96.2 274.4h.75M102.9 311.6h.75M101.6 255.8h.75M109.2 233.3h.75M103.5 278.2h.75M102.6 269.3h.75M105.9 267.6h.75M94.3 235.6h.75M102.2 277.8h.75M113.0 282.6h.75M104.0 272.2h.75M100.3 285.3h.75M95.4 249.1h.75M105.1 222.3h.75M107.2 270.7h.75M95.1 315.3h.75M98.0 276.6h.75M101.0 317.7h.75M95.2 276.1h.75M119.6 263.9h.75M106.3 251.8h.75M110.4 299.5h.75M99.1 239.7h.75M105.7 255.4h.75M105.5 259.6h.75M121.5 275.2h.75M112.0 269.8h.75M114.0 236.4h.75M110.4 243.1h.75M96.4 306.1h.75M105.4 270.7h.75M94.1 268.8h.75M95.6 261.2h.75M111.2 274.9h.75M99.7 252.4h.75M94.1 293.1h.75M114.8 287.4h.75M106.2 268.6h.75M94.3 288.8h.75M99.8 265.2h.75M99.5 259.6h.75M111.8 290.3h.75M100.2 266.7h.75M102.0 251.1h.75M110.7 303.5h.75M103.5 264.8h.75M108.8 278.7h.75M95.4 301.8h.75M104.3 241.1h.75M114.5 262.1h.75M115.0 290.0h.75M97.5 262.4h.75M107.9 259.1h.75M106.8 265.7h.75M94.2 262.3h.75M122.0 262.0h.75M95.0 277.7h.75M101.8 270.8h.75M94.9 306.4h.75M94.8 276.0h.75M98.9 305.4h.75M97.0 271.9h.75M110.2 306.9h.75M102.3 266.1h.75M110.5 295.6h.75M108.5 272.6h.75M103.4 304.3h.75M98.3 252.0h.75M98.2 258.9h.75M101.6 277.6h.75M94.7 248.1h.75M116.7 301.0h.75M98.8 265.2h.75M98.7 280.6h.75M116.7 291.4h.75M98.3 282.3h.75M97.8 253.1h.75M121.7 240.2h.75M103.1 232.7h.75M109.8 249.4h.75M102.5 252.7h.75M101.5 251.8h.75M103.3 279.0h.75M104.4 239.5h.75M122.5 233.7h.75M107.9 272.9h.75M123.2 307.9h.75M96.8 248.9h.75M111.9 266.4h.75M96.7 267.8h.75M108.2 292.6h.75M95.2 287.7h.75M108.6 259.3h.75M99.7 288.9h.75M102.6 270.4h.75M104.7 286.5h.75M102.7 308.4h.75M94.3 221.3h.75M95.1 238.0h.75M109.5 239.4h.75M106.6 241.8h.75M107.0 271.1h.75M106.1 271.5h.75M99.5 306.6h.75M106.8 299.6h.75M97.7 275.1h.75M105.5 265.9h.75M96.9 283.3h.75M122.5 278.0h.75M105.8 258.5h.75M109.8 283.8h.75M114.2 257.7h.75M96.6 266.7h.75M107.3 265.3h.75M117.4 255.7h.75M98.1 254.6h.75M107.3 270.0h.75M110.1 265.9h.75M102.7 241.8h.75M100.3 304.7h.75M99.7 305.5h.75M101.0 304.2h.75M104.3 294.0h.75M126.5 266.4h.75M111.6 248.0h.75M121.2 246.4h.75M100.3 230.8h.75M97.1 261.4h.75M106.0 231.1h.75M98.0 270.8h.75M98.1 274.2h.75M104.9 256.7h.75M95.8 256.6h.75M103.9 267.0h.75M98.2 280.6h.75M94.2 261.0h.75M96.1 305.0h.75M102.8 249.0h.75M94.2 254.9h.75M95.4 257.8h.75M102.9 263.9h.75M95.0 272.9h.75M106.0 280.0h.75M107.6 261.1h.75M121.3 302.4h.75M111.7 228.0h.75M107.1 273.9h.75M99.8 269.0h.75M100.0 238.6h.75M111.2 237.2h.75M95.3 270.3h.75M101.8 292.7h.75M99.9 276.5h.75M102.7 266.1h.75M100.8 261.0h.75M98.4 257.2h.75M96.8 259.2h.75M110.9 281.5h.75M122.3 290.8h.75M101.1 279.4h.75M110.1 252.9h.75M108.1 280.0h.75M95.8 289.8h.75M112.6 228.3h.75M106.4 274.4h.75M98.6 256.0h.75M118.8 270.1h.75M109.7 240.3h.75M118.8 244.8h.75M107.8 265.1h.75M99.8 255.7h.75M94.2 256.9h.75M95.3 248.6h.75M110.1 276.8h.75M97.3 290.4h.75M107.0 246.9h.75M104.1 273.0h.75M94.3 257.9h.75M107.8 272.9h.75M98.2 291.2h.75M94.8 272.9h.75M132.8 264.8h.75M119.0 244.9h.75M108.3 291.4h.75M106.6 302.5h.75M99.0 226.4h.75M96.6 279.8h.75M96.5 263.6h.75M123.2 240.1h.75M100.2 304.3h.75M107.5 278.6h.75M94.5 312.0h.75M99.2 250.5h.75M99.9 257.4h.75M106.1 235.3h.75M98.3 268.8h.75M108.6 231.3h.75M107.3 260.5h.75M102.0 291.8h.75M94.5 278.7h.75M101.6 287.9h.75M113.8 270.1h.75M94.8 283.6h.75M108.6 264.7h.75M103.4 240.3h.75M100.1 277.5h.75M100.3 265.9h.75M129.8 250.3h.75M110.4 243.6h.75M119.6 293.1h.75M101.8 232.1h.75M96.9 249.4h.75M96.9 274.9h.75M100.2 280.2h.75M105.9 272.3h.75M129.8 234.9h.75M110.8 290.4h.75M102.0 264.8h.75M96.6 235.8h.75M105.9 290.3h.75M98.7 265.1h.75M100.7 228.0h.75M104.1 210.5h.75M96.3 263.7h.75M116.0 253.7h.75M106.2 273.0h.75M107.8 270.4h.75M105.5 250.5h.75M96.6 276.3h.75M101.5 272.0h.75M107.2 244.5h.75M106.8 283.9h.75M102.5 271.4h.75M94.6 263.2h.75M97.1 274.6h.75M94.2 249.9h.75M100.3 250.2h.75M94.7 264.9h.75M97.3 247.0h.75M102.0 299.6h.75M108.1 272.5h.75M95.4 282.7h.75M108.0 305.6h.75M100.0 298.2h.75M100.8 312.2h.75M112.2 249.1h.75M97.8 302.7h.75M98.7 258.7h.75M97.4 263.1h.75M96.1 272.1h.75M99.1 269.4h.75M96.5 267.3h.75M123.0 274.4h.75M95.1 300.4h.75M101.2 220.9h.75M103.4 236.6h.75M110.0 240.0h.75M98.5 274.2h.75M110.9 270.2h.75M105.1 276.2h.75M99.9 308.4h.75M102.8 268.6h.75M110.5 237.5h.75M103.1 277.2h.75M116.3 306.8h.75M107.4 310.3h.75M109.0 266.6h.75M96.2 271.3h.75M116.0 275.1h.75M99.8 280.8h.75M106.8 265.0h.75M102.5 257.9h.75M94.5 301.3h.75M96.4 300.9h.75M100.7 268.5h.75M100.5 255.5h.75M97.6 254.7h.75M126.5 243.5h.75M127.3 241.7h.75M96.0 262.2h.75M112.9 252.6h.75M95.1 274.0h.75M97.5 257.0h.75M97.1 248.3h.75M115.3 259.7h.75M94.8 214.5h.75M102.2 275.8h.75M94.7 262.8h.75M113.7 297.3h.75M94.6 258.4h.75M109.5 264.7h.75M104.6 248.5h.75M102.2 312.5h.75M100.9 273.8h.75M100.9 294.1h.75M101.1 260.8h.75M101.8 280.5h.75M102.9 247.7h.75M101.3 254.7h.75M98.4 261.4h.75M118.3 248.8h.75M105.9 283.4h.75M101.6 285.8h.75M111.5 293.2h.75M108.7 248.3h.75M94.1 255.4h.75M98.6 266.8h.75M109.0 281.7h.75M118.4 240.8h.75M101.7 262.0h.75M96.5 289.7h.75M112.0 269.8h.75M95.0 265.3h.75M95.1 243.5h.75M94.4 260.5h.75M94.4 282.4h.75M96.0 289.3h.75M101.3 231.7h.75M103.1 276.0h.75M98.8 259.6h.75M102.1 247.4h.75M109.1 306.7h.75M95.8 281.6h.75M97.4 244.2h.75M109.9 245.5h.75M101.3 271.0h.75M103.6 235.6h.75M95.5 262.8h.75M99.2 277.8h.75M100.4 238.9h.75M95.9 270.8h.75M109.2 276.3h.75M105.2 253.0h.75M98.4 275.0h.75"/>
<path stroke="#111" stroke-opacity="1.0" stroke-width="0.75" fill="none" d="M78.3 228.8h.75M75.1 229.3h.75M60.2 241.5h.75M80.9 233.7h.75M64.8 240.8h.75M72.1 231.3h.75M70.1 233.2h.75M69.2 229.9h.75M42.0 245.4h.75M83.4 248.5h.75M75.8 233.3h.75M71.0 242.0h.75M77.6 221.3h.75M63.6 222.8h.75M67.3 240.6h.75M76.1 218.7h.75M40.0 258.7h.75M59.2 243.0h.75M61.2 249.4h.75M65.1 233.3h.75M61.9 222.1h.75M58.7 226.3h.75M72.5 226.4h.75M79.8 241.6h.75M75.3 224.9h.75M83.1 226.9h.75M76.1 248.0h.75M89.2 223.3h.75M90.7 228.5h.75M63.0 246.3h.75M58.2 256.4h.75M61.2 219.5h.75M79.1 227.9h.75M76.3 236.0h.75M72.1 233.8h.75M60.2 229.2h.75M63.6 222.7h.75M66.5 241.7h.75M72.2 229.6h.75M28.4 228.3h.75M72.6 234.5h.75M75.9 247.1h.75M59.4 235.8h.75M88.6 257.3h.75M79.7 231.3h.75M78.7 239.7h.75M47.7 215.0h.75M80.0 228.4h.75M71.3 234.0h.75M71.9 227.9h.75M38.1 227.2h.75M48.2 229.2h.75M65.1 225.5h.75M51.0 229.4h.75M87.0 234.9h.75M54.0 237.6h.75M79.3 224.6h.75M74.2 232.4h.75M107.7 227.0h.75M70.0 242.4h.75M89.5 249.8h.75M63.3 236.0h.75M53.8 238.0h.75M74.1 231.9h.75M86.7 238.7h.75M62.0 232.4h.75M83.5 222.9h.75M77.3 245.5h.75M69.6 254.5h.75M72.2 240.0h.75M71.3 234.3h.75M61.2 238.6h.75M71.4 249.4h.75M75.2 230.2h.75M59.4 241.0h.75M33.9 236.0h.75M78.2 214.8h.75M60.2 231.2h.75M77.1 239.5h.75M57.8 237.6h.75M74.7 233.4h.75M66.3 223.2h.75M65.1 236.7h.75M68.8 236.0h.75M74.3 239.3h.75M45.5 250.6h.75M86.4 234.8h.75M83.3 244.3h.75M73.9 238.9h.75M47.2 259.4h.75M81.0 239.1h.75M69.5 258.3h.75M91.9 225.5h.75M63.2 223.6h.75M66.9 238.9h.75M82.9 233.3h.75M40.2 246.4h.75M64.1 241.9h.75M67.1 242.1h.75M37.9 227.6h.75M56.6 234.4h.75M72.7 242.4h.75M74.1 229.6h.75M92.1 234.9h.75M82.5 245.7h.75M51.2 234.4h.75M80.3 236.9h.75M74.8 245.8h.75M71.0 238.9h.75M53.9 221.6h.75M95.0 235.9h.75M93.6 235.1h.75M73.7 237.9h.75M58.4 255.5h.75M54.0 245.2h.75M54.2 236.2h.75M81.7 228.9h.75M46.3 242.5h.75M85.2 236.6h.75M67.2 246.7h.75M74.4 237.8h.75M80.0 243.9h.75M102.4 227.6h.75M79.7 233.3h.75M67.3 235.4h.75M74.8 227.4h.75M71.5 238.4h.75M70.1 231.5h.75M71.1 231.6h.75M56.0 228.6h.75M74.0 234.0h.75M51.1 220.1h.75M85.2 242.9h.75M64.5 238.5h.75M53.7 240.0h.75M78.7 246.1h.75M79.0 237.3h.75M71.2 232.1h.75M49.0 246.8h.75M51.9 231.3h.75M77.1 236.2h.75M100.6 215.3h.75M73.2 229.8h.75M73.8 234.5h.75M77.8 240.6h.75M57.9 239.4h.75M85.0 243.4h.75M61.2 229.6h.75M70.3 229.6h.75M58.6 236.5h.75M53.2 227.4h.75M59.2 231.0h.75M57.0 235.1h.75M64.3 216.6h.75M90.9 220.2h.75M73.8 238.2h.75M62.1 228.0h.75M75.4 241.2h.75M62.0 230.0h.75M85.3 225.1h.75M80.7 239.9h.75M64.9 232.0h.75M69.2 237.6h.75M70.9 228.3h.75M56.0 227.1h.75M54.1 231.3h.75M68.0 227.2h.75M57.5 232.6h.75M69.5 225.1h.75M81.5 237.3h.75M66.9 241.2h.75M77.9 238.4h.75M94.0 222.8h.75M64.0 245.2h.75M89.6 218.5h.75M58.6 236.1h.75M54.3 235.1h.75M72.4 241.0h.75M67.8 228.1h.75M49.9 229.6h.75M87.7 244.6h.75M81.7 244.3h.75M56.7 225.0h.75M67.3 231.6h.75M68.9 227.1h.75M74.5 244.3h.75M51.5 228.2h.75M46.3 234.7h.75M89.8 236.4h.75M61.4 222.6h.75M59.6 242.3h.75M66.9 228.1h.75M60.1 221.0h.75M99.4 237.1h.75M76.3 235.6h.75M81.5 229.3h.75M82.2 233.6h.75M99.2 249.3h.75M39.4 240.4h.75M80.7 234.2h.75M72.4 230.9h.75M71.1 250.6h.75M86.0 230.2h.75M78.6 216.6h.75M46.3 245.1h.75M73.4 229.7h.75M67.7 214.6h.75M85.3 221.5h.75M41.4 221.9h.75M78.8 214.4h.75M72.0 227.3h.75M79.0 228.7h.75M75.4 248.8h.75M41.4 233.3h.75M79.5 228.9h.75M69.5 232.6h.75M59.2 235.8h.75M82.9 243.0h.75M69.4 245.9h.75M92.7 216.5h.75M84.8 220.8h.75M54.8 233.9h.75M80.8 251.4h.75M70.0 229.6h.75M69.6 243.9h.75M68.0 229.1h.75M84.0 229.0h.75M59.0 231.8h.75M76.0 246.6h.75M48.9 229.8h.75M74.5 234.8h.75M52.6 237.1h.75M52.5 242.4h.75M69.4 234.7h.75M54.5 242.2h.75M85.1 249.4h.75M54.9 241.3h.75M92.0 230.8h.75M81.3 232.9h.75M71.3 236.7h.75M78.7 231.8h.75M72.9 224.1h.75M102.5 225.8h.75M76.9 229.2h.75M61.9 216.5h.75M75.3 260.4h.75M65.4 241.9h.75M69.1 229.1h.75"/>
</g>
<path d="M78.4 205V344M25.8 268H165.4" stroke="#9a9a9a" stroke-width="0.9" fill="none"/>
<rect x="30.3" y="217.4" width="46.5" height="48.4" fill="none" stroke="#1a1a1a" stroke-width="1.3"/>
<path d="M25.9 205.0V344.0H165.4" fill="none" stroke="#707070" stroke-width="0.8"/>
<path d="M22.90 344.00H25.9M24.60 333.54H25.9M24.60 327.42H25.9M24.60 323.08H25.9M24.60 319.71H25.9M24.60 316.96H25.9M24.60 314.63H25.9M24.60 312.62H25.9M24.60 310.84H25.9M22.90 309.25H25.9M24.60 298.79H25.9M24.60 292.67H25.9M24.60 288.33H25.9M24.60 284.96H25.9M24.60 282.21H25.9M24.60 279.88H25.9M24.60 277.87H25.9M24.60 276.09H25.9M22.90 274.50H25.9M24.60 264.04H25.9M24.60 257.92H25.9M24.60 253.58H25.9M24.60 250.21H25.9M24.60 247.46H25.9M24.60 245.13H25.9M24.60 243.12H25.9M24.60 241.34H25.9M22.90 239.75H25.9M24.60 229.29H25.9M24.60 223.17H25.9M24.60 218.83H25.9M24.60 215.46H25.9M24.60 212.71H25.9M24.60 210.38H25.9M24.60 208.37H25.9M24.60 206.59H25.9M22.90 205.00H25.9M25.90 344.0v2.6M36.40 344.0v1.3M42.54 344.0v1.3M46.90 344.0v1.3M50.28 344.0v1.3M53.04 344.0v1.3M55.37 344.0v1.3M57.40 344.0v1.3M59.18 344.0v1.3M60.77 344.0v2.6M71.27 344.0v1.3M77.41 344.0v1.3M81.77 344.0v1.3M85.15 344.0v1.3M87.91 344.0v1.3M90.25 344.0v1.3M92.27 344.0v1.3M94.05 344.0v1.3M95.65 344.0v2.6M106.15 344.0v1.3M112.29 344.0v1.3M116.65 344.0v1.3M120.03 344.0v1.3M122.79 344.0v1.3M125.12 344.0v1.3M127.15 344.0v1.3M128.93 344.0v1.3M130.53 344.0v2.6M141.02 344.0v1.3M147.16 344.0v1.3M151.52 344.0v1.3M154.90 344.0v1.3M157.66 344.0v1.3M160.00 344.0v1.3M162.02 344.0v1.3M163.80 344.0v1.3M165.40 344.0v2.6" stroke="#555" stroke-width="0.7" fill="none"/>
<text x="10.3" y="347.10" font-size="6.5" fill="#2e2e2e" stroke="#2e2e2e" stroke-width="0.12">10</text>
<text x="18.0" y="342.90" font-size="4.8" fill="#2e2e2e" stroke="#2e2e2e" stroke-width="0.1">0</text>
<text x="21.10" y="355.6" font-size="6.5" fill="#2e2e2e" stroke="#2e2e2e" stroke-width="0.12">10</text>
<text x="28.30" y="352.1" font-size="4.8" fill="#2e2e2e" stroke="#2e2e2e" stroke-width="0.1">0</text>
<text x="10.3" y="312.35" font-size="6.5" fill="#2e2e2e" stroke="#2e2e2e" stroke-width="0.12">10</text>
<text x="18.0" y="308.15" font-size="4.8" fill="#2e2e2e" stroke="#2e2e2e" stroke-width="0.1">1</text>
<text x="55.98" y="355.6" font-size="6.5" fill="#2e2e2e" stroke="#2e2e2e" stroke-width="0.12">10</text>
<text x="63.17" y="352.1" font-size="4.8" fill="#2e2e2e" stroke="#2e2e2e" stroke-width="0.1">1</text>
<text x="10.3" y="277.60" font-size="6.5" fill="#2e2e2e" stroke="#2e2e2e" stroke-width="0.12">10</text>
<text x="18.0" y="273.40" font-size="4.8" fill="#2e2e2e" stroke="#2e2e2e" stroke-width="0.1">2</text>
<text x="90.85" y="355.6" font-size="6.5" fill="#2e2e2e" stroke="#2e2e2e" stroke-width="0.12">10</text>
<text x="98.05" y="352.1" font-size="4.8" fill="#2e2e2e" stroke="#2e2e2e" stroke-width="0.1">2</text>
<text x="10.3" y="242.85" font-size="6.5" fill="#2e2e2e" stroke="#2e2e2e" stroke-width="0.12">10</text>
<text x="18.0" y="238.65" font-size="4.8" fill="#2e2e2e" stroke="#2e2e2e" stroke-width="0.1">3</text>
<text x="125.73" y="355.6" font-size="6.5" fill="#2e2e2e" stroke="#2e2e2e" stroke-width="0.12">10</text>
<text x="132.93" y="352.1" font-size="4.8" fill="#2e2e2e" stroke="#2e2e2e" stroke-width="0.1">3</text>
<text x="10.3" y="208.10" font-size="6.5" fill="#2e2e2e" stroke="#2e2e2e" stroke-width="0.12">10</text>
<text x="18.0" y="203.90" font-size="4.8" fill="#2e2e2e" stroke="#2e2e2e" stroke-width="0.1">4</text>
<text x="160.60" y="355.6" font-size="6.5" fill="#2e2e2e" stroke="#2e2e2e" stroke-width="0.12">10</text>
<text x="167.80" y="352.1" font-size="4.8" fill="#2e2e2e" stroke="#2e2e2e" stroke-width="0.1">4</text>
<text x="86.3" y="363.3" font-size="6.3" fill="#2e2e2e" stroke="#2e2e2e" stroke-width="0.12" textLength="16.6" lengthAdjust="spacingAndGlyphs">CD38</text>
<text transform="translate(6.1 279.4) rotate(-90)" font-size="6.6" fill="#2e2e2e" stroke="#2e2e2e" stroke-width="0.12" textLength="10.4" lengthAdjust="spacingAndGlyphs">IgD</text>
<text x="36.30" y="323.50" font-size="8.4" font-weight="normal" fill="#222" stroke="#222" stroke-width="0.18" textLength="30.00" lengthAdjust="spacingAndGlyphs">Memory</text>
<text x="110.60" y="318.80" font-size="8.4" font-weight="normal" fill="#222" stroke="#222" stroke-width="0.18" textLength="32.80" lengthAdjust="spacingAndGlyphs">Germinal</text>
<text x="110.60" y="329.20" font-size="8.4" font-weight="normal" fill="#222" stroke="#222" stroke-width="0.18" textLength="23.60" lengthAdjust="spacingAndGlyphs">Center</text>
<path d="M50.5 217.4V175" stroke="#111" stroke-width="1.7"/>
<path d="M50.5 165.8L57.3 176.8L50.5 174L44.8 176.8Z" fill="#111"/>
<path d="M171.2 63.8L200 95" stroke="#111" stroke-width="1.75"/>
<path d="M205.3 100.8L192.8 96.6L199.1 94.6L202.7 87.9Z" fill="#111"/>
<text x="0.90" y="10.70" font-size="13.2" font-weight="bold" fill="#000" stroke="#000" stroke-width="0.35">A</text>
<text x="186.60" y="10.70" font-size="13.2" font-weight="bold" fill="#000" stroke="#000" stroke-width="0.35">B</text>
<text x="185.90" y="285.40" font-size="13.2" font-weight="bold" fill="#000" stroke="#000" stroke-width="0.35">C</text>
<text x="353.10" y="68.60" font-size="7" font-weight="normal" fill="#222" stroke="#222" stroke-width="0.06" textLength="30.80" lengthAdjust="spacingAndGlyphs">(Pro-GC)</text>
<text x="230.30" y="90.20" font-size="8.4" font-weight="normal" fill="#222" stroke="#222" stroke-width="0.18" textLength="19.60" lengthAdjust="spacingAndGlyphs">Small</text>
<text x="230.30" y="100.90" font-size="8.4" font-weight="normal" fill="#222" stroke="#222" stroke-width="0.18" textLength="21.40" lengthAdjust="spacingAndGlyphs">CD23-</text>
<text x="294.30" y="89.40" font-size="8.4" font-weight="normal" fill="#222" stroke="#222" stroke-width="0.18" textLength="19.60" lengthAdjust="spacingAndGlyphs">Small</text>
<text x="294.30" y="100.10" font-size="8.4" font-weight="normal" fill="#222" stroke="#222" stroke-width="0.18" textLength="24.20" lengthAdjust="spacingAndGlyphs">CD23+</text>
<text x="357.50" y="89.40" font-size="8.4" font-weight="normal" fill="#222" stroke="#222" stroke-width="0.18" textLength="20.00" lengthAdjust="spacingAndGlyphs">Large</text>
<text x="357.20" y="100.10" font-size="8.4" font-weight="normal" fill="#222" stroke="#222" stroke-width="0.18" textLength="22.60" lengthAdjust="spacingAndGlyphs">CD23-</text>
<text x="413.50" y="89.30" font-size="8.4" font-weight="normal" fill="#222" stroke="#222" stroke-width="0.18" textLength="33.40" lengthAdjust="spacingAndGlyphs">Germinal</text>
<text x="413.50" y="100.00" font-size="8.4" font-weight="normal" fill="#222" stroke="#222" stroke-width="0.18" textLength="24.00" lengthAdjust="spacingAndGlyphs">Center</text>
<text x="479.40" y="89.10" font-size="8.4" font-weight="normal" fill="#222" stroke="#222" stroke-width="0.18" textLength="30.40" lengthAdjust="spacingAndGlyphs">Memory</text>
<text x="181.00" y="135.90" font-size="8.4" font-weight="normal" fill="#222" stroke="#222" stroke-width="0.18" textLength="20.00" lengthAdjust="spacingAndGlyphs">CD69</text>
<text x="181.00" y="188.40" font-size="8.4" font-weight="normal" fill="#222" stroke="#222" stroke-width="0.18" textLength="19.40" lengthAdjust="spacingAndGlyphs">CD71</text>
<text x="182.60" y="240.50" font-size="8.4" font-weight="normal" fill="#222" stroke="#222" stroke-width="0.18" textLength="12.80" lengthAdjust="spacingAndGlyphs">AID</text>
<rect x="219.4" y="110.6" width="45.20" height="41.40" fill="none" stroke="#8a8a8a" stroke-width="0.62"/>
<path d="M217.90 152.00h1.5M217.90 145.00h1.5M217.90 138.00h1.5M217.90 131.00h1.5M217.90 124.00h1.5M217.90 117.00h1.5M219.40 152.0v1.2M230.70 152.0v1.2M242.00 152.0v1.2M253.30 152.0v1.2M264.60 152.0v1.2" stroke="#888" stroke-width="0.5"/>
<path d="M216.00 151.40h1.2v1.2h-1.2zM214.60 144.40h2.6v1.2h-2.6zM214.60 137.40h2.6v1.2h-2.6zM214.60 130.40h2.6v1.2h-2.6zM214.60 123.40h2.6v1.2h-2.6zM214.60 116.40h2.6v1.2h-2.6zM218.10 153.70h2.6v1.1h-2.6zM229.40 153.70h2.6v1.1h-2.6zM240.70 153.70h2.6v1.1h-2.6zM252.00 153.70h2.6v1.1h-2.6zM263.30 153.70h2.6v1.1h-2.6zM231.50 155.70h21v1.2h-21z" fill="#bdbdbd"/>
<path d="M219.40 130.72L219.55 129.25L219.75 131.46L220.00 131.97L220.30 132.90L220.66 133.85L221.08 133.91L221.50 135.45L221.90 135.61L222.54 137.34L223.20 135.10L223.59 134.32L224.01 133.72L224.44 132.84L224.90 131.93L225.28 131.59L225.68 131.28L226.09 130.25L226.50 130.12L226.90 129.01L227.41 128.53L227.92 128.75L228.42 127.86L228.90 126.87L229.36 126.44L229.82 126.17L230.24 126.13L230.60 124.38L230.83 123.64L231.03 123.32L231.19 121.57L231.35 121.02L231.50 120.90L231.83 119.80L232.20 119.24L232.81 119.93L233.50 118.83L234.17 120.29L234.80 118.77L235.17 117.93L235.51 118.17L235.80 117.52L235.94 116.29L236.06 115.14L236.16 114.73L236.27 113.88L236.40 113.93L237.20 112.94L237.50 113.13L237.82 114.29L238.10 114.51L238.32 114.98L238.50 116.52L238.70 117.46L238.85 117.85L239.01 118.37L239.18 119.66L239.40 119.38L239.59 121.52L239.81 122.21L240.05 122.08L240.29 123.67L240.51 124.01L240.70 125.54L240.88 125.15L241.03 126.50L241.16 128.03L241.28 128.97L241.40 128.13L241.66 130.04L242.00 131.25L242.63 131.52L243.40 133.12L243.96 132.27L244.55 133.37L245.10 133.23L245.56 134.87L245.98 134.85L246.40 135.53L246.62 135.48L246.83 137.65L247.05 137.92L247.27 138.64L247.48 139.53L247.70 139.86L247.96 140.21L248.21 140.94L248.46 141.73L248.72 143.48L249.00 142.94L249.29 144.04L249.60 144.85L249.92 145.75L250.25 146.55L250.60 146.34L251.07 146.87L251.57 148.37L252.09 149.58L252.60 149.94L253.24 150.26L253.89 150.43L254.60 151.03L255.24 151.16L255.96 151.35L257.20 151.50L257.78 151.54L258.49 151.58L259.30 151.62L260.17 151.66L261.06 151.69L261.94 151.72L262.77 151.74L263.52 151.76L264.14 151.78L264.60 151.80" fill="none" stroke="#333" stroke-width="0.7"/>
<path d="M242.00 128.40H264.00M242.00 127.20v2.4M264.00 127.20v2.4" stroke="#777" stroke-width="0.7" fill="none"/>
<rect x="281.3" y="110.6" width="48.10" height="41.30" fill="none" stroke="#8a8a8a" stroke-width="0.62"/>
<path d="M279.80 151.90h1.5M279.80 144.90h1.5M279.80 137.90h1.5M279.80 130.90h1.5M279.80 123.90h1.5M279.80 116.90h1.5M281.30 151.9v1.2M293.32 151.9v1.2M305.35 151.9v1.2M317.38 151.9v1.2M329.40 151.9v1.2" stroke="#888" stroke-width="0.5"/>
<path d="M277.90 151.30h1.2v1.2h-1.2zM276.50 144.30h2.6v1.2h-2.6zM276.50 137.30h2.6v1.2h-2.6zM276.50 130.30h2.6v1.2h-2.6zM276.50 123.30h2.6v1.2h-2.6zM276.50 116.30h2.6v1.2h-2.6zM280.00 153.60h2.6v1.1h-2.6zM292.02 153.60h2.6v1.1h-2.6zM304.05 153.60h2.6v1.1h-2.6zM316.07 153.60h2.6v1.1h-2.6zM328.10 153.60h2.6v1.1h-2.6zM294.85 155.60h21v1.2h-21z" fill="#bdbdbd"/>
<path d="M281.30 131.34L281.33 130.51L281.37 132.64L281.41 133.28L281.46 132.98L281.51 133.96L281.57 134.91L281.63 136.16L281.70 137.27L281.77 138.70L281.84 138.41L281.92 139.46L282.00 139.67L282.57 141.55L283.30 141.23L284.22 141.85L285.20 140.72L285.79 140.78L286.37 139.96L287.00 140.28L287.42 139.33L287.86 138.23L288.32 137.45L288.77 137.16L289.20 135.98L289.71 135.20L290.21 135.22L290.70 135.49L291.20 133.59L291.60 132.85L292.01 131.94L292.42 131.20L292.82 131.35L293.20 130.78L293.50 129.77L293.80 129.24L294.08 128.45L294.36 127.76L294.63 126.34L294.90 126.19L295.21 125.75L295.52 124.69L295.82 124.19L296.11 123.43L296.40 123.05L296.77 122.87L297.13 121.63L297.48 121.09L297.80 120.87L298.17 119.97L298.50 119.63L298.80 116.96L298.96 117.53L299.11 116.05L299.24 115.43L299.37 114.93L299.50 114.39L299.78 113.34L300.10 112.67L300.39 113.80L300.73 113.79L301.10 114.54L301.73 115.18L302.40 114.95L302.66 116.65L302.92 116.75L303.18 117.98L303.44 117.74L303.70 118.33L303.92 119.22L304.13 120.19L304.35 120.32L304.57 121.46L304.78 121.93L305.00 123.23L305.42 123.02L305.84 124.39L306.30 124.21L306.84 124.73L307.43 125.49L308.00 125.86L308.56 126.93L309.11 127.73L309.60 127.87L309.91 128.58L310.17 129.59L310.42 129.65L310.70 130.49L310.88 130.89L311.06 131.00L311.24 132.83L311.43 132.50L311.62 134.41L311.81 134.92L312.00 136.21L312.18 136.42L312.36 136.84L312.54 138.13L312.72 138.47L312.91 139.38L313.10 140.21L313.30 140.84L313.54 141.62L313.80 142.13L314.06 143.19L314.33 143.07L314.61 144.70L314.90 144.96L315.20 146.73L315.51 147.52L315.84 146.78L316.17 148.40L316.53 148.90L316.90 149.03L317.34 150.42L317.71 150.53L318.32 151.17L319.50 151.50L320.01 151.57L320.62 151.62L321.32 151.67L322.09 151.69L322.90 151.71L323.75 151.72L324.61 151.72L325.47 151.72L326.30 151.72L327.08 151.71L327.80 151.70L328.44 151.70L328.98 151.70L329.40 151.70" fill="none" stroke="#333" stroke-width="0.7"/>
<path d="M305.00 122.10H328.80M305.00 120.90v2.4M328.80 120.90v2.4" stroke="#777" stroke-width="0.7" fill="none"/>
<rect x="344.6" y="110.4" width="45.50" height="41.10" fill="none" stroke="#8a8a8a" stroke-width="0.62"/>
<path d="M343.10 151.50h1.5M343.10 144.50h1.5M343.10 137.50h1.5M343.10 130.50h1.5M343.10 123.50h1.5M343.10 116.50h1.5M344.60 151.5v1.2M355.98 151.5v1.2M367.35 151.5v1.2M378.73 151.5v1.2M390.10 151.5v1.2" stroke="#888" stroke-width="0.5"/>
<path d="M341.20 150.90h1.2v1.2h-1.2zM339.80 143.90h2.6v1.2h-2.6zM339.80 136.90h2.6v1.2h-2.6zM339.80 129.90h2.6v1.2h-2.6zM339.80 122.90h2.6v1.2h-2.6zM339.80 115.90h2.6v1.2h-2.6zM343.30 153.20h2.6v1.1h-2.6zM354.68 153.20h2.6v1.1h-2.6zM366.05 153.20h2.6v1.1h-2.6zM377.43 153.20h2.6v1.1h-2.6zM388.80 153.20h2.6v1.1h-2.6zM356.85 155.20h21v1.2h-21z" fill="#bdbdbd"/>
<path d="M344.60 141.59L345.13 141.62L345.90 142.54L346.82 142.93L347.90 142.89L348.74 143.75L349.66 143.07L350.50 143.52L351.58 143.34L352.50 143.09L352.86 142.05L353.17 142.27L353.46 140.97L353.80 140.31L354.20 139.33L354.63 138.69L355.07 138.39L355.50 137.90L356.04 137.14L356.57 136.67L357.10 135.91L357.63 135.12L358.16 134.77L358.70 133.88L358.98 133.12L359.27 132.73L359.57 132.20L359.86 131.17L360.14 130.28L360.40 129.92L360.69 129.51L360.96 128.14L361.22 127.43L361.47 126.63L361.70 126.17L361.86 124.58L362.02 124.54L362.18 124.05L362.32 122.69L362.46 122.60L362.59 121.50L362.70 120.34L362.78 119.86L362.84 118.57L362.90 118.05L362.96 117.94L363.01 116.30L363.05 116.34L363.10 115.04L363.15 114.72L363.20 113.91L363.43 111.88L363.70 112.03L364.08 112.57L364.50 113.15L364.66 113.66L364.81 114.84L364.96 115.29L365.12 115.81L365.30 116.99L365.44 118.13L365.59 118.46L365.74 119.64L365.90 120.60L366.06 120.95L366.23 121.39L366.40 122.11L366.58 123.25L366.76 124.28L366.94 124.86L367.13 125.70L367.32 126.16L367.51 127.14L367.70 127.66L367.88 128.44L368.06 128.88L368.24 129.52L368.42 130.58L368.61 131.13L368.80 131.93L369.00 133.20L369.18 133.70L369.38 135.38L369.57 135.59L369.78 135.93L369.98 137.15L370.19 137.78L370.39 138.17L370.60 139.33L370.93 139.60L371.27 139.60L371.62 141.36L371.96 141.50L372.30 142.75L372.64 142.75L372.98 143.23L373.31 144.68L373.65 144.53L374.00 145.56L374.34 146.62L374.68 146.93L375.03 147.57L375.40 148.28L375.80 149.05L376.32 149.10L376.86 149.94L377.47 150.27L378.20 151.10L378.84 150.62L379.50 150.81L380.24 150.96L381.12 151.09L382.20 151.20L382.80 151.24L383.51 151.28L384.29 151.30L385.12 151.33L385.97 151.34L386.82 151.36L387.64 151.37L388.41 151.38L389.09 151.38L389.66 151.39L390.10 151.40" fill="none" stroke="#333" stroke-width="0.7"/>
<path d="M367.00 121.20H389.50M367.00 120.00v2.4M389.50 120.00v2.4" stroke="#777" stroke-width="0.7" fill="none"/>
<rect x="408.0" y="110.4" width="45.70" height="41.10" fill="none" stroke="#8a8a8a" stroke-width="0.62"/>
<path d="M406.50 151.50h1.5M406.50 144.50h1.5M406.50 137.50h1.5M406.50 130.50h1.5M406.50 123.50h1.5M406.50 116.50h1.5M408.00 151.5v1.2M419.43 151.5v1.2M430.85 151.5v1.2M442.27 151.5v1.2M453.70 151.5v1.2" stroke="#888" stroke-width="0.5"/>
<path d="M404.60 150.90h1.2v1.2h-1.2zM403.20 143.90h2.6v1.2h-2.6zM403.20 136.90h2.6v1.2h-2.6zM403.20 129.90h2.6v1.2h-2.6zM403.20 122.90h2.6v1.2h-2.6zM403.20 115.90h2.6v1.2h-2.6zM406.70 153.20h2.6v1.1h-2.6zM418.12 153.20h2.6v1.1h-2.6zM429.55 153.20h2.6v1.1h-2.6zM440.97 153.20h2.6v1.1h-2.6zM452.40 153.20h2.6v1.1h-2.6zM420.35 155.20h21v1.2h-21z" fill="#bdbdbd"/>
<path d="M408.00 147.34L408.57 146.81L409.38 146.81L410.20 146.25L410.77 145.93L411.34 145.17L411.92 145.11L412.50 144.28L412.98 143.72L413.48 143.17L413.97 142.72L414.45 142.39L414.90 141.55L415.25 141.24L415.58 140.53L415.89 140.03L416.20 139.24L416.50 138.34L416.80 137.22L417.05 136.99L417.30 136.40L417.55 135.56L417.79 134.90L418.03 133.93L418.26 133.15L418.50 132.21L418.68 132.00L418.87 131.05L419.05 130.18L419.23 129.26L419.41 128.73L419.59 128.29L419.77 127.34L419.94 126.37L420.10 126.09L420.28 125.30L420.44 124.43L420.61 123.61L420.76 122.92L420.92 122.05L421.08 121.38L421.23 120.39L421.40 120.20L421.63 119.15L421.87 118.76L422.12 117.25L422.36 117.16L422.59 116.63L422.80 115.83L423.15 115.12L423.46 114.52L423.80 114.02L425.10 113.39L425.62 114.05L426.10 115.40L426.28 116.08L426.46 116.56L426.64 117.37L426.82 118.28L427.00 119.41L427.12 119.63L427.24 120.24L427.36 121.24L427.49 121.72L427.61 122.58L427.74 123.50L427.87 124.38L428.00 124.89L428.11 125.94L428.22 126.13L428.33 127.32L428.44 127.64L428.56 128.45L428.67 129.59L428.78 130.14L428.89 130.80L429.00 131.60L429.10 132.49L429.21 133.16L429.31 133.92L429.40 134.89L429.49 135.28L429.58 136.06L429.68 136.77L429.78 137.83L429.88 138.50L430.00 139.26L430.14 139.78L430.29 140.55L430.44 141.55L430.60 142.08L430.77 143.07L430.94 143.77L431.12 144.15L431.30 144.88L431.60 145.73L431.92 146.83L432.26 147.64L432.62 147.66L433.00 148.20L433.51 148.30L434.05 149.24L434.64 149.57L435.30 149.69L436.04 150.35L436.85 150.12L437.71 150.63L438.60 150.80L439.22 150.92L439.77 151.01L440.39 151.08L441.24 151.14L442.50 151.20L443.02 151.22L443.63 151.24L444.31 151.25L445.05 151.27L445.84 151.28L446.66 151.30L447.50 151.31L448.34 151.32L449.18 151.34L450.00 151.35L450.78 151.36L451.52 151.37L452.19 151.38L452.79 151.39L453.29 151.39L453.70 151.40" fill="none" stroke="#333" stroke-width="0.7"/>
<path d="M430.40 135.30H453.10M430.40 134.10v2.4M453.10 134.10v2.4" stroke="#777" stroke-width="0.7" fill="none"/>
<rect x="471.0" y="110.4" width="45.70" height="41.10" fill="none" stroke="#8a8a8a" stroke-width="0.62"/>
<path d="M469.50 151.50h1.5M469.50 144.50h1.5M469.50 137.50h1.5M469.50 130.50h1.5M469.50 123.50h1.5M469.50 116.50h1.5M471.00 151.5v1.2M482.43 151.5v1.2M493.85 151.5v1.2M505.28 151.5v1.2M516.70 151.5v1.2" stroke="#888" stroke-width="0.5"/>
<path d="M467.60 150.90h1.2v1.2h-1.2zM466.20 143.90h2.6v1.2h-2.6zM466.20 136.90h2.6v1.2h-2.6zM466.20 129.90h2.6v1.2h-2.6zM466.20 122.90h2.6v1.2h-2.6zM466.20 115.90h2.6v1.2h-2.6zM469.70 153.20h2.6v1.1h-2.6zM481.12 153.20h2.6v1.1h-2.6zM492.55 153.20h2.6v1.1h-2.6zM503.98 153.20h2.6v1.1h-2.6zM515.40 153.20h2.6v1.1h-2.6zM483.35 155.20h21v1.2h-21z" fill="#bdbdbd"/>
<path d="M471.00 147.51L471.68 147.77L472.60 147.32L473.24 147.19L473.93 146.87L474.60 146.84L475.24 146.25L475.86 145.85L476.50 145.56L477.17 144.90L477.85 144.40L478.50 143.60L478.86 143.10L479.21 142.80L479.54 141.66L479.87 141.03L480.20 140.26L480.47 139.79L480.74 138.73L481.01 138.12L481.27 137.55L481.53 137.00L481.80 136.29L482.21 135.50L482.62 134.86L483.02 134.56L483.40 133.99L483.64 133.09L483.86 132.28L484.08 131.50L484.29 130.38L484.50 129.72L484.70 129.05L484.98 128.41L485.25 127.78L485.52 126.96L485.80 126.63L485.98 126.12L486.16 125.03L486.34 124.39L486.53 123.57L486.72 122.87L486.91 121.64L487.10 121.52L487.32 120.30L487.54 119.87L487.76 118.87L487.98 118.02L488.19 117.32L488.40 116.78L488.60 115.60L488.79 114.79L488.98 113.87L489.16 112.81L489.33 112.80L489.50 112.32L489.81 112.38L490.11 113.57L490.40 114.41L490.53 115.18L490.65 116.21L490.78 116.80L490.90 116.95L491.03 117.55L491.16 118.85L491.30 120.11L491.41 120.48L491.53 121.23L491.66 122.12L491.78 122.56L491.91 123.52L492.03 124.38L492.16 125.06L492.28 125.77L492.40 126.28L492.53 127.27L492.65 127.82L492.77 128.89L492.89 129.87L493.01 129.94L493.13 130.39L493.26 131.51L493.40 132.48L493.52 133.28L493.64 133.99L493.76 134.33L493.88 135.06L494.01 136.22L494.14 136.49L494.28 137.66L494.42 138.13L494.56 139.05L494.70 139.74L494.86 140.54L495.03 141.35L495.20 141.79L495.37 142.85L495.54 143.58L495.73 144.38L495.91 145.26L496.10 145.59L496.30 146.06L496.77 147.01L497.26 147.76L497.78 148.48L498.30 148.64L498.99 149.61L499.70 149.88L500.50 150.15L500.95 150.19L501.31 150.66L502.01 150.84L503.50 151.00L504.00 151.03L504.59 151.06L505.26 151.09L506.00 151.12L506.80 151.15L507.63 151.18L508.50 151.20L509.39 151.23L510.29 151.25L511.18 151.27L512.05 151.29L512.90 151.31L513.71 151.33L514.46 151.35L515.15 151.36L515.76 151.38L516.28 151.39L516.70 151.40" fill="none" stroke="#333" stroke-width="0.7"/>
<path d="M493.00 129.30H516.10M493.00 128.10v2.4M516.10 128.10v2.4" stroke="#777" stroke-width="0.7" fill="none"/>
<rect x="219.3" y="162.3" width="45.50" height="41.10" fill="none" stroke="#8a8a8a" stroke-width="0.62"/>
<path d="M217.80 203.40h1.5M217.80 196.40h1.5M217.80 189.40h1.5M217.80 182.40h1.5M217.80 175.40h1.5M217.80 168.40h1.5M219.30 203.4v1.2M230.68 203.4v1.2M242.05 203.4v1.2M253.43 203.4v1.2M264.80 203.4v1.2" stroke="#888" stroke-width="0.5"/>
<path d="M215.90 202.80h1.2v1.2h-1.2zM214.50 195.80h2.6v1.2h-2.6zM214.50 188.80h2.6v1.2h-2.6zM214.50 181.80h2.6v1.2h-2.6zM214.50 174.80h2.6v1.2h-2.6zM214.50 167.80h2.6v1.2h-2.6zM218.00 205.10h2.6v1.1h-2.6zM229.38 205.10h2.6v1.1h-2.6zM240.75 205.10h2.6v1.1h-2.6zM252.12 205.10h2.6v1.1h-2.6zM263.50 205.10h2.6v1.1h-2.6zM231.55 207.10h21v1.2h-21z" fill="#bdbdbd"/>
<path d="M219.30 202.80C219.57 202.58 220.25 201.77 220.90 201.50C221.55 201.23 222.43 201.42 223.20 201.20C223.97 200.98 224.78 200.82 225.50 200.20C226.22 199.58 226.88 198.60 227.50 197.50C228.12 196.40 228.65 195.13 229.20 193.60C229.75 192.07 230.32 190.28 230.80 188.30C231.28 186.32 231.67 183.90 232.10 181.70C232.53 179.50 232.95 177.18 233.40 175.10C233.85 173.02 234.42 170.85 234.80 169.20C235.18 167.55 235.42 166.08 235.70 165.20C235.98 164.32 236.22 164.00 236.50 163.90C236.78 163.80 237.10 164.08 237.40 164.60C237.70 165.12 237.97 165.68 238.30 167.00C238.63 168.32 239.05 170.48 239.40 172.50C239.75 174.52 240.07 176.80 240.40 179.10C240.73 181.40 241.07 184.00 241.40 186.30C241.73 188.60 242.02 191.13 242.40 192.90C242.78 194.67 243.17 195.92 243.70 196.90C244.23 197.88 244.93 198.22 245.60 198.80C246.27 199.38 246.98 199.85 247.70 200.40C248.42 200.95 248.98 201.67 249.90 202.10C250.82 202.53 250.72 202.82 253.20 203.00C255.68 203.18 262.87 203.17 264.80 203.20" fill="none" stroke="#333" stroke-width="0.7"/>
<path d="M243.10 185.70H264.20M243.10 184.50v2.4M264.20 184.50v2.4" stroke="#777" stroke-width="0.7" fill="none"/>
<rect x="281.3" y="162.3" width="47.80" height="41.10" fill="none" stroke="#8a8a8a" stroke-width="0.62"/>
<path d="M279.80 203.40h1.5M279.80 196.40h1.5M279.80 189.40h1.5M279.80 182.40h1.5M279.80 175.40h1.5M279.80 168.40h1.5M281.30 203.4v1.2M293.25 203.4v1.2M305.20 203.4v1.2M317.15 203.4v1.2M329.10 203.4v1.2" stroke="#888" stroke-width="0.5"/>
<path d="M277.90 202.80h1.2v1.2h-1.2zM276.50 195.80h2.6v1.2h-2.6zM276.50 188.80h2.6v1.2h-2.6zM276.50 181.80h2.6v1.2h-2.6zM276.50 174.80h2.6v1.2h-2.6zM276.50 167.80h2.6v1.2h-2.6zM280.00 205.10h2.6v1.1h-2.6zM291.95 205.10h2.6v1.1h-2.6zM303.90 205.10h2.6v1.1h-2.6zM315.85 205.10h2.6v1.1h-2.6zM327.80 205.10h2.6v1.1h-2.6zM294.70 207.10h21v1.2h-21z" fill="#bdbdbd"/>
<path d="M281.30 202.80C281.73 202.80 282.92 202.85 283.90 202.80C284.88 202.75 286.20 202.72 287.20 202.50C288.20 202.28 289.07 202.12 289.90 201.50C290.73 200.88 291.50 200.02 292.20 198.80C292.90 197.58 293.50 196.17 294.10 194.20C294.70 192.23 295.23 189.73 295.80 187.00C296.37 184.27 296.95 180.77 297.50 177.80C298.05 174.83 298.62 171.23 299.10 169.20C299.58 167.17 300.00 166.20 300.40 165.60C300.80 165.00 301.15 165.00 301.50 165.60C301.85 166.20 302.13 167.40 302.50 169.20C302.87 171.00 303.28 173.65 303.70 176.40C304.12 179.15 304.57 182.95 305.00 185.70C305.43 188.45 305.80 190.93 306.30 192.90C306.80 194.87 307.33 196.18 308.00 197.50C308.67 198.82 309.48 199.97 310.30 200.80C311.12 201.63 311.70 202.12 312.90 202.50C314.10 202.88 314.80 202.98 317.50 203.10C320.20 203.22 327.17 203.18 329.10 203.20" fill="none" stroke="#333" stroke-width="0.7"/>
<path d="M305.00 185.90H328.50M305.00 184.70v2.4M328.50 184.70v2.4" stroke="#777" stroke-width="0.7" fill="none"/>
<rect x="344.9" y="162.0" width="45.80" height="41.00" fill="none" stroke="#8a8a8a" stroke-width="0.62"/>
<path d="M343.40 203.00h1.5M343.40 196.00h1.5M343.40 189.00h1.5M343.40 182.00h1.5M343.40 175.00h1.5M343.40 168.00h1.5M344.90 203.0v1.2M356.35 203.0v1.2M367.80 203.0v1.2M379.25 203.0v1.2M390.70 203.0v1.2" stroke="#888" stroke-width="0.5"/>
<path d="M341.50 202.40h1.2v1.2h-1.2zM340.10 195.40h2.6v1.2h-2.6zM340.10 188.40h2.6v1.2h-2.6zM340.10 181.40h2.6v1.2h-2.6zM340.10 174.40h2.6v1.2h-2.6zM340.10 167.40h2.6v1.2h-2.6zM343.60 204.70h2.6v1.1h-2.6zM355.05 204.70h2.6v1.1h-2.6zM366.50 204.70h2.6v1.1h-2.6zM377.95 204.70h2.6v1.1h-2.6zM389.40 204.70h2.6v1.1h-2.6zM357.30 206.70h21v1.2h-21z" fill="#bdbdbd"/>
<path d="M344.90 202.80C346.28 202.80 351.17 202.92 353.20 202.80C355.23 202.68 356.00 202.37 357.10 202.10C358.20 201.83 359.03 201.57 359.80 201.20C360.57 200.83 361.08 200.55 361.70 199.90C362.32 199.25 362.95 198.18 363.50 197.30C364.05 196.42 364.42 195.40 365.00 194.60C365.58 193.80 366.38 193.28 367.00 192.50C367.62 191.72 368.20 191.03 368.70 189.90C369.20 188.77 369.58 187.50 370.00 185.70C370.42 183.90 370.82 181.52 371.20 179.10C371.58 176.68 371.97 173.52 372.30 171.20C372.63 168.88 372.97 166.42 373.20 165.20C373.43 163.98 373.48 163.45 373.70 163.90C373.92 164.35 374.23 165.58 374.50 167.90C374.77 170.22 374.98 174.62 375.30 177.80C375.62 180.98 376.03 184.37 376.40 187.00C376.77 189.63 377.08 191.67 377.50 193.60C377.92 195.53 378.35 197.28 378.90 198.60C379.45 199.92 380.03 200.85 380.80 201.50C381.57 202.15 381.85 202.28 383.50 202.50C385.15 202.72 389.50 202.75 390.70 202.80" fill="none" stroke="#333" stroke-width="0.7"/>
<path d="M369.00 185.40H390.10M369.00 184.20v2.4M390.10 184.20v2.4" stroke="#777" stroke-width="0.7" fill="none"/>
<rect x="408.0" y="162.0" width="45.70" height="40.90" fill="none" stroke="#8a8a8a" stroke-width="0.62"/>
<path d="M406.50 202.90h1.5M406.50 195.90h1.5M406.50 188.90h1.5M406.50 181.90h1.5M406.50 174.90h1.5M406.50 167.90h1.5M408.00 202.9v1.2M419.43 202.9v1.2M430.85 202.9v1.2M442.27 202.9v1.2M453.70 202.9v1.2" stroke="#888" stroke-width="0.5"/>
<path d="M404.60 202.30h1.2v1.2h-1.2zM403.20 195.30h2.6v1.2h-2.6zM403.20 188.30h2.6v1.2h-2.6zM403.20 181.30h2.6v1.2h-2.6zM403.20 174.30h2.6v1.2h-2.6zM403.20 167.30h2.6v1.2h-2.6zM406.70 204.60h2.6v1.1h-2.6zM418.12 204.60h2.6v1.1h-2.6zM429.55 204.60h2.6v1.1h-2.6zM440.97 204.60h2.6v1.1h-2.6zM452.40 204.60h2.6v1.1h-2.6zM420.35 206.60h21v1.2h-21z" fill="#bdbdbd"/>
<path d="M408.00 202.50C409.15 202.43 412.22 202.38 414.90 202.10C417.58 201.82 422.13 201.23 424.10 200.80C426.07 200.37 425.87 200.08 426.70 199.50C427.53 198.92 428.40 198.25 429.10 197.30C429.80 196.35 430.32 195.18 430.90 193.80C431.48 192.42 432.05 191.02 432.60 189.00C433.15 186.98 433.72 184.33 434.20 181.70C434.68 179.07 435.10 175.72 435.50 173.20C435.90 170.68 436.27 168.08 436.60 166.60C436.93 165.12 437.17 164.37 437.50 164.30C437.83 164.23 438.25 165.32 438.60 166.20C438.95 167.08 439.28 168.12 439.60 169.60C439.92 171.08 440.18 173.08 440.50 175.10C440.82 177.12 441.17 179.38 441.50 181.70C441.83 184.02 442.12 186.80 442.50 189.00C442.88 191.20 443.32 193.22 443.80 194.90C444.28 196.58 444.73 198.00 445.40 199.10C446.07 200.20 446.42 200.93 447.80 201.50C449.18 202.07 452.72 202.33 453.70 202.50" fill="none" stroke="#333" stroke-width="0.7"/>
<path d="M431.30 182.40H453.10M431.30 181.20v2.4M453.10 181.20v2.4" stroke="#777" stroke-width="0.7" fill="none"/>
<rect x="471.0" y="162.0" width="45.70" height="40.90" fill="none" stroke="#8a8a8a" stroke-width="0.62"/>
<path d="M469.50 202.90h1.5M469.50 195.90h1.5M469.50 188.90h1.5M469.50 181.90h1.5M469.50 174.90h1.5M469.50 167.90h1.5M471.00 202.9v1.2M482.43 202.9v1.2M493.85 202.9v1.2M505.28 202.9v1.2M516.70 202.9v1.2" stroke="#888" stroke-width="0.5"/>
<path d="M467.60 202.30h1.2v1.2h-1.2zM466.20 195.30h2.6v1.2h-2.6zM466.20 188.30h2.6v1.2h-2.6zM466.20 181.30h2.6v1.2h-2.6zM466.20 174.30h2.6v1.2h-2.6zM466.20 167.30h2.6v1.2h-2.6zM469.70 204.60h2.6v1.1h-2.6zM481.12 204.60h2.6v1.1h-2.6zM492.55 204.60h2.6v1.1h-2.6zM503.98 204.60h2.6v1.1h-2.6zM515.40 204.60h2.6v1.1h-2.6zM483.35 206.60h21v1.2h-21z" fill="#bdbdbd"/>
<path d="M471.00 183.97L471.03 184.85L471.06 184.60L471.10 186.18L471.15 186.44L471.20 186.91L471.25 188.81L471.31 188.49L471.37 190.18L471.44 190.11L471.50 191.13L471.74 191.48L472.01 192.30L472.30 193.43L472.59 192.67L472.89 191.83L473.20 190.68L473.44 190.35L473.67 188.53L473.93 187.78L474.20 187.52L474.61 186.47L475.06 186.00L475.50 185.86L476.16 185.56L476.80 184.89L477.00 185.27L477.20 184.20L477.39 183.46L477.58 181.96L477.75 180.88L477.90 179.67L478.08 179.25L478.21 177.46L478.34 177.42L478.50 177.48L479.40 177.21L479.60 176.26L479.79 174.53L479.99 174.31L480.20 172.81L480.45 172.78L480.71 171.46L480.97 171.11L481.20 171.19L481.43 169.39L481.61 169.19L481.80 167.29L482.03 166.31L482.27 166.49L482.50 166.06L482.80 163.67L483.10 163.54L483.21 163.15L483.33 164.36L483.45 165.67L483.57 166.05L483.69 166.72L483.80 167.20L483.88 168.74L483.95 169.64L484.01 170.24L484.08 170.80L484.14 170.78L484.22 173.07L484.30 172.96L484.40 173.73L484.49 174.85L484.58 174.12L484.68 175.92L484.78 176.65L484.89 177.68L485.00 178.94L485.12 179.26L485.24 178.84L485.37 180.28L485.50 181.20L485.70 182.05L485.91 182.17L486.13 182.77L486.36 184.63L486.60 185.23L486.85 185.70L487.10 185.44L487.59 188.12L488.12 186.59L488.64 188.46L489.10 190.05L489.79 188.49L490.40 188.12L491.05 188.00L491.70 190.28L492.13 189.80L492.57 191.50L493.00 192.07L494.30 191.07L494.91 192.22L495.61 191.38L496.30 192.16L496.98 193.01L497.66 193.43L498.30 194.43L498.90 195.12L499.47 194.93L500.00 195.23L500.66 195.99L501.30 196.72L502.06 197.57L502.90 197.39L503.37 198.13L503.88 198.44L504.40 198.62L504.90 199.93L505.51 199.35L506.11 200.11L506.80 201.14L507.42 200.16L508.11 201.03L508.81 200.61L509.50 201.45L510.30 202.02L511.09 202.29L512.10 202.50L512.80 202.58L513.66 202.65L514.56 202.70L515.43 202.74L516.18 202.77L516.70 202.80" fill="none" stroke="#333" stroke-width="0.7"/>
<path d="M494.30 185.00H516.10M494.30 183.80v2.4M516.10 183.80v2.4" stroke="#777" stroke-width="0.7" fill="none"/>
<rect x="219.5" y="213.7" width="45.60" height="46.40" fill="none" stroke="#8a8a8a" stroke-width="0.62"/>
<path d="M218.00 260.10h1.5M218.00 246.80h1.5M218.00 233.50h1.5M218.00 220.20h1.5M219.50 260.1v1.2M230.90 260.1v1.2M242.30 260.1v1.2M253.70 260.1v1.2M265.10 260.1v1.2" stroke="#888" stroke-width="0.5"/>
<path d="M216.10 259.50h1.2v1.2h-1.2zM214.70 246.20h2.6v1.2h-2.6zM214.70 232.90h2.6v1.2h-2.6zM214.70 219.60h2.6v1.2h-2.6zM218.20 261.80h2.6v1.1h-2.6zM229.60 261.80h2.6v1.1h-2.6zM241.00 261.80h2.6v1.1h-2.6zM252.40 261.80h2.6v1.1h-2.6zM263.80 261.80h2.6v1.1h-2.6zM231.80 263.80h21v1.2h-21z" fill="#bdbdbd"/>
<path d="M219.50 257.20C219.78 256.75 220.58 255.32 221.20 254.50C221.82 253.68 222.55 253.08 223.20 252.30C223.85 251.52 224.48 250.78 225.10 249.80C225.72 248.82 226.32 247.97 226.90 246.40C227.48 244.83 228.12 242.27 228.60 240.40C229.08 238.53 229.40 237.30 229.80 235.20C230.20 233.10 230.67 230.02 231.00 227.80C231.33 225.58 231.55 223.50 231.80 221.90C232.05 220.30 232.27 219.15 232.50 218.20C232.73 217.25 232.95 216.33 233.20 216.20C233.45 216.07 233.75 216.45 234.00 217.40C234.25 218.35 234.45 219.92 234.70 221.90C234.95 223.88 235.20 226.58 235.50 229.30C235.80 232.02 236.15 235.23 236.50 238.20C236.85 241.17 237.23 244.50 237.60 247.10C237.97 249.70 238.27 251.95 238.70 253.80C239.13 255.65 239.58 257.27 240.20 258.20C240.82 259.13 238.25 259.17 242.40 259.40C246.55 259.63 261.32 259.57 265.10 259.60" fill="none" stroke="#333" stroke-width="0.7"/>
<path d="M235.00 225.60H264.50M235.00 224.40v2.4M264.50 224.40v2.4" stroke="#777" stroke-width="0.7" fill="none"/>
<rect x="281.5" y="213.7" width="46.10" height="46.40" fill="none" stroke="#8a8a8a" stroke-width="0.62"/>
<path d="M280.00 260.10h1.5M280.00 246.80h1.5M280.00 233.50h1.5M280.00 220.20h1.5M281.50 260.1v1.2M293.02 260.1v1.2M304.55 260.1v1.2M316.08 260.1v1.2M327.60 260.1v1.2" stroke="#888" stroke-width="0.5"/>
<path d="M278.10 259.50h1.2v1.2h-1.2zM276.70 246.20h2.6v1.2h-2.6zM276.70 232.90h2.6v1.2h-2.6zM276.70 219.60h2.6v1.2h-2.6zM280.20 261.80h2.6v1.1h-2.6zM291.72 261.80h2.6v1.1h-2.6zM303.25 261.80h2.6v1.1h-2.6zM314.78 261.80h2.6v1.1h-2.6zM326.30 261.80h2.6v1.1h-2.6zM294.05 263.80h21v1.2h-21z" fill="#bdbdbd"/>
<path d="M281.50 256.30C281.78 255.95 282.58 254.87 283.20 254.20C283.82 253.53 284.50 253.18 285.20 252.30C285.90 251.42 286.73 250.13 287.40 248.90C288.07 247.67 288.58 246.68 289.20 244.90C289.82 243.12 290.53 240.55 291.10 238.20C291.67 235.85 292.15 233.27 292.60 230.80C293.05 228.33 293.48 225.50 293.80 223.40C294.12 221.30 294.27 219.40 294.50 218.20C294.73 217.00 294.90 216.08 295.20 216.20C295.50 216.32 295.97 217.47 296.30 218.90C296.63 220.33 296.90 222.57 297.20 224.80C297.50 227.03 297.75 229.33 298.10 232.30C298.45 235.27 298.92 239.52 299.30 242.60C299.68 245.68 299.97 248.45 300.40 250.80C300.83 253.15 301.35 255.28 301.90 256.70C302.45 258.12 299.42 258.82 303.70 259.30C307.98 259.78 323.62 259.55 327.60 259.60" fill="none" stroke="#333" stroke-width="0.7"/>
<path d="M297.80 225.60H327.00M297.80 224.40v2.4M327.00 224.40v2.4" stroke="#777" stroke-width="0.7" fill="none"/>
<rect x="345.9" y="213.5" width="46.00" height="46.60" fill="none" stroke="#8a8a8a" stroke-width="0.62"/>
<path d="M344.40 260.10h1.5M344.40 245.80h1.5M344.40 231.50h1.5M344.40 217.20h1.5M345.90 260.1v1.2M357.40 260.1v1.2M368.90 260.1v1.2M380.40 260.1v1.2M391.90 260.1v1.2" stroke="#888" stroke-width="0.5"/>
<path d="M342.50 259.50h1.2v1.2h-1.2zM341.10 245.20h2.6v1.2h-2.6zM341.10 230.90h2.6v1.2h-2.6zM341.10 216.60h2.6v1.2h-2.6zM344.60 261.80h2.6v1.1h-2.6zM356.10 261.80h2.6v1.1h-2.6zM367.60 261.80h2.6v1.1h-2.6zM379.10 261.80h2.6v1.1h-2.6zM390.60 261.80h2.6v1.1h-2.6zM358.40 263.80h21v1.2h-21z" fill="#bdbdbd"/>
<path d="M345.90 259.30C346.65 259.25 349.28 259.25 350.40 259.00C351.52 258.75 351.87 258.10 352.60 257.80C353.33 257.50 354.13 257.45 354.80 257.20C355.47 256.95 356.10 257.00 356.60 256.30C357.10 255.60 357.40 254.53 357.80 253.00C358.20 251.47 358.63 249.45 359.00 247.10C359.37 244.75 359.65 241.62 360.00 238.90C360.35 236.18 360.77 233.27 361.10 230.80C361.43 228.33 361.73 226.20 362.00 224.10C362.27 222.00 362.48 219.68 362.70 218.20C362.92 216.72 363.08 215.08 363.30 215.20C363.52 215.32 363.75 216.80 364.00 218.90C364.25 221.00 364.55 224.58 364.80 227.80C365.05 231.02 365.23 234.73 365.50 238.20C365.77 241.67 366.08 245.75 366.40 248.60C366.72 251.45 366.98 253.70 367.40 255.30C367.82 256.90 368.15 257.52 368.90 258.20C369.65 258.88 368.07 259.17 371.90 259.40C375.73 259.63 388.57 259.57 391.90 259.60" fill="none" stroke="#333" stroke-width="0.7"/>
<path d="M364.00 225.60H391.30M364.00 224.40v2.4M391.30 224.40v2.4" stroke="#777" stroke-width="0.7" fill="none"/>
<rect x="407.5" y="214.0" width="45.90" height="46.50" fill="none" stroke="#8a8a8a" stroke-width="0.62"/>
<path d="M406.00 260.50h1.5M406.00 251.70h1.5M406.00 242.90h1.5M406.00 234.10h1.5M406.00 225.30h1.5M406.00 216.50h1.5M407.50 260.5v1.2M418.98 260.5v1.2M430.45 260.5v1.2M441.92 260.5v1.2M453.40 260.5v1.2" stroke="#888" stroke-width="0.5"/>
<path d="M404.10 259.90h1.2v1.2h-1.2zM402.70 251.10h2.6v1.2h-2.6zM402.70 242.30h2.6v1.2h-2.6zM402.70 233.50h2.6v1.2h-2.6zM402.70 224.70h2.6v1.2h-2.6zM402.70 215.90h2.6v1.2h-2.6zM406.20 262.20h2.6v1.1h-2.6zM417.68 262.20h2.6v1.1h-2.6zM429.15 262.20h2.6v1.1h-2.6zM440.62 262.20h2.6v1.1h-2.6zM452.10 262.20h2.6v1.1h-2.6zM419.95 264.20h21v1.2h-21z" fill="#bdbdbd"/>
<path d="M407.50 260.00C409.22 259.98 415.78 260.20 417.80 259.90C419.82 259.60 418.98 259.10 419.60 258.20C420.22 257.30 420.93 256.10 421.50 254.50C422.07 252.90 422.50 251.32 423.00 248.60C423.50 245.88 424.05 241.67 424.50 238.20C424.95 234.73 425.33 230.77 425.70 227.80C426.07 224.83 426.38 222.13 426.70 220.40C427.02 218.67 427.30 217.77 427.60 217.40C427.90 217.03 428.20 217.20 428.50 218.20C428.80 219.20 429.08 220.82 429.40 223.40C429.72 225.98 430.05 230.00 430.40 233.70C430.75 237.40 431.12 242.13 431.50 245.60C431.88 249.07 432.25 252.27 432.70 254.50C433.15 256.73 433.47 258.08 434.20 259.00C434.93 259.92 433.90 259.83 437.10 260.00C440.30 260.17 450.68 260.00 453.40 260.00" fill="none" stroke="#333" stroke-width="0.7"/>
<path d="M423.80 226.30H452.80M423.80 225.10v2.4M452.80 225.10v2.4" stroke="#777" stroke-width="0.7" fill="none"/>
<rect x="471.2" y="213.8" width="46.20" height="46.30" fill="none" stroke="#8a8a8a" stroke-width="0.62"/>
<path d="M469.70 260.10h1.5M469.70 250.90h1.5M469.70 241.70h1.5M469.70 232.50h1.5M469.70 223.30h1.5M471.20 260.1v1.2M482.75 260.1v1.2M494.30 260.1v1.2M505.85 260.1v1.2M517.40 260.1v1.2" stroke="#888" stroke-width="0.5"/>
<path d="M467.80 259.50h1.2v1.2h-1.2zM466.40 250.30h2.6v1.2h-2.6zM466.40 241.10h2.6v1.2h-2.6zM466.40 231.90h2.6v1.2h-2.6zM466.40 222.70h2.6v1.2h-2.6zM469.90 261.80h2.6v1.1h-2.6zM481.45 261.80h2.6v1.1h-2.6zM493.00 261.80h2.6v1.1h-2.6zM504.55 261.80h2.6v1.1h-2.6zM516.10 261.80h2.6v1.1h-2.6zM483.80 263.80h21v1.2h-21z" fill="#bdbdbd"/>
<path d="M471.20 259.60C472.32 259.57 476.50 259.75 477.90 259.40C479.30 259.05 479.12 258.57 479.60 257.50C480.08 256.43 480.40 255.23 480.80 253.00C481.20 250.77 481.62 247.55 482.00 244.10C482.38 240.65 482.80 235.75 483.10 232.30C483.40 228.85 483.57 225.88 483.80 223.40C484.03 220.92 484.25 218.45 484.50 217.40C484.75 216.35 485.00 216.80 485.30 217.10C485.60 217.40 485.93 218.70 486.30 219.20C486.67 219.70 487.12 219.17 487.50 220.10C487.88 221.03 488.28 222.53 488.60 224.80C488.92 227.07 489.08 230.48 489.40 233.70C489.72 236.92 490.15 240.88 490.50 244.10C490.85 247.32 491.13 250.77 491.50 253.00C491.87 255.23 492.13 256.43 492.70 257.50C493.27 258.57 490.78 259.05 494.90 259.40C499.02 259.75 513.65 259.57 517.40 259.60" fill="none" stroke="#333" stroke-width="0.7"/>
<path d="M488.00 225.90H516.80M488.00 224.70v2.4M516.80 224.70v2.4" stroke="#777" stroke-width="0.7" fill="none"/>
<text x="224.20" y="310.20" font-size="8.4" font-weight="normal" fill="#222" stroke="#222" stroke-width="0.18" textLength="35.20" lengthAdjust="spacingAndGlyphs">Cytoplasm</text>
<text x="224.20" y="321.20" font-size="8.4" font-weight="normal" fill="#222" stroke="#222" stroke-width="0.18" textLength="26.60" lengthAdjust="spacingAndGlyphs">Nucleus</text>
<text transform="translate(269.20 298.6) rotate(-90)" font-size="8" fill="#2a2a2a" textLength="9.6" lengthAdjust="spacingAndGlyphs">GC</text>
<text transform="translate(281.50 298.6) rotate(-90)" font-size="8" fill="#2a2a2a" textLength="23" lengthAdjust="spacingAndGlyphs">Pro-GC</text>
<text transform="translate(294.70 298.6) rotate(-90)" font-size="8" fill="#2a2a2a" textLength="18.6" lengthAdjust="spacingAndGlyphs">Naïve</text>
<text transform="translate(307.60 298.6) rotate(-90)" font-size="8" fill="#2a2a2a" textLength="22.6" lengthAdjust="spacingAndGlyphs">Pre-GC</text>
<defs><filter id="bl" x="-50%" y="-50%" width="200%" height="200%"><feGaussianBlur stdDeviation="0.9"/></filter></defs>
<rect x="260.2" y="301.4" width="51" height="9.4" fill="#efefef" stroke="#222" stroke-width="0.9"/>
<rect x="260.2" y="314.2" width="51" height="8.7" fill="#efefef" stroke="#222" stroke-width="0.9"/>
<rect x="261.95" y="304.20" width="8.5" height="3.8" rx="1.9" fill="#686868" filter="url(#bl)"/>
<rect x="275.00" y="304.10" width="8" height="3.8" rx="1.9" fill="#646464" filter="url(#bl)"/>
<rect x="287.35" y="304.50" width="8.5" height="3.4" rx="1.7" fill="#a8a8a8" filter="url(#bl)"/>
<rect x="302.75" y="303.90" width="6.5" height="3.8" rx="1.9" fill="#747474" filter="url(#bl)"/>
<rect x="261.45" y="316.40" width="9.5" height="4.2" rx="2.1" fill="#000" filter="url(#bl)"/>
<rect x="275.45" y="316.90" width="7.5" height="3.4" rx="1.7" fill="#888" filter="url(#bl)"/>
<rect x="288.10" y="317.20" width="7" height="3.2" rx="1.6" fill="#b8b8b8" filter="url(#bl)"/>
<rect x="301.75" y="317.30" width="6.5" height="3.0" rx="1.5" fill="#c6c6c6" filter="url(#bl)"/>
<text x="282.60" y="333.00" font-size="8.4" font-weight="normal" fill="#222" stroke="#222" stroke-width="0.18" textLength="12.00" lengthAdjust="spacingAndGlyphs">AID</text>
<text x="279.80" y="340.00" font-size="5.8" font-weight="normal" fill="#333" textLength="17.20" lengthAdjust="spacingAndGlyphs">27kDa</text>
</svg>
</body></html>
